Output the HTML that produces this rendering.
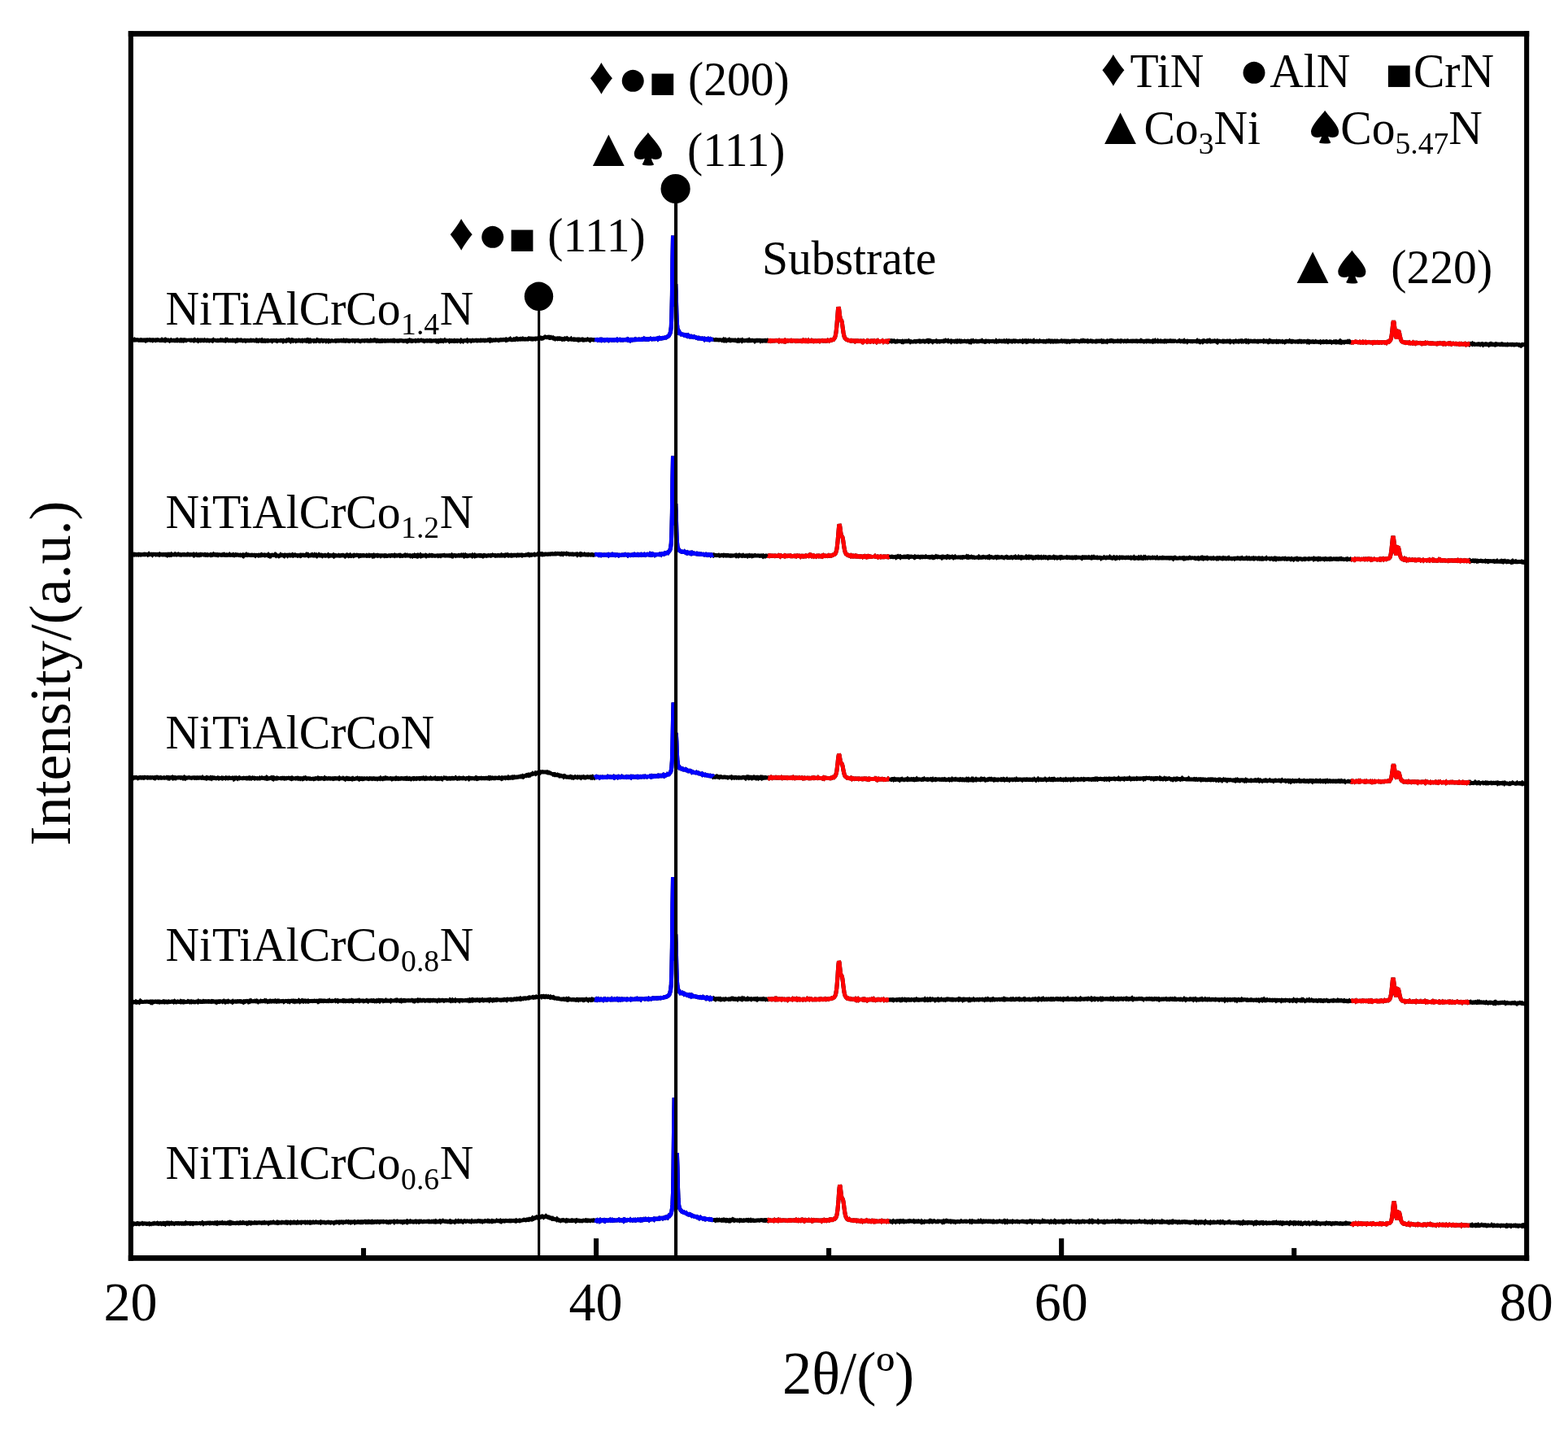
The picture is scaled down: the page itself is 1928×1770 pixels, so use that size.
<!DOCTYPE html>
<html lang="en">
<head>
<meta charset="utf-8">
<title>XRD patterns</title>
<style>
html,body{margin:0;padding:0;background:#fff;}
body{width:1928px;height:1770px;overflow:hidden;}
svg{display:block;}
.t{font-family:"Liberation Serif","DejaVu Serif",serif;fill:#000;}
.s{font-family:"Liberation Serif","DejaVu Sans",serif;fill:#000;}
.w{font-family:"WenQuanYi Zen Hei","Noto Sans CJK SC","DejaVu Sans",sans-serif;fill:#000;}
.c path{fill:none;stroke-width:5;stroke-linejoin:miter;stroke-miterlimit:1.6;stroke-linecap:butt;}
.d{fill:#000;}
</style>
</head>
<body>
<svg width="1928" height="1770" viewBox="0 0 1928 1770" role="img" aria-label="XRD patterns">
<rect width="1928" height="1770" fill="#fff"/>
<g class="c">
<path d="M160.8 417.9l.6 0l.6 .1l.5-.5l.6 .6l.5-.2l.6-.1l.5 .2l.6-.5l.5 .5l.6-.2l.5 .3l.6 0l.5-.3l.6 0l.5-.2l.6 .2l.5 .3l.6 .2l.5-.2l.6-.1l.5-.2l.6 .3l.5-.3l.6 .3l.5-.1l.6 .3l.5-.2l.6 .1l.5-.2l.6 .3l.5-.2l.6 .4l.5-.9l.6 .7l.5-.5l.6 0l.5 .3l.6-.4l.5 .1l.6 .2l.5 0l.6-.4l.5 .3l.6 .4l.5-.2l.6-.2l.5 .2l.6-.1l.5 .4l.6-.5l.5 .2l.6-.1l.5 1.3l.6-1.4l.5 .4l.6-.5l.5 0l.6 .2l.5 .1l.6-.4l.5 .3l.6 .1l.5 0l.6 .3l.5-.1l.6-.1l.5 .2l.6 0l.5-.5l.6 .8l.5-.6l.6-.1l.5 .3l.6-.3l.5 .3l.6-.5l.5 .6l.6-.6l.5 .5l.6-.2l.5-.1l.6 .2l.5-.2l.6 0l.5 .3l.6 .4l.5-.8l.6 .6l.5 0l.6-.6l.5 .3l.6 .1l.5-.7l.6 .9l.5-.1l.6 .2l.5-.3l.6 .2l.5 .2l.6-.4l.5-.2l.6-.3l.5 .5l.6-.4l.5 .6l.6-.2l.5 .1l.6-.1l.5 .3l.6-.5l.5 .2l.6 .3l.5-.7l.6 .3l.5 .3l.6-.5l.5 .1l.6-.2l.5 .7l.6-.4l.5 0l.6-.3l.5 .1l.6 .5l.5-.3l.6 0l.5 1.2l.6-1.8l.5 1.1l.6-.5l.5-.1l.6 .1l.5 .1l.6 .2l.5-.4l.6 0l.5 .2l.6 .1l.5 .1l.6-.3l.5 .4l.6-.6l.5 .7l.6-.7l.5 .3l.6 .1l.5 .2l.6 .1l.5-.4l.6 .5l.5-.7l.6 .3l.5-.1l.6 .2l.5-.4l.6 0l.5 .6l.6-.1l.5-.1l.6-.3l.5 .3l.6 0l.5 .2l.6-.3l.5-.5l.6 .4l.5 .1l.6 .2l.5-.3l.6-.2l.5 .6l.6-.2l.5-.4l.6 .1l.5 .4l.6-.6l.5 1.4l.6-1l.5-.1l.6 .3l.5-.3l.6 .1l.5 .4l.6-.6l.5 .7l.6-.9l.5 .2l.6 1l.5-1l.6 .1l.5 .3l.6 .1l.5-.2l.6-.2l.5 .3l.6-.1l.5 .2l.6-.2l.5-.3l.6 .2l.5-.4l.6 .6l.5 0l.6-.2l.5-.3l.6 .2l.5 .3l.6-.2l.5 .1l.6 .3l.5-.2l.6-.6l.5 .6l.6-.4l.5-.3l.6 .9l.5-.7l.6 .3l.5 .4l.6-.1l.5-.2l.6-.2l.5 .3l.6-.1l.5 .2l.6-.1l.5 .1l.6-.6l.5 .2l.6 .2l.5 .1l.6-.3l.5 0l.6 .2l.5 .8l.6-.3l.5-.6l.6 .3l.5-.6l.6 .4l.5-.1l.6-.2l.5 .1l.6 .1l.5-.1l.6-.3l.5 .5l.6 0l.5 0l.6 .3l.5-.3l.6 .1l.5-.1l.6 .1l.5-.3l.6 .2l.5 .5l.6-.4l.5-.1l.6-.1l.5 .3l.6-.1l.5 0l.6 .2l.5-.2l.6 0l.5-.2l.6-.2l.5 .5l.6 0l.5-.3l.6 0l.5-.1l.6 0l.5 .2l.6 .1l.5 .2l.6-.1l.5-.2l.6 .3l.5-.7l.6 .4l.5 .2l.6 .3l.5-.8l.6 .1l.5 .2l.6-.3l.5 .4l.6 .1l.5-.2l.6-.4l.5 1l.6-.1l.5-.3l.6 .3l.5-.6l.6-.1l.5 .4l.6 .4l.5-.5l.6 .2l.5 .2l.6-.4l.5 .2l.6-.3l.5 .5l.6-.3l.5-.1l.6-.1l.5-.6l.6 .8l.5-.1l.6 0l.5-.1l.6 .6l.5-.5l.6-1.4l.5 1.4l.6-.2l.5 .1l.6 .1l.5 .1l.6 .1l.5-.3l.6 .4l.5-.9l.6 1l.5-.2l.6 0l.5-.1l.6 .1l.5-.1l.6-.1l.5-.2l.6 .4l.5-.1l.6-.2l.5 .2l.6-.2l.5 .8l.6-.5l.5 0l.6 .1l.5-1.1l.6 .9l.5 .3l.6-.6l.5 .4l.6 0l.5-.4l.6 1.1l.5-.8l.6-.6l.5 .6l.6 .3l.5 .4l.6-.8l.5-.4l.6 .7l.5-.1l.6 .2l.5-.7l.6 .3l.5 .1l.6-.1l.5 0l.6 0l.5 .5l.6-.5l.5 .3l.6-.2l.5 .2l.6 .1l.5-.2l.6-.6l.5 .2l.6 .1l.5 .4l.6-.4l.5 0l.6 .6l.5 .2l.6-.9l.5 .2l.6 .1l.5-.3l.6 .2l.5-.3l.6 .5l.5-.2l.6-.2l.5-.3l.6 .9l.5-.3l.6-.6l.5 .6l.6 .6l.5-.6l.6 .3l.5-.6l.6 .6l.5-.6l.6 0l.5 .2l.6 .2l.5 .1l.6-.4l.5-.1l.6 .8l.5-.3l.6 0l.5-.1l.6 .5l.5-.3l.6-.8l.5 .5l.6 .1l.5-.7l.6 .3l.5 .6l.6-.4l.5 .5l.6-.5l.5-.2l.6 1.5l.5-1l.6-.2l.5 .4l.6-.4l.5-.2l.6 .5l.5-.2l.6-.2l.5 .2l.6-.2l.5 .7l.6-.4l.5-.2l.6-.1l.5-.1l.6 .7l.5-.5l.6 .4l.5-.1l.6 .3l.5-.5l.6-.1l.5-.1l.6 .2l.5 .2l.6 0l.5 0l.6-1.1l.5 .7l.6 0l.5 0l.6 .5l.5-.4l.6-.1l.5 .3l.6-.2l.5 .1l.6-.2l.5 0l.6 .4l.5-.2l.6-.2l.5 .2l.6 .1l.5-.4l.6 .4l.5 .1l.6-.3l.5 .2l.6-.6l.5 .4l.6 .3l.5-.3l.6 .4l.5-.2l.6 0l.5-.6l.6 .1l.5 .3l.6 .1l.5 .3l.6-.3l.5 .3l.6-.6l.5 .8l.6-.6l.5-.1l.6-.1l.5-.1l.6 .5l.5-.2l.6-.2l.5 .2l.6 0l.5 .5l.6-.5l.5 .2l.6-.2l.5-.1l.6 .1l.5 .1l.6-.3l.5 .4l.6 0l.5 .3l.6 0l.5 .3l.6-.5l.5 0l.6-.2l.5 .1l.6-.2l.5 .1l.6 .1l.5 .1l.6 .1l.5-.5l.6 0l.5 .2l.6 0l.5 0l.6-.3l.5 .4l.6-.2l.5 .2l.6-1.2l.5 .9l.6 .4l.5 0l.6-.5l.5 .5l.6-.2l.5 .1l.6-.3l.5 .1l.6-.3l.5 .5l.6-.1l.5 0l.6-.7l.5 .4l.6 .2l.5 .4l.6-.4l.5 .6l.6 0l.5-.9l.6 1.4l.5-1.1l.6 .1l.5 .7l.6 0l.5-.7l.6-.2l.5 .3l.6 .2l.5-.4l.6 .3l.5-.1l.6 0l.5 .2l.6-.6l.5 0l.6 .2l.5 .4l.6-.1l.5-.2l.6 .2l.5-.5l.6 .2l.5 .3l.6 .3l.5 .7l.6-1.1l.5-.3l.6 .1l.5 .2l.6 .1l.5-.4l.6 .2l.5 .2l.6 .2l.5-.7l.6 .3l.5 0l.6 0l.5 .1l.6-.1l.5 .1l.6 .3l.5 0l.6-.5l.5 .1l.6 .2l.5-.2l.6 .8l.5-1l.6 .1l.5-.1l.6 0l.5 .1l.6 .1l.5 .5l.6 0l.5-.4l.6 .1l.5 0l.6-.2l.5 0l.6 .4l.5-.7l.6 .7l.5-.6l.6-.2l.5 .6l.6-.4l.5-.4l.6 .8l.5 0l.6-.2l.5 .3l.6-.5l.5 .3l.6 .3l.5-.3l.6-.1l.5-.1l.6 .1l.5 .1l.6-.3l.5 .5l.6-.4l.5 .1l.6 .2l.5-.1l.6-.5l.5 .4l.6 .2l.5-.2l.6-.2l.5-.1l.6-.1l.5 .9l.6-.9l.5 .1l.6 0l.5 .4l.6 .2l.5-.2l.6 .4l.5-.4l.6 0l.5 0l.6-.2l.5 .1l.6 .2l.5-.4l.6 .2l.5 .1l.6 0l.5-.1l.6-.3l.5 .5l.6-.2l.5 .9l.6-1.3l.5 .8l.6-.1l.5 0l.6-.4l.5 0l.6 .1l.5-.1l.6 .1l.5-.2l.6 0l.5 .5l.6-.9l.5 .7l.6 0l.5 .5l.6-.8l.5 0l.6 .6l.5-.3l.6-.4l.5 .5l.6-.3l.5 .3l.6-.4l.5 .4l.6 .3l.5-.7l.6 .1l.5-.4l.6 1.1l.5-.6l.6 .2l.5-.5l.6 1.1l.5-1.2l.6-.9l.5 1.2l.6 1l.5-1.2l.6 .7l.5-.6l.6 .3l.5-.3l.6 0l.5 .5l.6-.2l.5 .3l.6 .1l.5-.4l.6-.3l.5 .4l.6-.5l.5 .3l.6 .5l.5-.1l.6-.5l.5-.2l.6 0l.5 .6l.6-.3l.5 .2l.6-.1l.5-.1l.6-.2l.5 .6l.6-.7l.5 .6l.6-.3l.5 .2l.6 .4l.5-1l.6 .5l.5-.2l.6-.1l.5 .1l.6 0l.5-.1l.6-.2l.5 .1l.6 .5l.5-.8l.6 .4l.5 .1l.6 0l.5-.2l.6-.2l.5 .2l.6 .1l.5-1.4l.6 1.6l.5-.3l.6-.3l.5 .1l.6 .3l.5 .2l.6-.2l.5-.2l.6 0l.5-.1l.6-.1l.5 .3l.6 .3l.5-.3l.6-.2l.5 0l.6 .3l.5-.1l.6 .3l.5 0l.6-.5l.5 .3l.6-.4l.5 .2l.6 0l.5-.1l.6-.1l.5 .3l.6 .2l.5-.3l.6 .2l.5-.4l.6 .2l.5 .1l.6 0l.5-.2l.6-.3l.5-.3l.6-.1l.5 .3l.6 .6l.5-.6l.6 .4l.5-.7l.6 .3l.5 .2l.6 .4l.5-.3l.6-.2l.5 .3l.6 0l.5-.2l.6 0l.5 .1l.6-.4l.5 .3l.6 0l.5 0l.6 .1l.5-.2l.6 .4l.5-.5l.6 0l.5 0l.6-.3l.5 .2l.6-.2l.5 .2l.6-.2l.5 0l.6 .2l.5-.1l.6-.4l.5 .1l.6-.1l.5 .4l.6-.4l.5 .6l.6-.6l.5 .3l.6 .3l.5-.4l.6-.2l.5-.2l.6 .1l.5-.1l.6-.5l.5 .7l.6 .2l.5 .1l.6-1l.5 .5l.6 .1l.5 .2l.6-.4l.5 .3l.6-.2l.5 .3l.6-.5l.5 .8l.6-.8l.5-.4l.6 .7l.5 .1l.6-.4l.5-.1l.6 1.1l.5-.5l.6-.2l.5-.5l.6-.3l.5 .3l.6 .1l.5 .3l.6 0l.5-.7l.6 .4l.5-.1l.6 .1l.5 .2l.6-.3l.5 .1l.6-.7l.5 1l.6 0l.5-.4l.6 .2l.5-.4l.6-.6l.5 .2l.6 0l.5 .5l.6 .2l.5-.3l.6 .3l.5-.5l.6 .2l.5 .3l.6-.5l.5 .1l.6-.1l.5 .3l.6 .2l.5-.8l.6 0l.5 0l.6 .2l.5-.2l.6 .4l.5-.2l.6-.2l.5 .1l.6 0l.5-.2l.6 .1l.5-.6l.6 .5l.5-.4l.6 .2l.5 .2l.6-.4l.5-.4l.6 0l.5-.4l.6-.5l.5 .4l.6 0l.5-.1l.6 .2l.5-.3l.6-.1l.5 0l.6-.1l.5 .8l.6 .4l.5 0l.6-.4l.5 .8l.6-.9l.5 .3l.6 0l.5 .8l.6-.6l.5 .5l.6-.3l.5 .2l.6 .5l.5-.7l.6 1.4l.5-1l.6 0l.5 .3l.6-.3l.5 .5l.6-.3l.5-.2l.6 .3l.5-.3l.6 .5l.5-.2l.6 0l.5 .4l.6 .4l.5-.4l.6-.3l.5 0l.6 .4l.5-.4l.6 .3l.5-.5l.6 .4l.5 0l.6-.3l.5 1.3l.6-1.3l.5 .3l.6 .6l.5-.3l.6-.8l.5 .8l.6-.1l.5 .1l.6-.5l.5 .7l.6-1l.5 1.1l.6 0l.5 0l.6-.3l.5 .4l.6-.4l.5 .1l.6 .3l.5 .1l.6 0l.5-.2l.6 .4l.5-.2l.6 .4l.5-.7l.6 0l.5 .2l.6 .4l.5-.3l.6-.1l.5 .1l.6 .1l.5 .2l.6-.7l.5 .1l.6 .5l.5 .4l.6-.1l.5-.9l.6 .6l.5-.2l.6-.1l.5 .3l.6-.3l.5 .8l.6-.6l.5-.1l.6 .1l.5 .3l.6 .4l.5-.8l.6-.1l.5 .3l.6-.3l.5 .1l.6 0l.5 .1l.6 .4l.5 .1l.6-.2l.5-.3l.6 0l.5 .2l.6-.1l.5 1.4l.6-1.2l.5-.7l.6 .9l.5-.3l.6 .2l.5 .1l.6-.4l.5 .4l.6-.4l.5 .4l.6-.4l.5 .7l.6-.3l.5-.5l.6 .2l.5 .3l.6 .2l.5-.9l.6 .7l.5-.4l.6 0l.5 0l.6-.1l.5 .4l.6-.1l.5-.1l.6 .5l.5-.6l.6 .1l.5 0l.6-.1l.5-.1l.6 0l.5 .5l.6-.1l.5 .2l.6-.2l.5-.2l.6 0l.5 .3l.6-.4l.5 .1l.6-.2l.5-.1l.6 .4l.5-.4l.6 .6l.5-.5l.6 .2l.5-.2l.6-.1l.5-.1l.6 .5l.5-.1l.6 .4l.5 0l.6-.3l.5 0l.6 .2l.5-.3l.6 .1l.5 0l.6 0l.5 0l.6-.2l.5-.3l.6-.1l.5 .4l.6 .3l.5 .2l.6-1l.5 .3l.6 .3l.5-.1l.6 .2l.5 .7l.6-.4l.5-.7l.6 .1l.5-.1l.6 .5l.5-.2l.6 0l.5-.3l.6 .1l.5 .1l.6-.6l.5 .4l.6-.1l.5 .2l.6-.2l.5 .1l.6 .1l.5-.2l.6-.3l.5 .3l.6-.1l.5 0l.6 .3l.5-.1l.6 0l.5-.4l.6 .2l.5-.4l.6 .1l.5-.5l.6 .6l.5 .1l.6-.4l.5 .3l.6 .1l.5-.2l.6 .2l.5-.3l.6 0l.5 .5l.6-.1l.5-.4l.6 0l.5 0l.6 .6l.5-.9l.6 .3l.5 .1l.6-.1l.5-.3l.6 0l.5-.1l.6 .4l.5 0l.6-.1l.5-.1l.6-.3l.5 0l.6 .1l.5-.3l.6 .6l.5-.6l.6 .4l.5 0l.6-.7l.5 .4l.6-.1l.5-.2l.6 .1l.5-.4l.6 0l.5-.2l.6 .2l.5-.1l.6-.3l.5 0l.6-.2l.5-.1l.6 .1l.5-.5l.6-.1l.5-.3l.6-.5l.5-.2l.6-.2l.5-.6l.6-1.1l.5-1.1l.6-1.4l.5-2.3l.6-5.2l.5-11.8l.6-26.9l.5-43.9l.6-29.4l.5 23.6l.6 41.2l.5 21.1l.6-.5l.5-15.1l.6-10.8l.5 14.6l.6 20.9l.5 12.9l.6 5.7l.5 2.7l.6 1.8l.5 1l.6-.3l.5 1.2l.6-.1l.5 .5l.6 .3l.5 .8l.6-.1l.5 .1l.6 .1l.5 .1l.6 .5l.5 .1l.6 .6l.5 0l.6-.4l.5 .3l.6-.2l.5 .7l.6-.1l.5 .4l.6-.6l.5 .6l.6 .2l.5 0l.6 .6l.5-.2l.6-.2l.5 .6l.6 0l.5-.3l.6 .1l.5 0l.6 .5l.5-.2l.6 1l.5-.6l.6-.1l.5 .2l.6 .6l.5 .1l.6-.1l.5 .3l.6-.3l.5-.1l.6 .7l.5 0l.6-.1l.5-1.4l.6 1.4l.5 .3l.6 .3l.5-.1l.6-.2l.5 .4l.6 0l.5 .1l.6 .6l.5-.6l.6 .6l.5 0l.6-.3l.5-.1l.6 .3l.5 .4l.6-.1l.5-.6l.6 .6l.5-.3l.6-.3l.5 .8l.6-.4l.5-.2l.6 .4l.5 .8l.6-.9l.5-.1l.6 .1l.5 .3l.6 .8l.5-1.4l.6 .8l.5 0l.6-.4l.5 .1l.6 .3l.5 0l.6 0l.5 0l.6 .2l.5 0l.6-.3l.5 0l.6 .8l.5-.6l.6 .1l.5 0l.6 .5l.5-.2l.6-.3l.5-.5l.6 .8l.5-.4l.6-.3l.5 .9l.6-.3l.5-.6l.6 .8l.5-.4l.6 0l.5 .1l.6 .1l.5-.4l.6 .8l.5-.7l.6 .5l.5-.4l.6 .1l.5 .2l.6-.3l.5 .2l.6 .1l.5-.1l.6 .2l.5-.2l.6 .1l.5-.2l.6 .4l.5-.2l.6 .2l.5 .3l.6-1.1l.5 .8l.6-.6l.5 .3l.6 .6l.5-.4l.6-.3l.5 .4l.6-.2l.5-.1l.6-.3l.5 .9l.6-.5l.5 .4l.6-.1l.5 0l.6 .2l.5-.4l.6 0l.5-.1l.6 .3l.5 0l.6-.3l.5 .5l.6 .1l.5-.3l.6 .1l.5-.7l.6 .5l.5 0l.6 .2l.5 0l.6-.3l.5-.2l.6 .3l.5-.1l.6 0l.5 .1l.6 .3l.5 .6l.6-.6l.5-.1l.6-.5l.5 0l.6 .4l.5-.3l.6 .2l.5 .1l.6-.4l.5 0l.6 .9l.5-1l.6 .9l.5-.4l.6 .2l.5 .2l.6-.6l.5 0l.6 .1l.5 .3l.6 .1l.5-.1l.6-.5l.5 0l.6 .2l.5 .6l.6-.1l.5-.1l.6-.6l.5 .3l.6 .4l.5-.2l.6-.1l.5 .3l.6-.3l.5 .4l.6-.4l.5-.2l.6 .1l.5 .4l.6-.1l.5-.1l.6 .2l.5 0l.6-.1l.5-.4l.6-.1l.5 .2l.6 .2l.5 0l.6-.1l.5 .1l.6-.2l.5 .6l.6-.7l.5 .3l.6 .3l.5-.3l.6 .2l.5 .3l.6-.7l.5-.1l.6 .3l.5-.1l.6 .6l.5-.6l.6-.4l.5 .6l.6-.6l.5 .9l.6-.5l.5 .3l.6-.1l.5-.3l.6 .4l.5-.2l.6-.1l.5 .1l.6 0l.5 .2l.6-.2l.5-.4l.6 .2l.5 .5l.6-.2l.5-.2l.6 .1l.5-.1l.6 .1l.5 .2l.6 .3l.5-.4l.6 .3l.5-.2l.6-.2l.5 .1l.6 .4l.5-.1l.6-.2l.5 0l.6 .1l.5 0l.6 .2l.5-.5l.6 0l.5 .3l.6-.5l.5 .9l.6-.1l.5 0l.6 .1l.5-.7l.6 .3l.5 .2l.6-.7l.5 .3l.6 .1l.5 .1l.6-.5l.5 .8l.6-.2l.5-.9l.6 .9l.5-.2l.6 .2l.5-.1l.6-.5l.5 .4l.6 .3l.5-.4l.6 .3l.5 .3l.6-.4l.5 0l.6 .2l.5-.4l.6 .2l.5 .3l.6-.2l.5-.2l.6 .2l.5-.2l.6-.3l.5 .1l.6 .5l.5-.5l.6-.1l.5-.5l.6 1.5l.5-.7l.6 0l.5-.5l.6 .1l.5 .4l.6-.2l.5-.1l.6 .1l.5 .3l.6-.4l.5 0l.6 .2l.5-.4l.6-.4l.5 .3l.6 .2l.5-.6l.6 .8l.5-.4l.6-.4l.5 .3l.6-.1l.5-.1l.6-.5l.5-.3l.6-.2l.5 .2l.6-.8l.5-.6l.6-1l.5-1.8l.6-2.5l.5-3.8l.6-5.2l.5-6.8l.6-7.4l.5-6.6l.6-3.3l.5 1.4l.6 4.4l.5 4.7l.6 3.3l.5 1.5l.6 .5l.5 .9l.6 2.6l.5 3.9l.6 4.2l.5 3.8l.6 2.9l.5 2.1l.6 1.3l.5 1.1l.6 .4l.5 .6l.6 .3l.5 .2l.6 .2l.5 .2l.6 .4l.5-.1l.6 .1l.5 .2l.6 .2l.5-.1l.6 .3l.5-.6l.6 .1l.5 .2l.6 0l.5 .3l.6 0l.5 .2l.6-.2l.5 .5l.6-.5l.5 .3l.6-.4l.5-.2l.6 0l.5 .1l.6 .6l.5-.1l.6 .1l.5-.2l.6-.1l.5 .2l.6 .2l.5-.3l.6 .3l.5 .5l.6-.7l.5-.2l.6 .8l.5-.5l.6-.1l.5 .2l.6 1l.5-1.1l.6 0l.5 .4l.6-.7l.5 .5l.6-.6l.5 .4l.6 .2l.5-.3l.6 .1l.5 .4l.6-.5l.5 .3l.6-.4l.5 .3l.6-.3l.5 .3l.6-.3l.5 .7l.6-.3l.5-.5l.6 .5l.5 0l.6 .1l.5 .5l.6-.8l.5 .2l.6-.6l.5 .6l.6 .1l.5-.3l.6 .2l.5 .2l.6-.2l.5-.2l.6 0l.5 0l.6-.4l.5 .8l.6-.7l.5 .9l.6-.5l.5 0l.6-.1l.5 .1l.6 .3l.5-.4l.6 .2l.5-.3l.6 .6l.5-.6l.6-.3l.5 .8l.6-.3l.5 0l.6-.4l.5 .3l.6 .2l.5-.9l.6 .1l.5 2.2l.6-1.3l.5-.5l.6-.2l.5 .6l.6 .2l.5-.6l.6 .8l.5-.2l.6-.4l.5 .3l.6-.4l.5 .4l.6-.1l.5-.1l.6-.1l.5 .1l.6 0l.5 0l.6 0l.5 .4l.6-.5l.5-.2l.6 .7l.5-.6l.6 .9l.5-.2l.6-.1l.5-.5l.6 .4l.5 0l.6-.3l.5-.3l.6 .1l.5 .5l.6 0l.5-.5l.6 .8l.5-1.6l.6 1l.5 .7l.6-.5l.5 .3l.6-.1l.5-.9l.6 .9l.5 0l.6 .1l.5-.2l.6-.4l.5 .1l.6 .3l.5-.3l.6 .3l.5-.3l.6-.2l.5 0l.6 .2l.5-.1l.6 .2l.5-.5l.6 .3l.5 .6l.6-.1l.5-.7l.6 .1l.5 .2l.6-.2l.5-.2l.6 .3l.5-.2l.6 .4l.5 .3l.6-.5l.5 .1l.6-.1l.5-.4l.6 .3l.5-.4l.6 .7l.5 .3l.6-.7l.5 .6l.6-.2l.5 0l.6 .7l.5-1.1l.6 .3l.5 .2l.6 .5l.5-.7l.6 0l.5 .1l.6-.2l.5 .1l.6 .1l.5 0l.6-.1l.5-.5l.6 .4l.5 .5l.6-.3l.5-.2l.6 .2l.5 .2l.6-.2l.5 .3l.6-.3l.5 0l.6-.2l.5 .1l.6 0l.5-.2l.6 .3l.5 .1l.6-.6l.5-.4l.6 .2l.5 .8l.6 .5l.5-1.5l.6 .3l.5 .9l.6-.6l.5-.4l.6 .8l.5-.1l.6-.3l.5 0l.6 0l.5-.2l.6 .8l.5-.5l.6 .2l.5-.3l.6 0l.5 .2l.6 .1l.5-.1l.6 .4l.5-.2l.6-.4l.5 .3l.6-.3l.5-.2l.6 .8l.5-.2l.6-.3l.5 .4l.6 0l.5-.5l.6 .6l.5 .1l.6-.6l.5-.3l.6 .3l.5 .3l.6 0l.5-.1l.6 0l.5 0l.6-.4l.5 .3l.6 .2l.5-.1l.6 0l.5 .2l.6-.1l.5-.6l.6 .1l.5 .2l.6 .6l.5-.5l.6 .1l.5 .5l.6-.6l.5 .5l.6-.8l.5 .3l.6-.2l.5-.4l.6 .6l.5 .3l.6-.3l.5 0l.6 0l.5-.3l.6 .5l.5 .1l.6-.3l.5 .3l.6-.2l.5-.2l.6 .3l.5-.2l.6-.2l.5-.2l.6 .1l.5 .2l.6 .1l.5-.6l.6 .6l.5-.1l.6 .3l.5 0l.6 .3l.5-.6l.6 0l.5-.2l.6 .8l.5-.2l.6-.3l.5-.2l.6 .1l.5-.2l.6 0l.5 .4l.6-.6l.5 1l.6-.5l.5 0l.6-.1l.5 0l.6 0l.5-.1l.6 0l.5 .1l.6 .1l.5 .4l.6-.3l.5-.2l.6 .3l.5-.8l.6 .5l.5 .4l.6-.2l.5 .1l.6-.5l.5-.2l.6 .4l.5-.1l.6 .2l.5 1l.6-1l.5 .2l.6-.5l.5 .1l.6 0l.5 .3l.6 .1l.5-.6l.6 .4l.5 0l.6 .3l.5-.1l.6-.7l.5 .4l.6 0l.5 .5l.6-.6l.5 .2l.6-.5l.5 .3l.6 .3l.5-.2l.6-.3l.5 .1l.6 .5l.5-.4l.6 0l.5-.3l.6 .4l.5 0l.6-.3l.5 .5l.6-.4l.5 0l.6-.1l.5 .1l.6 .1l.5 .2l.6 .3l.5-.1l.6-.4l.5-.2l.6 .2l.5-.1l.6 .2l.5 0l.6 .2l.5 .3l.6-.7l.5 .5l.6 .1l.5-.2l.6 0l.5-.6l.6 .3l.5-.3l.6 .8l.5-.5l.6 0l.5 .4l.6-.5l.5 .5l.6-.2l.5-.4l.6 0l.5-.1l.6 .5l.5 .1l.6-.2l.5 .2l.6-.2l.5-.2l.6-.4l.5 1l.6-.2l.5 .2l.6-.2l.5-.2l.6 0l.5-.2l.6 .4l.5-.2l.6 .1l.5 .2l.6-.9l.5 .8l.6-.6l.5 .4l.6 .1l.5 0l.6-.1l.5 0l.6 0l.5 .3l.6-.3l.5 .3l.6-.2l.5 .3l.6-.1l.5 .2l.6-.7l.5 .8l.6-.7l.5 .2l.6-.3l.5 .4l.6-.3l.5-.4l.6 .4l.5 .3l.6-.3l.5 .4l.6-.5l.5-.2l.6 0l.5 .2l.6 .6l.5-.3l.6-.2l.5-.2l.6 .5l.5-.2l.6 .3l.5-.4l.6-.2l.5 .5l.6 .2l.5-.3l.6 .2l.5 0l.6-.1l.5-.1l.6 0l.5-.2l.6 .1l.5 1.6l.6-1.6l.5 .3l.6-.2l.5-.4l.6 .1l.5-.1l.6 0l.5 .5l.6-.3l.5 .2l.6 .4l.5-.6l.6 .1l.5 .2l.6-.4l.5 .1l.6 .4l.5-.8l.6 .6l.5 .1l.6-.3l.5-.1l.6 .3l.5-.3l.6-.2l.5 .5l.6 0l.5 .1l.6-.5l.5 .3l.6-.1l.5-.1l.6-.1l.5 .1l.6 .1l.5-.1l.6 .1l.5 .3l.6-.1l.5 .3l.6-.4l.5-.2l.6-.3l.5 .6l.6 .1l.5-.4l.6 0l.5-.5l.6 .5l.5 .1l.6-.3l.5 .4l.6-.2l.5-.1l.6 1l.5-.6l.6 .1l.5 .2l.6-.7l.5 .3l.6 .2l.5-.1l.6-.8l.5 1.2l.6-.8l.5 .2l.6 .3l.5-.4l.6 .3l.5 .3l.6-.1l.5-.2l.6-.1l.5-1l.6 1l.5 .6l.6 0l.5-.9l.6 0l.5 .3l.6 .2l.5 0l.6 0l.5-.5l.6 .2l.5 .1l.6-.2l.5 .9l.6-.8l.5 .5l.6-.6l.5-.3l.6 0l.5 .9l.6-.3l.5-.7l.6 .8l.5-.2l.6-.8l.5 .9l.6-.3l.5 .6l.6-.6l.5 .1l.6 .1l.5-.3l.6 0l.5 .1l.6-.6l.5-.1l.6 .7l.5 .1l.6 0l.5-.4l.6 .3l.5 .4l.6-.4l.5 .2l.6 .2l.5-.2l.6 .7l.5-.7l.6 0l.5-.2l.6 .2l.5-.4l.6 .3l.5 .1l.6-.2l.5 .3l.6-.3l.5 .3l.6-.7l.5 .1l.6 .7l.5-.7l.6 .7l.5-.9l.6 .7l.5-.2l.6-.2l.5 .3l.6 .1l.5 .2l.6-.5l.5-.2l.6 .3l.5-.3l.6 .3l.5 .1l.6 .2l.5-.1l.6-.1l.5-.1l.6-.1l.5 .3l.6-.2l.5-.1l.6 .4l.5-.1l.6-.3l.5 .1l.6 .2l.5-.2l.6 .3l.5-.1l.6 .1l.5-.6l.6 .1l.5 .5l.6-.3l.5 0l.6 0l.5 .1l.6 .2l.5-.4l.6-.5l.5 .5l.6 .4l.5 0l.6-.4l.5 .1l.6 .6l.5 .2l.6-.4l.5-.2l.6-.3l.5-.1l.6 0l.5 .5l.6-.4l.5 .4l.6 .1l.5 0l.6-.4l.5 .4l.6-.1l.5 .1l.6-.3l.5 .1l.6 .3l.5-.3l.6-.3l.5 .5l.6-.6l.5 .4l.6 .4l.5-.2l.6-.7l.5 .6l.6-.2l.5 .1l.6-.1l.5 .6l.6-.8l.5 .5l.6-.3l.5 0l.6 .2l.5 .2l.6 0l.5-.6l.6 .3l.5-.1l.6 .4l.5-.1l.6-.2l.5 .2l.6-.4l.5-.2l.6 .7l.5-.2l.6-.2l.5 .3l.6-.6l.5 0l.6 .2l.5 .1l.6 .1l.5-.3l.6-.2l.5 .3l.6 .1l.5-.4l.6 .2l.5 .3l.6 .1l.5-.3l.6-.2l.5 .3l.6-.1l.5 .1l.6-.2l.5 .4l.6 .6l.5-1l.6 .5l.5-1l.6 .9l.5-.1l.6-.1l.5 0l.6-.5l.5 .4l.6 .2l.5 .3l.6-.2l.5-.3l.6 .1l.5 .2l.6-.3l.5 .2l.6-.4l.5 1.1l.6 0l.5-.6l.6-.1l.5-.1l.6-.1l.5 0l.6 .8l.5-.5l.6 .4l.5-1.8l.6 1.7l.5-.4l.6 .1l.5 .1l.6-.2l.5 .2l.6-.2l.5 0l.6 .3l.5-.3l.6 .2l.5 0l.6 0l.5-.1l.6 0l.5 .1l.6-.3l.5 .3l.6-.7l.5 .6l.6-.3l.5 .2l.6 .4l.5-.6l.6 .2l.5-.6l.6 1.1l.5-.4l.6-.1l.5 .2l.6-.3l.5 .7l.6-.5l.5 .7l.6-.9l.5-.2l.6 .3l.5 0l.6 .2l.5 .2l.6-.6l.5 .3l.6-.5l.5 .6l.6-.2l.5 .1l.6 .2l.5-.9l.6 .5l.5 .5l.6-.1l.5-.1l.6-.3l.5 .2l.6-.2l.5 .1l.6-.3l.5-.2l.6 .5l.5 .2l.6-.2l.5-.1l.6 .7l.5-.6l.6 .7l.5-.6l.6-.2l.5-.2l.6 .2l.5 .1l.6 1.3l.5-1.6l.6 .6l.5 0l.6-.1l.5-.3l.6 .5l.5-.4l.6 .3l.5-.3l.6 .3l.5-.2l.6 .3l.5-.2l.6-.3l.5 .3l.6-.3l.5 .3l.6-.2l.5 .4l.6-.2l.5-.3l.6 .7l.5-.5l.6 .3l.5-.1l.6 0l.5-.1l.6-.1l.5 .4l.6-1.1l.5 .7l.6-.3l.5 0l.6 .4l.5-.5l.6 .4l.5 .2l.6 .1l.5-.2l.6 .3l.5-.5l.6 .4l.5-.2l.6-.1l.5-.5l.6 .3l.5 .4l.6-.6l.5 .4l.6-.2l.5 .4l.6-.3l.5 .1l.6 0l.5-.4l.6 .5l.5 .3l.6-.8l.5 .4l.6-.3l.5 .3l.6-.3l.5 .8l.6-.5l.5 .4l.6-.3l.5-.1l.6-.4l.5 .3l.6 0l.5 .2l.6-.1l.5-.2l.6 .4l.5 0l.6-.2l.5-.3l.6 .3l.5 .1l.6-.2l.5 .1l.6 .3l.5-.3l.6 .4l.5-.5l.6-.1l.5 0l.6 .2l.5-.2l.6 0l.5 .2l.6-.1l.5 .8l.6-.7l.5-.2l.6 .4l.5-.6l.6 .6l.5 0l.6 0l.5-.5l.6-.1l.5 .6l.6-.2l.5-.1l.6 .6l.5-.7l.6 0l.5 .4l.6-.8l.5 .4l.6-.2l.5 .5l.6 .3l.5-.3l.6 0l.5 .4l.6-.6l.5 0l.6 .4l.5-.2l.6 .3l.5 .1l.6-.3l.5-.3l.6 .7l.5-.3l.6 0l.5 .3l.6-.7l.5 .1l.6-.1l.5 .2l.6 .3l.5-.2l.6 0l.5 0l.6 .3l.5-.4l.6 .4l.5 .2l.6 0l.5-.9l.6 .8l.5-.5l.6-.2l.5 .6l.6-.2l.5-.4l.6 0l.5 .3l.6 .1l.5 .1l.6-.2l.5-.6l.6 .5l.5 0l.6 .4l.5-.3l.6 .3l.5-.6l.6 .2l.5-.1l.6 .2l.5 0l.6 .1l.5 .2l.6-.2l.5 .1l.6-.1l.5 .1l.6 .1l.5-.3l.6 .5l.5-.1l.6-.4l.5-.4l.6 .3l.5 .3l.6 .2l.5-.6l.6 .2l.5 .2l.6 0l.5 0l.6-.3l.5 .3l.6-.3l.5 .2l.6 .1l.5 .1l.6-.3l.5-.1l.6-.2l.5 1l.6-.3l.5-.5l.6 0l.5 .8l.6-.5l.5 .3l.6 0l.5 .1l.6 0l.5-.6l.6-.1l.5 .4l.6 .3l.5-.2l.6 .2l.5-.2l.6 0l.5-.4l.6 .4l.5-.1l.6 .1l.5 .1l.6-.1l.5 .2l.6-.7l.5 .8l.6 0l.5-.4l.6 .6l.5-.5l.6 .2l.5 .1l.6 .1l.5-.4l.6 .3l.5-.4l.6 .3l.5 .1l.6-.4l.5-.1l.6 .3l.5-.3l.6 .5l.5-.3l.6 .3l.5 0l.6-.8l.5 .6l.6-.3l.5 .4l.6-.2l.5 0l.6 .5l.5-.8l.6 .6l.5 .1l.6-.2l.5 .2l.6 .1l.5-.7l.6 .2l.5-.2l.6 .5l.5-.6l.6 .3l.5 .5l.6 .1l.5-.3l.6 .4l.5 .1l.6-.6l.5-.6l.6 .7l.5-.6l.6 .7l.5 .4l.6-.6l.5 .2l.6-.1l.5 .2l.6 .3l.5-.5l.6 .2l.5-.1l.6-.5l.5 0l.6 .1l.5 .3l.6-.4l.5 1l.6-.6l.5 .2l.6 .1l.5-.7l.6 .6l.5 .1l.6 .1l.5 .2l.6-.2l.5-.3l.6 .3l.5 .1l.6-.5l.5 1l.6-.9l.5 0l.6-.5l.5 .3l.6 0l.5 .6l.6-1.4l.5 .9l.6 .4l.5-.1l.6-.2l.5-.2l.6 .6l.5 .1l.6-.4l.5 0l.6 0l.5 .2l.6 .2l.5-.8l.6 .2l.5 .3l.6-.2l.5 .3l.6 .2l.5-.4l.6 .5l.5-.3l.6-.4l.5 0l.6 .2l.5-.1l.6 .4l.5-1.5l.6 1.4l.5 0l.6 .2l.5 0l.6 .1l.5 0l.6-.3l.5 .6l.6-.4l.5 .2l.6-.4l.5-.2l.6 .4l.5 .2l.6-.1l.5-.1l.6-.1l.5-.4l.6 .2l.5 .4l.6-.1l.5-.2l.6 .2l.5-.4l.6-.1l.5 .1l.6 .1l.5 .4l.6-.2l.5-.1l.6-.1l.5 .1l.6-.1l.5 .3l.6-.6l.5 .8l.6 .3l.5-1l.6 0l.5-.3l.6 .2l.5-.3l.6-.4l.5 .4l.6-.5l.5-.8l.6-.6l.5-1.4l.6-2.3l.5-3.5l.6-4.6l.5-5.3l.6-4.7l.5-2l.6 1.9l.5 4.5l.6 5.1l.5 4.2l.6 2.9l.5 1.4l.6 0l.5-1.3l.6-2l.5-2.2l.6-1.5l.5 .2l.6 2l.5 2.7l.6 2.6l.5 2.1l.6 1.4l.5 1l.6 .3l.5-.4l.6 1.3l.5 .1l.6 .1l.5 .1l.6-.2l.5 .3l.6 .4l.5-.2l.6 .1l.5-.2l.6 0l.5 .4l.6 .1l.5-.1l.6-.4l.5 .6l.6-.2l.5 .3l.6-.3l.5 0l.6 .1l.5 .3l.6-.6l.5 .7l.6 0l.5-.4l.6 .3l.5-.6l.6 0l.5 .7l.6-.4l.5-.2l.6 .4l.5 0l.6-.8l.5 1.5l.6-.8l.5-.1l.6 .8l.5-.6l.6 .2l.5-.2l.6 .5l.5-.5l.6 0l.5-.1l.6 .4l.5-.2l.6-.1l.5 .3l.6 .1l.5-.8l.6 .4l.5-.1l.6 0l.5 .8l.6-.9l.5 .2l.6 .2l.5 0l.6 .3l.5 0l.6-.6l.5 .1l.6 .5l.5-.2l.6-.3l.5 .1l.6 .3l.5 0l.6 .1l.5 .1l.6-.2l.5 0l.6 .4l.5-.1l.6-.3l.5 .5l.6-.1l.5-.5l.6 0l.5-.1l.6-.2l.5 .4l.6 .8l.5-1l.6 .3l.5 .2l.6 .2l.5-.4l.6 .5l.5 .1l.6-.2l.5-.7l.6 .3l.5 0l.6 .5l.5-.2l.6-.1l.5-.1l.6-.1l.5-.2l.6-.2l.5 .8l.6 0l.5 0l.6-.5l.5 .6l.6 .3l.5-.6l.6-.1l.5 1.3l.6-.7l.5-.5l.6-.2l.5 .2l.6 .2l.5-.1l.6 .2l.5-.4l.6 .2l.5 .2l.6-.3l.5 .1l.6 .3l.5 .2l.6-.4l.5 .4l.6-.4l.5 .2l.6-.4l.5 .4l.6 .1l.5-1.2l.6 .8l.5 .1l.6 .4l.5-.1l.6-.1l.5-.4l.6 .5l.5 .5l.6-.5l.5 .2l.6-.1l.5 0l.6 .1l.5-.4l.6 .5l.5-.7l.6-.1l.5 .5l.6-.2l.5-.1l.6 .1l.5-.4l.6 .8l.5-.3l.6-.1l.5-.1l.6 .2l.5 .5l.6-.2l.5 0l.6-.1l.5-.1l.6 .3l.5-.1l.6-.3l.5 .4l.6-.2l.5 .2l.6 .3l.5-.6l.6 .1l.5 .1l.6-.3l.5-.3l.6 .4l.5 .6l.6-.7l.5 0l.6 .6l.5-.1l.6 .1l.5 0l.6-.8l.5 .1l.6 .4l.5 .3l.6-.3l.5 0l.6 .7l.5-.5l.6 .1l.5-.8l.6-.2l.5 .6l.6 .3l.5 0l.6 .1l.5-.4l.6 .3l.5-.2l.6 0l.5 .4l.6-.4l.5 .4l.6-.6l.5 .3l.6 .2l.5-.4l.6 .2l.5 .2l.6 .6l.5-.9l.6 .1l.5 .3l.6-.4l.5 .1l.6 .1l.5-.4l.6 .6l.5-.1l.6-.2l.5 .3l.6 .1l.5 0l.6-.3l.5 .1l.6 .3l.5-.2l.6-.2l.5 .3l.6-.4l.5 .3l.6 0l.5 .1l.6-.1l.5 0l.6-.2l.5 .1l.6 .3l.5-.2l.6-.3l.5 0l.6 .4l.5-.1l.6 0l.5 .3l.6-.2l.5-.1l.6 .1l.5-.2l.6 .8l.5-.6l.6-.2l.5 .2l.6 0l.5-.1l.6 .6l.5-.1l.6 .4l.5-.5l.6-.1l.5 .7l.6-.5l.5-.6l.6 .3l.5-.2l.6 0l.5-.2l.6 .1l.5 .2l.6 0l.5 .2l.6 0" stroke="#000"/>
<path d="M731.2 417.5l0 0l.6 0l.5 .2l.6-.1l.5 1.4l.6-1.2l.5-.7l.6 .9l.5-.3l.6 .2l.5 .1l.6-.4l.5 .4l.6-.4l.5 .4l.6-.4l.5 .7l.6-.3l.5-.5l.6 .2l.5 .3l.6 .2l.5-.9l.6 .7l.5-.4l.6 0l.5 0l.6-.1l.5 .4l.6-.1l.5-.1l.6 .5l.5-.6l.6 .1l.5 0l.6-.1l.5-.1l.6 0l.5 .5l.6-.1l.5 .2l.6-.2l.5-.2l.6 0l.5 .3l.6-.4l.5 .1l.6-.2l.5-.1l.6 .4l.5-.4l.6 .6l.5-.5l.6 .2l.5-.2l.6-.1l.5-.1l.6 .5l.5-.1l.6 .4l.5 0l.6-.3l.5 0l.6 .2l.5-.3l.6 .1l.5 0l.6 0l.5 0l.6-.2l.5-.3l.6-.1l.5 .4l.6 .3l.5 .2l.6-1l.5 .3l.6 .3l.5-.1l.6 .2l.5 .7l.6-.4l.5-.7l.6 .1l.5-.1l.6 .5l.5-.2l.6 0l.5-.3l.6 .1l.5 .1l.6-.6l.5 .4l.6-.1l.5 .2l.6-.2l.5 .1l.6 .1l.5-.2l.6-.3l.5 .3l.6-.1l.5 0l.6 .3l.5-.1l.6 0l.5-.4l.6 .2l.5-.4l.6 .1l.5-.5l.6 .6l.5 .1l.6-.4l.5 .3l.6 .1l.5-.2l.6 .2l.5-.3l.6 0l.5 .5l.6-.1l.5-.4l.6 0l.5 0l.6 .6l.5-.9l.6 .3l.5 .1l.6-.1l.5-.3l.6 0l.5-.1l.6 .4l.5 0l.6-.1l.5-.1l.6-.3l.5 0l.6 .1l.5-.3l.6 .6l.5-.6l.6 .4l.5 0l.6-.7l.5 .4l.6-.1l.5-.2l.6 .1l.5-.4l.6 0l.5-.2l.6 .2l.5-.1l.6-.3l.5 0l.6-.2l.5-.1l.6 .1l.5-.5l.6-.1l.5-.3l.6-.5l.5-.2l.6-.2l.5-.6l.6-1.1l.5-1.1l.6-1.4l.5-2.3l.6-5.2l.5-11.8l.6-26.9l.5-43.9l.6-29.4l.5 23.6l.6 41.2l.5 21.1l.6-.5l.5-15.1l.6-10.8l.5 14.6l.6 20.9l.5 12.9l.6 5.7l.5 2.7l.6 1.8l.5 1l.6-.3l.5 1.2l.6-.1l.5 .5l.6 .3l.5 .8l.6-.1l.5 .1l.6 .1l.5 .1l.6 .5l.5 .1l.6 .6l.5 0l.6-.4l.5 .3l.6-.2l.5 .7l.6-.1l.5 .4l.6-.6l.5 .6l.6 .2l.5 0l.6 .6l.5-.2l.6-.2l.5 .6l.6 0l.5-.3l.6 .1l.5 0l.6 .5l.5-.2l.6 1l.5-.6l.6-.1l.5 .2l.6 .6l.5 .1l.6-.1l.5 .3l.6-.3l.5-.1l.6 .7l.5 0l.6-.1l.5-1.4l.6 1.4l.5 .3l.6 .3l.5-.1l.6-.2l.5 .4l.6 0l.5 .1l.6 .6l.5-.6l.6 .6l.5 0l.6-.3l.5-.1l.6 .3l.5 .4l.6-.1l.5-.6l.6 .6l.5-.3l.6-.3l.5 .8l.6-.4l.5-.2l.6 .4l.5 .8l.6-.9l.5-.1l.5 0" stroke="#0000ff"/>
<path d="M944.5 418.6l.1 0l.6 .4l.5-.2l.6-.1l.5 .3l.6-.3l.5 .4l.6-.4l.5-.2l.6 .1l.5 .4l.6-.1l.5-.1l.6 .2l.5 0l.6-.1l.5-.4l.6-.1l.5 .2l.6 .2l.5 0l.6-.1l.5 .1l.6-.2l.5 .6l.6-.7l.5 .3l.6 .3l.5-.3l.6 .2l.5 .3l.6-.7l.5-.1l.6 .3l.5-.1l.6 .6l.5-.6l.6-.4l.5 .6l.6-.6l.5 .9l.6-.5l.5 .3l.6-.1l.5-.3l.6 .4l.5-.2l.6-.1l.5 .1l.6 0l.5 .2l.6-.2l.5-.4l.6 .2l.5 .5l.6-.2l.5-.2l.6 .1l.5-.1l.6 .1l.5 .2l.6 .3l.5-.4l.6 .3l.5-.2l.6-.2l.5 .1l.6 .4l.5-.1l.6-.2l.5 0l.6 .1l.5 0l.6 .2l.5-.5l.6 0l.5 .3l.6-.5l.5 .9l.6-.1l.5 0l.6 .1l.5-.7l.6 .3l.5 .2l.6-.7l.5 .3l.6 .1l.5 .1l.6-.5l.5 .8l.6-.2l.5-.9l.6 .9l.5-.2l.6 .2l.5-.1l.6-.5l.5 .4l.6 .3l.5-.4l.6 .3l.5 .3l.6-.4l.5 0l.6 .2l.5-.4l.6 .2l.5 .3l.6-.2l.5-.2l.6 .2l.5-.2l.6-.3l.5 .1l.6 .5l.5-.5l.6-.1l.5-.5l.6 1.5l.5-.7l.6 0l.5-.5l.6 .1l.5 .4l.6-.2l.5-.1l.6 .1l.5 .3l.6-.4l.5 0l.6 .2l.5-.4l.6-.4l.5 .3l.6 .2l.5-.6l.6 .8l.5-.4l.6-.4l.5 .3l.6-.1l.5-.1l.6-.5l.5-.3l.6-.2l.5 .2l.6-.8l.5-.6l.6-1l.5-1.8l.6-2.5l.5-3.8l.6-5.2l.5-6.8l.6-7.4l.5-6.6l.6-3.3l.5 1.4l.6 4.4l.5 4.7l.6 3.3l.5 1.5l.6 .5l.5 .9l.6 2.6l.5 3.9l.6 4.2l.5 3.8l.6 2.9l.5 2.1l.6 1.3l.5 1.1l.6 .4l.5 .6l.6 .3l.5 .2l.6 .2l.5 .2l.6 .4l.5-.1l.6 .1l.5 .2l.6 .2l.5-.1l.6 .3l.5-.6l.6 .1l.5 .2l.6 0l.5 .3l.6 0l.5 .2l.6-.2l.5 .5l.6-.5l.5 .3l.6-.4l.5-.2l.6 0l.5 .1l.6 .6l.5-.1l.6 .1l.5-.2l.6-.1l.5 .2l.6 .2l.5-.3l.6 .3l.5 .5l.6-.7l.5-.2l.6 .8l.5-.5l.6-.1l.5 .2l.6 1l.5-1.1l.6 0l.5 .4l.6-.7l.5 .5l.6-.6l.5 .4l.6 .2l.5-.3l.6 .1l.5 .4l.6-.5l.5 .3l.6-.4l.5 .3l.6-.3l.5 .3l.6-.3l.5 .7l.6-.3l.5-.5l.6 .5l.5 0l.6 .1l.5 .5l.6-.8l.5 .2l.6-.6l.5 .6l.6 .1l.5-.3l.6 .2l.5 .2l.6-.2l.5-.2l.6 0l.5 0l.6-.4l.5 .8l.6-.7l.5 .9l.6-.5l.5 0l.6-.1l.5 .1l.6 .3l.5-.4l.6 .2l.5-.3l.6 .6l.5-.6l.6-.3l.3 .5" stroke="#ff0000"/>
<path d="M1661.4 420.8l.4 .2l.6-.2l.5-.3l.6 .3l.5 .1l.6-.5l.5 1l.6-.9l.5 0l.6-.5l.5 .3l.6 0l.5 .6l.6-1.4l.5 .9l.6 .4l.5-.1l.6-.2l.5-.2l.6 .6l.5 .1l.6-.4l.5 0l.6 0l.5 .2l.6 .2l.5-.8l.6 .2l.5 .3l.6-.2l.5 .3l.6 .2l.5-.4l.6 .5l.5-.3l.6-.4l.5 0l.6 .2l.5-.1l.6 .4l.5-1.5l.6 1.4l.5 0l.6 .2l.5 0l.6 .1l.5 0l.6-.3l.5 .6l.6-.4l.5 .2l.6-.4l.5-.2l.6 .4l.5 .2l.6-.1l.5-.1l.6-.1l.5-.4l.6 .2l.5 .4l.6-.1l.5-.2l.6 .2l.5-.4l.6-.1l.5 .1l.6 .1l.5 .4l.6-.2l.5-.1l.6-.1l.5 .1l.6-.1l.5 .3l.6-.6l.5 .8l.6 .3l.5-1l.6 0l.5-.3l.6 .2l.5-.3l.6-.4l.5 .4l.6-.5l.5-.8l.6-.6l.5-1.4l.6-2.3l.5-3.5l.6-4.6l.5-5.3l.6-4.7l.5-2l.6 1.9l.5 4.5l.6 5.1l.5 4.2l.6 2.9l.5 1.4l.6 0l.5-1.3l.6-2l.5-2.2l.6-1.5l.5 .2l.6 2l.5 2.7l.6 2.6l.5 2.1l.6 1.4l.5 1l.6 .3l.5-.4l.6 1.3l.5 .1l.6 .1l.5 .1l.6-.2l.5 .3l.6 .4l.5-.2l.6 .1l.5-.2l.6 0l.5 .4l.6 .1l.5-.1l.6-.4l.5 .6l.6-.2l.5 .3l.6-.3l.5 0l.6 .1l.5 .3l.6-.6l.5 .7l.6 0l.5-.4l.6 .3l.5-.6l.6 0l.5 .7l.6-.4l.5-.2l.6 .4l.5 0l.6-.8l.5 1.5l.6-.8l.5-.1l.6 .8l.5-.6l.6 .2l.5-.2l.6 .5l.5-.5l.6 0l.5-.1l.6 .4l.5-.2l.6-.1l.5 .3l.6 .1l.5-.8l.6 .4l.5-.1l.6 0l.5 .8l.6-.9l.5 .2l.6 .2l.5 0l.6 .3l.5 0l.6-.6l.5 .1l.6 .5l.5-.2l.6-.3l.5 .1l.6 .3l.5 0l.6 .1l.5 .1l.6-.2l.5 0l.6 .4l.5-.1l.6-.3l.5 .5l.6-.1l.5-.5l.6 0l.5-.1l.6-.2l.5 .4l.6 .8l.5-1l.6 .3l.5 .2l.6 .2l.5-.4l.6 .5l.5 .1l.6-.2l.5-.7l.6 .3l.5 0l.6 .5l.5-.2l.6-.1l.5-.1l.6-.1l.5-.2l.6-.2l.5 .8l.6 0l.5 0l.6-.5l.5 .6l.6 .3l.5-.6l.6-.1l.5 1.3l.6-.7l.5-.5l.6-.2l.5 .2l.6 .2l.5-.1l.6 .2l.5-.4l.6 .2l.5 .2l.6-.3l.5 .1l.6 .3l.5 .2l.6-.4l.5 .4l.6-.4l.5 .2l.6-.4l.5 .4l.6 .1l.5-1.2l.6 .8l.5 .1l.6 .4l.5-.1l.6-.1l.5-.4l.6 .5l.5 .5l.6-.5l.5 .2l.6-.1l.5 0l.6 .1l.5-.4l.6 .5l.1-.2" stroke="#ff0000"/>
<path d="M160.8 681.2l.6 0l.6 .1l.5-.2l.6 .4l.5-.3l.6 .1l.5-.1l.6 .6l.5-.3l.6-.2l.5 .2l.6 .4l.5 0l.6-.5l.5 0l.6 .2l.5 .3l.6-.6l.5 .1l.6-.1l.5 .3l.6-1.1l.5 1l.6 0l.5 .2l.6-.2l.5 .1l.6 .1l.5-.1l.6-.5l.5 .1l.6 .4l.5-.2l.6-.1l.5 .2l.6-.1l.5 0l.6 .6l.5-.4l.6-.6l.5 .7l.6-.1l.5-.3l.6 .1l.5-.1l.6 0l.5 .1l.6 .6l.5-.7l.6-.1l.5 0l.6 1.2l.5-.8l.6-.1l.5-.1l.6 .5l.5-.2l.6-.1l.5-.2l.6 .1l.5 .3l.6-.2l.5-.3l.6 .5l.5-.5l.6 .4l.5-.2l.6 0l.5 0l.6 .4l.5-.3l.6 0l.5-.1l.6 .4l.5-.3l.6 0l.5-.1l.6-.1l.5 .6l.6-.1l.5-.6l.6 .9l.5-.5l.6 .5l.5 .1l.6-.6l.5 .5l.6-.3l.5-.1l.6-.5l.5 .6l.6-.4l.5 .3l.6-.1l.5 0l.6 0l.5 .2l.6-.2l.5-.5l.6 .5l.5 .1l.6-.2l.5 .4l.6-.2l.5-.3l.6 1l.5-.8l.6 .1l.5-.2l.6 .3l.5-.2l.6 .1l.5 .3l.6-.3l.5 0l.6-.3l.5 0l.6 .5l.5 0l.6-.4l.5 .2l.6 .1l.5 0l.6-.1l.5-.1l.6-.3l.5 .5l.6-.2l.5-.3l.6 .3l.5 .3l.6-.2l.5-.1l.6 .2l.5-.1l.6 0l.5-.1l.6-.2l.5 .1l.6 .6l.5-.6l.6 .6l.5-.5l.6 .1l.5-.1l.6-.3l.5 .8l.6 .2l.5-.4l.6 0l.5 .3l.6-.4l.5 .4l.6-.5l.5 .1l.6 .2l.5-.6l.6 .3l.5-.1l.6 .9l.5-.8l.6 0l.5 .2l.6 .1l.5-.1l.6-.5l.5 .3l.6 .6l.5-.1l.6-.2l.5-.3l.6 .4l.5-.3l.6 0l.5 0l.6 0l.5 .2l.6 .3l.5-.5l.6 .5l.5 0l.6-.6l.5-.1l.6-.4l.5 .8l.6 0l.5-.1l.6 .1l.5-.4l.6 .3l.5-.2l.6-.2l.5 .7l.6 .2l.5-.6l.6 0l.5-.2l.6 .4l.5 0l.6 0l.5 .1l.6 .1l.5-.6l.6-.1l.5-.1l.6 .6l.5 .1l.6-.1l.5-.5l.6 .5l.5 .3l.6-.1l.5 .2l.6-.1l.5-.4l.6 .3l.5-.1l.6-.1l.5 0l.6-.5l.5 .7l.6 .1l.5-.3l.6-.1l.5 .1l.6 .1l.5-.2l.6-.3l.5 .9l.6 .1l.5-.8l.6 .9l.5-.7l.6 .1l.5-.6l.6 .2l.5 .1l.6 .2l.5-.2l.6 .3l.5 .2l.6-.1l.5-.1l.6-.1l.5 .4l.6-.3l.5 .1l.6 0l.5 .3l.6 .5l.5-.6l.6 .6l.5-.7l.6-.1l.5-.2l.6-.2l.5 .6l.6 0l.5-.8l.6 .5l.5 .3l.6-.2l.5-.3l.6 .2l.5 0l.6 .2l.5 0l.6-.1l.5 .2l.6-.3l.5 .2l.6-.2l.5 .1l.6 .2l.5 0l.6-.3l.5 .2l.6 .5l.5-.6l.6-.1l.5 .1l.6 .1l.5 0l.6 .1l.5 .3l.6-.6l.5 .1l.6 .3l.5-.4l.6-.2l.5 .7l.6-.1l.5-.7l.6 .4l.5 .1l.6 0l.5-.2l.6 .4l.5 .2l.6-.7l.5 .1l.6 .1l.5 .1l.6-.1l.5 0l.6 .1l.5-.5l.6 .9l.5-.3l.6 .6l.5-.7l.6 .1l.5 .6l.6-.7l.5-.2l.6-.1l.5 .4l.6 .1l.5 0l.6-.1l.5-.1l.6-.6l.5 .6l.6 .5l.5-.7l.6 .5l.5 .1l.6-.3l.5-.8l.6 .9l.5-.5l.6 1l.5-.4l.6-.2l.5-.6l.6 .6l.5-.2l.6 .2l.5-.2l.6 .3l.5 .3l.6-.5l.5-.2l.6 .9l.5-.5l.6-.2l.5 .1l.6-.2l.5 0l.6 .6l.5-.7l.6-.1l.5 .4l.6 0l.5-.2l.6 .6l.5 0l.6-.4l.5 .2l.6 .1l.5-.6l.6 .6l.5-.5l.6 .4l.5-.4l.6 0l.5-.3l.6 .4l.5 .3l.6-.2l.5 .2l.6-.1l.5 .4l.6-.5l.5 .2l.6 0l.5 .2l.6-.4l.5 .5l.6-.5l.5 .3l.6-.6l.5 .1l.6 0l.5-.2l.6 .1l.5 .1l.6 .5l.5-.1l.6-.3l.5 .3l.6-.2l.5-.7l.6 .6l.5 .1l.6 .4l.5-.8l.6 .5l.5 .4l.6-.1l.5 0l.6-.2l.5-.4l.6 .5l.5 0l.6-.7l.5 .5l.6 .4l.5-.2l.6 0l.5-.6l.6 .7l.5 0l.6 .1l.5-.5l.6 .7l.5-.6l.6 .2l.5-.2l.6 .1l.5-.7l.6 .5l.5 .3l.6 .1l.5 0l.6-.6l.5 .3l.6 .6l.5-.5l.6 .2l.5-.2l.6 .3l.5-.1l.6 .2l.5-.6l.6 .2l.5 .2l.6-.1l.5 .2l.6 0l.5-.6l.6 .7l.5-.5l.6 .5l.5-.3l.6-.1l.5 .3l.6-.3l.5 0l.6 .2l.5-.2l.6 .3l.5 .4l.6-1.1l.5 .3l.6 .5l.5-.4l.6-.2l.5 .1l.6 .3l.5 0l.6 .1l.5-.1l.6 .1l.5-.5l.6 .3l.5 .3l.6 .1l.5-.2l.6-.5l.5-.1l.6 .4l.5-.2l.6 .2l.5-.4l.6 .3l.5 .1l.6 .5l.5-.9l.6 .9l.5-.4l.6-.5l.5 .5l.6 0l.5-.5l.6 .4l.5 .5l.6-.4l.5 .2l.6-.6l.5 .7l.6-.1l.5 .3l.6-.3l.5-.2l.6-.2l.5 0l.6-.3l.5 .8l.6-.3l.5-.3l.6 0l.5 .2l.6 0l.5 .1l.6 .6l.5-1.1l.6 .1l.5 0l.6 .8l.5-.5l.6-.1l.5 .4l.6-.3l.5 .4l.6-2.3l.5 1.9l.6-.2l.5 .4l.6-.1l.5 .2l.6-.3l.5 .2l.6-.1l.5 0l.6 .2l.5-.4l.6 .4l.5-.2l.6 .2l.5-.1l.6 .2l.5-.6l.6 .4l.5-.3l.6 .3l.5-.1l.6 .1l.5-.4l.6 0l.5 .8l.6-.5l.5-.4l.6 .7l.5-.5l.6 .1l.5 .2l.6-.4l.5 .2l.6 .2l.5-.3l.6 .4l.5-.5l.6 .3l.5 .1l.6-.2l.5 0l.6 .1l.5 .6l.6-.4l.5-.4l.6 0l.5 .2l.6 .1l.5-.2l.6-.1l.5 .5l.6-.4l.5 .2l.6 .3l.5-.5l.6 .2l.5 .3l.6 .1l.5-.2l.6 .8l.5-1.1l.6-.2l.5 .3l.6 .4l.5-.3l.6 0l.5-.5l.6 .2l.5-.1l.6 .3l.5-.2l.6-.3l.5-.2l.6 .7l.5-.4l.6 .4l.5-.2l.6 .3l.5 .1l.6-.4l.5 0l.6-.2l.5 .8l.6-.6l.5 .3l.6-.5l.5 .5l.6-.3l.5 .2l.6 .1l.5 .2l.6-.1l.5-.1l.6-.2l.5 .1l.6-.3l.5-.4l.6 .6l.5-.3l.6 .3l.5-.3l.6 .9l.5-.6l.6 1.8l.5-1.8l.6-.2l.5 .2l.6 .1l.5 .4l.6-.5l.5 .2l.6 .1l.5-.8l.6 .9l.5-.5l.6 .3l.5 .2l.6 .1l.5-.7l.6 .5l.5-.5l.6-.1l.5 .1l.6 .7l.5-.6l.6 .5l.5-.6l.6 .5l.5-.2l.6-.1l.5 .4l.6-1l.5 .4l.6 .1l.5 .4l.6-.3l.5 .2l.6-.3l.5 .1l.6-.1l.5 .2l.6 .1l.5-.4l.6 .6l.5-.6l.6 .2l.5-.7l.6 .9l.5 .1l.6-.2l.5 .1l.6-.7l.5 .2l.6 .3l.5 0l.6-.3l.5 .5l.6-.1l.5-.2l.6 .4l.5-.1l.6 0l.5-.1l.6 .3l.5-.2l.6-.1l.5-.1l.6 0l.5-.1l.6 .1l.5 .4l.6-.4l.5 .1l.6 .2l.5-.2l.6 .3l.5-.6l.6 0l.5 0l.6 .2l.5-.2l.6 .1l.5 0l.6-.3l.5 .5l.6 .1l.5-.3l.6 0l.5 .1l.6-.1l.5 .2l.6 0l.5-.3l.6 0l.5 .2l.6-.3l.5 .1l.6 .5l.5 0l.6-.4l.5 .4l.6-.8l.5 .4l.6 .6l.5-.5l.6-.2l.5-.1l.6 0l.5 .3l.6 .3l.5-.4l.6-.1l.5 .1l.6 .3l.5-.2l.6 0l.5-.4l.6 .1l.5 .5l.6-.1l.5-.3l.6 .2l.5-.5l.6 .5l.5 0l.6 0l.5-.5l.6 .5l.5 .6l.6-.7l.5 .3l.6-.7l.5 .5l.6 .2l.5 .3l.6-.6l.5 .1l.6 .4l.5-.3l.6 0l.5 .6l.6-.9l.5 .1l.6-.2l.5 .1l.6 .3l.5 .4l.6-.8l.5 .5l.6-.2l.5 .2l.6-.5l.5 .6l.6-.7l.5 .3l.6 .2l.5 .3l.6-.1l.5-.4l.6 0l.5 .1l.6 0l.5-.3l.6 0l.5 .5l.6-.2l.5 .2l.6-.4l.5 .1l.6 .4l.5 .4l.6-.7l.5-.3l.6 .6l.5-.1l.6-.5l.5 .1l.6 .6l.5-.8l.6 .7l.5-.2l.6-.1l.5-.2l.6 .2l.5-.1l.6 0l.5 0l.6 .3l.5-.4l.6 .3l.5-.2l.6-.4l.5 .7l.6-.7l.5 .2l.6 0l.5 .1l.6-.1l.5 .5l.6-.2l.5 .2l.6-.3l.5-.1l.6 .3l.5-.2l.6 .1l.5-.3l.6 .1l.5 .3l.6-.3l.5-.1l.6-.4l.5 .6l.6-.2l.5-.1l.6 .4l.5 0l.6-.3l.5-.2l.6 .5l.5-.5l.6-.3l.5 .5l.6-.2l.5-.1l.6 .7l.5-.7l.6 .6l.5-.3l.6 .2l.5-.2l.6-.2l.5-.1l.6 .6l.5-.3l.6 .3l.5-.5l.6 .2l.5-.1l.6-.2l.5 .3l.6-.4l.5 0l.6 0l.5 0l.6 .5l.5-.4l.6-.2l.5 .5l.6-.1l.5-.2l.6 .4l.5-.2l.6-.3l.5-.1l.6 .1l.5 .3l.6 .3l.5-.6l.6 .2l.5-.1l.6 .1l.5 0l.6 .1l.5-.2l.6-.2l.5 .2l.6-.4l.5-.1l.6 .2l.5-.4l.6 .3l.5-.4l.6 .6l.5 .4l.6-.6l.5 .2l.6-.1l.5-.2l.6 .5l.5-.1l.6-.3l.5-.1l.6 0l.5-.2l.6 .3l.5-.5l.6 .4l.5 .1l.6-.5l.5 1l.6-.6l.5-.3l.6-.6l.5 .3l.6-.2l.5 .1l.6 .6l.5-.4l.6-.4l.5 .5l.6-.1l.5 .3l.6-.7l.5 .3l.6 0l.5 .4l.6 .1l.5-.3l.6-.2l.5-.3l.6 0l.5 .2l.6 .1l.5 0l.6 .2l.5-.1l.6-.3l.5 0l.6 0l.5 .2l.6-.4l.5 .1l.6 0l.5-.2l.6-.1l.5 .5l.6 0l.5-.2l.6 0l.5 0l.6-.3l.5-.2l.6 .5l.5 .1l.6-.1l.5-.2l.6-.3l.5 .1l.6 .2l.5 .1l.6-.3l.5 .3l.6 .3l.5 .2l.6-.7l.5-.3l.6 .3l.5-.1l.6 .6l.5-.6l.6 0l.5 .9l.6-.8l.5 .1l.6 .1l.5 .2l.6-.5l.5 .4l.6-.3l.5 .2l.6 0l.5 .3l.6 .3l.5-.3l.6-.1l.5 .2l.6-.1l.5 .2l.6 .1l.5-.1l.6-.3l.5 .3l.6-.8l.5 .8l.6-.1l.5 .1l.6 0l.5-.2l.6 0l.5 0l.6 .7l.5-.6l.6 .3l.5 .1l.6-.1l.5 .1l.6-.5l.5 .6l.6-.5l.5-.2l.6 .7l.5-.3l.6 .3l.5 0l.6-.2l.5 .1l.6-.4l.5 .4l.6 .2l.5-.1l.6 .2l.5 0l.6-.3l.5-.1l.6 .4l.5-.4l.6 .3l.5 0l.6 0l.5 .2l.6-.2l.5 .2l.6-.4l.5-.2l.6 .2l.5 .5l.6 .2l.5-.1l.6-.3l.5 0l.6-.1l.5-.2l.6 .4l.5 .5l.6-1l.5 .1l.6 .2l.5 .1l.6 .4l.5-.5l.6 .3l.5-.4l.6 .3l.5 .4l.6-.6l.5 .2l.6 0l.5 0l.6 .2l.5 0l.6-.3l.5 .2l.6-.1l.5 0l.6 0l.5 .2l.6-.3l.5-.1l.6 .2l.5-.3l.6 .7l.5-.6l.6 0l.5 .4l.6-.1l.5 .1l.6 .1l.5-.4l.6-.5l.5 .4l.6 .3l.5-.4l.6 .3l.5 .3l.6 .2l.5-.6l.6 .2l.5 .1l.6-.3l.5-.1l.6 .3l.5 .1l.6 0l.5 .5l.6-.4l.5 .2l.6-.1l.5-.1l.6-.1l.5 0l.6-.1l.5 0l.6 .7l.5-.8l.6 0l.5 .1l.6-.3l.5 .8l.6-.6l.5-.1l.6 .2l.5-.7l.6 .7l.5 .5l.6-.7l.5 .2l.6-.1l.5 .3l.6 .1l.5-.8l.6 1.1l.5-.7l.6-.1l.5 0l.6 .3l.5-.5l.6 .3l.5 .1l.6-.6l.5 .4l.6-.1l.5 .3l.6-.1l.5 .2l.6-.4l.5-.3l.6 .5l.5 .3l.6-.5l.5 .2l.6-.1l.5-.1l.6-.3l.5 .5l.6-.4l.5 .2l.6 .1l.5 .2l.6-.1l.5 0l.6-.5l.5 .4l.6-.2l.5 .4l.6-.4l.5-.2l.6-.2l.5 .4l.6 .1l.5-.1l.6 .2l.5-.4l.6 .2l.5-.7l.6 .5l.5 .4l.6-.5l.5 .3l.6-.5l.5 .6l.6-.3l.5-.1l.6 .2l.5-.5l.6 1l.5-.4l.6-.1l.5 .1l.6 0l.5-.2l.6-.3l.5-1.2l.6 1.2l.5 .3l.6-.4l.5 0l.6 .4l.5 .3l.6-.9l.5 0l.6-.3l.5 0l.6 .3l.5 0l.6 .3l.5-.2l.6-.9l.5 .3l.6-.3l.5 0l.6-.6l.5 0l.6-.5l.5 .3l.6-.9l.5-.6l.6-.7l.5-.6l.6-1.6l.5-2.5l.6-4.6l.5-11.6l.6-25.6l.5-41.9l.6-28.1l.5 24.4l.6 39.3l.5 20.2l.6-.5l.5-14.4l.6-10.4l.5 14l.6 20l.5 12.1l.6 5.9l.5 2.4l.6 1.2l.5 .9l.6 .9l.5 .3l.6 .2l.5 .7l.6 .1l.5 .3l.6 0l.5-.1l.6 .3l.5 0l.6 0l.5 .7l.6-.8l.5 .5l.6 .1l.5 .5l.6-.4l.5-.1l.6 .7l.5-.5l.6 .5l.5 .2l.6 0l.5 .2l.6-.5l.5 .3l.6 .5l.5-.5l.6 .4l.5-.6l.6 .6l.5 .1l.6-.1l.5 .2l.6 .7l.5-.8l.6 .1l.5 .3l.6 0l.5 .2l.6-.6l.5 .1l.6 .5l.5 0l.6-.1l.5 .5l.6-.1l.5-.3l.6 0l.5 .5l.6-.1l.5 .2l.6 0l.5-.2l.6 0l.5 .2l.6 .5l.5 0l.6-.3l.5 1.3l.6-1.1l.5-.8l.6 .8l.5-.2l.6 .5l.5-.3l.6-.2l.5 .1l.6-.2l.5 .2l.6 .6l.5-.6l.6 0l.5 .3l.6 .2l.5 .1l.6-.3l.5 .7l.6-.4l.5-.2l.6 .2l.5 .2l.6 0l.5 .1l.6-.1l.5-.1l.6 .1l.5 .1l.6-.3l.5 .5l.6 .2l.5-.4l.6 .1l.5-.1l.6 0l.5-.3l.6 .1l.5 .1l.6-.2l.5 .4l.6-.4l.5 .3l.6-.2l.5 .2l.6-.2l.5 .5l.6-.2l.5-.2l.6 .5l.5 0l.6-.5l.5 .2l.6-.7l.5 1l.6 .2l.5-.4l.6 .2l.5-.2l.6 .2l.5-.3l.6 .1l.5 .1l.6-.1l.5-.1l.6 0l.5 .8l.6-.7l.5 .4l.6-.6l.5 .4l.6 .1l.5-.2l.6-.3l.5 .7l.6-.4l.5-.5l.6 .4l.5-.1l.6 0l.5 .2l.6 .3l.5-.4l.6 .1l.5-.4l.6 .5l.5 .1l.6 .1l.5-.8l.6 1l.5-.6l.6-.1l.5 .3l.6 .4l.5-.7l.6-.1l.5 .6l.6 0l.5-.5l.6 .5l.5-.1l.6 1.4l.5-1.9l.6 0l.5 .6l.6-.4l.5 0l.6 .4l.5-.1l.6-.3l.5 .6l.6-.8l.5 .2l.6 .1l.5 .8l.6-.7l.5-.1l.6-.1l.5 .1l.6 0l.5 0l.6 .4l.5-.1l.6-.3l.5 .1l.6-.2l.5 .3l.6 .1l.5 .5l.6-.7l.5 .4l.6 .3l.5-.4l.6-.2l.5 .4l.6-.5l.5 0l.6 .2l.5 0l.6-.1l.5 .2l.6 .1l.5-.5l.6 .3l.5-.4l.6 .2l.5 .2l.6-.3l.5 0l.6 .1l.5-.1l.6 .3l.5 .1l.6 .1l.5 .1l.6-.6l.5 0l.6 .1l.5 .1l.6 .1l.5 0l.6-.1l.5 .1l.6-.5l.5 .5l.6 0l.5-.2l.6 .7l.5-.5l.6-.2l.5 .3l.6-.1l.5-.9l.6 .8l.5 .3l.6 .2l.5-.5l.6 .4l.5-.8l.6 .2l.5 .3l.6 .2l.5 .1l.6-.3l.5 .2l.6-.1l.5-.3l.6 .1l.5 .1l.6-.3l.5 .4l.6-.2l.5 .4l.6-.1l.5 0l.6 .1l.5-.2l.6 0l.5-.2l.6 .4l.5-.1l.6-.3l.5-.1l.6 .6l.5-.4l.6-.3l.5 .3l.6-.2l.5 .1l.6 0l.5-.1l.6 .5l.5 .5l.6-.6l.5-.1l.6 .2l.5-.4l.6 0l.5 .7l.6 .1l.5-.5l.6 .1l.5-.3l.6 0l.5 .3l.6-.6l.5 .2l.6 .2l.5 .2l.6 0l.5-.4l.6-.5l.5 .8l.6-.2l.5-.7l.6 .6l.5 .3l.6-.8l.5 .4l.6 .5l.5 .1l.6-.5l.5 .6l.6-.5l.5 .3l.6-.1l.5-.1l.6-.1l.5 .7l.6-.3l.5-.4l.6 0l.5-.3l.6 0l.5 .7l.6-.2l.5 .2l.6-.3l.5-.1l.6 .4l.5-.5l.6-.3l.5 .6l.6-.6l.5 .5l.6-.1l.5-.1l.6 .2l.5-.3l.6 .1l.5 0l.6 .2l.5-.6l.6 1.2l.5-.9l.6-.4l.5 .4l.6-.2l.5 .1l.6 .1l.5-.1l.6-.4l.5 .3l.6-.4l.5 0l.6-.3l.5-.5l.6-.2l.5 0l.6-.4l.5-.6l.6-1.1l.5-1.5l.6-2.3l.5-3.6l.6-4.9l.5-6.3l.6-7l.5-6.2l.6-3.1l.5 1.3l.6 4.1l.5 4.4l.6 3.2l.5 1.4l.6 .5l.5 .8l.6 2.5l.5 3.6l.6 4l.5 3.5l.6 2.8l.5 2l.6 1.2l.5 1.2l.6 .2l.5 .4l.6 .6l.5 .3l.6-.1l.5 .5l.6 .1l.5 .1l.6-.1l.5-.3l.6 .8l.5-.4l.6 .5l.5-.2l.6-.2l.5 .6l.6-.2l.5 .2l.6-.3l.5-.3l.6 .5l.5-.3l.6 .5l.5 .2l.6-.5l.5 .3l.6 0l.5 .2l.6-.3l.5 .1l.6 .4l.5-.3l.6-.3l.5 .1l.6 .4l.5-.2l.6-.6l.5 .9l.6-.4l.5 .3l.6 .1l.5-.5l.6 .5l.5-.2l.6-.2l.5 .6l.6-.5l.5 .3l.6-.5l.5 .4l.6-.3l.5-.2l.6 .2l.5 .3l.6 0l.5 .1l.6 .1l.5-.2l.6-.2l.5-.6l.6 1.5l.5-.6l.6-.1l.5-.4l.6 1l.5-.7l.6 .2l.5-.2l.6-.1l.5 .3l.6 .5l.5-.6l.6 .2l.5-.2l.6 0l.5 .3l.6-.4l.5 .6l.6-.3l.5 .2l.6-.1l.5-.3l.6 .2l.5-.3l.6 .4l.5-.3l.6 .2l.5-.3l.6 .2l.5 0l.6-.2l.5 .5l.6-.1l.5 .2l.6-.7l.5 .1l.6 .3l.5 .1l.6 .1l.5-.3l.6-.1l.5 .2l.6-.2l.5 .2l.6 .3l.5-.3l.6 0l.5 .1l.6 .1l.5-.2l.6-.1l.5 .7l.6-.5l.5 .2l.6-.4l.5-.4l.6 .6l.5 .1l.6 .1l.5-.4l.6 .6l.5-.7l.6 .4l.5 0l.6-1.4l.5 1.5l.6 0l.5-.3l.6 .2l.5-.3l.6 .5l.5 0l.6 0l.5-.5l.6 .2l.5-.3l.6 .8l.5-.6l.6 .4l.5-.5l.6 .5l.5-.5l.6-.1l.5 .2l.6 .1l.5 0l.6 1.1l.5-1.4l.6 .1l.5 .2l.6 .1l.5 .4l.6-.5l.5 .7l.6-.4l.5-.3l.6 .5l.5 1l.6-1.3l.5-.3l.6-.2l.5 .2l.6 .2l.5 .2l.6-.2l.5 .3l.6-.5l.5 .1l.6-.2l.5 .3l.6 .2l.5-.4l.6 .1l.5-.1l.6 .1l.5 .2l.6 0l.5-.4l.6 .8l.5-.6l.6 .2l.5 .1l.6-.1l.5-.1l.6 .3l.5-.3l.6 0l.5 .4l.6-.3l.5-.3l.6-.1l.5 .5l.6-.3l.5 .5l.6-.8l.5 .8l.6-.3l.5 .4l.6-.4l.5-.4l.6 1l.5-.6l.6-.4l.5 .4l.6-.4l.5-.1l.6 .3l.5 .2l.6 0l.5 0l.6 .1l.5-.2l.6 .4l.5 .5l.6-.7l.5 .4l.6-.3l.5-.5l.6 .4l.5-.1l.6 .1l.5-.3l.6 0l.5-.2l.6 .7l.5-.4l.6 .1l.5-.6l.6 .4l.5 .2l.6 .4l.5-.5l.6 .3l.5 .1l.6-.3l.5 .1l.6 0l.5-.5l.6 .3l.5 .6l.6-.6l.5 .1l.6 .3l.5-.6l.6 .6l.5-.8l.6 .7l.5 0l.6 0l.5 0l.6-.1l.5 .1l.6 0l.5-.1l.6 .3l.5-.8l.6 .7l.5-.2l.6 0l.5 .4l.6-.5l.5 .1l.6-.1l.5 .2l.6 0l.5 1.2l.6-1.1l.5-.3l.6-.5l.5 .7l.6 .4l.5-.1l.6-.7l.5 .5l.6-.4l.5 .3l.6-.2l.5 .1l.6-.5l.5 1.3l.6-.9l.5 .3l.6-.2l.5 .3l.6-.1l.5-.2l.6 .2l.5 .4l.6-.3l.5-.8l.6 .8l.5 .1l.6-.2l.5 0l.6 0l.5 .3l.6-.8l.5 .5l.6 .2l.5-.1l.6 .2l.5-.2l.6-.2l.5 .2l.6-.5l.5-.1l.6 .4l.5-.3l.6 .2l.5 0l.6 .1l.5 .3l.6-.2l.5-.3l.6 0l.5 .3l.6-.4l.5 .5l.6-.4l.5-.4l.6 .7l.5-.5l.6 0l.5 0l.6 .6l.5 0l.6 0l.5 0l.6 .2l.5-.9l.6 .7l.5-.1l.6-.2l.5 .1l.6-.4l.5 .2l.6 .7l.5-.3l.6-.4l.5 .4l.6 .2l.5 0l.6-.4l.5 .1l.6-.3l.5-.9l.6 1l.5-.1l.6 .2l.5 .3l.6 .1l.5 .2l.6-1.3l.5 .4l.6 .5l.5 0l.6-.3l.5 .2l.6 .2l.5-.7l.6 .2l.5 1l.6-1.4l.5 1.2l.6-.1l.5 .1l.6-.5l.5-.1l.6 .2l.5-.3l.6 .3l.5-.7l.6 1l.5-.3l.6-.3l.5-.2l.6 .2l.5 .3l.6-.7l.5 .4l.6 .6l.5 0l.6-.2l.5-.1l.6 .2l.5-.7l.6 .5l.5-.2l.6 0l.5-.1l.6 .7l.5-.5l.6 .4l.5-.6l.6 0l.5 .1l.6 .1l.5 .4l.6-.2l.5-.2l.6 .3l.5 .2l.6-.9l.5 .5l.6-.3l.5 .6l.6-.2l.5-.5l.6 .6l.5-.4l.6 .9l.5-1l.6 .2l.5-.3l.6 .6l.5 0l.6 .4l.5-.9l.6 .1l.5 0l.6 0l.5 .5l.6-.4l.5 .6l.6-.2l.5-.5l.6 .4l.5 0l.6 .2l.5-.8l.6 .4l.5 .2l.6-.5l.5 .1l.6 .2l.5-.3l.6 .7l.5-.3l.6 .1l.5-.8l.6 .6l.5-.4l.6 .4l.5-.1l.6-.2l.5 .5l.6-.4l.5 .2l.6 .3l.5-1.5l.6 1.2l.5-.3l.6-.1l.5 .6l.6-.5l.5 0l.6 .3l.5 .4l.6-.1l.5 .1l.6-.2l.5 .1l.6-.6l.5-.3l.6 .6l.5 .4l.6-.7l.5 .1l.6-.1l.5 .1l.6 .3l.5 .5l.6-.4l.5 .2l.6-.4l.5 0l.6 .1l.5-.3l.6 .6l.5-.6l.6 .1l.5-.3l.6 .4l.5 .5l.6-.1l.5-.3l.6 0l.5 0l.6 .1l.5-.1l.6-.1l.5 .1l.6 .2l.5-.5l.6 .4l.5-.3l.6 .2l.5 .1l.6-.3l.5 .3l.6-.2l.5 .2l.6-.1l.5 .4l.6-.1l.5-.3l.6 .4l.5-.5l.6 .1l.5-.2l.6-.1l.5 .7l.6 .2l.5-.2l.6-.5l.5 .3l.6-.2l.5 .1l.6-.1l.5-.1l.6 .2l.5 0l.6 .5l.5-1.1l.6 .7l.5-.1l.6-.2l.5 .8l.6-.5l.5-.4l.6 .3l.5-.1l.6-.2l.5 .6l.6-.1l.5-.3l.6-.2l.5-.1l.6 .5l.5 0l.6 .1l.5-.1l.6-.5l.5 .3l.6 .3l.5 .2l.6-.4l.5 .1l.6-.4l.5 .7l.6-.3l.5 .1l.6-.3l.5-.5l.6 .6l.5-.2l.6 .1l.5 .3l.6-.3l.5 .1l.6-.2l.5 .5l.6-.2l.5 .3l.6-.2l.5 0l.6-.2l.5 .3l.6 0l.5 .6l.6-.6l.5 .1l.6-.7l.5 .7l.6 0l.5-.1l.6-.6l.5 .3l.6 .2l.5-.1l.6 .4l.5-.3l.6-.3l.5 .4l.6 0l.5-.1l.6 0l.5-.3l.6-.5l.5 .7l.6 .3l.5 .1l.6-.3l.5 .4l.6 .2l.5-.6l.6-.1l.5 .1l.6-.6l.5 .3l.6 .2l.5 .6l.6-.6l.5-.2l.6 .6l.5-.5l.6 .4l.5-.1l.6-.1l.5 .2l.6-.4l.5 .6l.6-.3l.5-.8l.6 .9l.5-.6l.6 0l.5 .5l.6-.2l.5-.2l.6 .2l.5 0l.6-.1l.5 .4l.6 0l.5-.3l.6 .1l.5-.3l.6 .2l.5 .1l.6-.3l.5 .5l.6 .1l.5-.1l.6-.1l.5-.3l.6 .5l.5-.5l.6-.1l.5 0l.6 .5l.5-.2l.6 .4l.5-.7l.6 .6l.5-.2l.6 .5l.5-.2l.6-.4l.5 0l.6 .3l.5-1.5l.6 1l.5-.3l.6 .8l.5 .3l.6-.3l.5-.3l.6 .3l.5-.7l.6 .5l.5 .3l.6 .3l.5-.7l.6-.4l.5 .8l.6-.2l.5 .1l.6-.6l.5 .6l.6-.3l.5 0l.6 .4l.5-.5l.6 0l.5-.2l.6 .4l.5-.1l.6-.1l.5 .1l.6 .4l.5-.3l.6 0l.5 0l.6-.3l.5 .5l.6-.1l.5-.1l.6 0l.5-.3l.6 .3l.5 .4l.6-.1l.5-.1l.6-.5l.5 .6l.6 .1l.5-.9l.6 .8l.5 .1l.6 0l.5-.4l.6 .1l.5 0l.6 .2l.5-.3l.6-.2l.5 .4l.6 .3l.5 0l.6-.6l.5 .1l.6 .2l.5 .2l.6-.1l.5-.2l.6 .2l.5-.2l.6-.1l.5 .4l.6 .1l.5-.2l.6 .2l.5-.4l.6 .1l.5-.1l.6 .2l.5-.1l.6 0l.5 .4l.6 .5l.5-.8l.6 .6l.5-.8l.6 .2l.5-.5l.6 .4l.5 .1l.6 .3l.5 0l.6 .1l.5 0l.6-.2l.5-.1l.6-.1l.5-.2l.6 .3l.5-.1l.6-.9l.5 .7l.6 0l.5 .2l.6-.1l.5 .5l.6-.4l.5 .6l.6-.5l.5 0l.6 .5l.5-.3l.6-.3l.5 .2l.6-.1l.5 .3l.6 0l.5-.5l.6-.3l.5 1l.6-.9l.5 .3l.6 0l.5 .1l.6-.2l.5 .2l.6 .6l.5-2.2l.6 1.3l.5 .4l.6 .2l.5-.4l.6 .2l.5 .4l.6-.4l.5-.2l.6 0l.5 .4l.6-.4l.5 .4l.6-.9l.5 .9l.6-.4l.5-.1l.6 .3l.5-.5l.6 .4l.5-.5l.6 .6l.5 .4l.6-.7l.5 .3l.6 .4l.5-.1l.6-.6l.5 .2l.6 .2l.5 0l.6 .3l.5-.8l.6 .4l.5-.2l.6 0l.5 .3l.6-.1l.5-.1l.6 1.4l.5-1.4l.6 .5l.5-.2l.6-.2l.5 .1l.6-.3l.5 .5l.6-.3l.5 .1l.6 .1l.5 0l.6 .1l.5 .3l.6-.5l.5 .4l.6-.4l.5 .3l.6-.7l.5-.1l.6 1.1l.5-.7l.6 .1l.5 .1l.6 .3l.5-.4l.6 .3l.5 .2l.6-.6l.5 .5l.6-.1l.5-.4l.6 .2l.5-.3l.6 .2l.5 .4l.6-.4l.5 .1l.6-.2l.5 .1l.6-.4l.5 .8l.6-.2l.5 .1l.6 0l.5-.1l.6 0l.5 .5l.6 .1l.5-.3l.6-.2l.5-.2l.6 .1l.5-.6l.6 .8l.5-.4l.6 .1l.5 .2l.6-.1l.5-.2l.6 .1l.5-.4l.6 .1l.5 .1l.6 .4l.5-.2l.6-.2l.5 .5l.6-.3l.5 .1l.6-.5l.5 .6l.6 .1l.5-.2l.6 0l.5 .3l.6 0l.5-.4l.6-1.6l.5 1.6l.6-.4l.5 .6l.6-.1l.5 .3l.6-.5l.5-.1l.6 .9l.5-.7l.6 .4l.5-.3l.6 0l.5 .2l.6-.5l.5 .1l.6 .4l.5 .2l.6-.7l.5 .4l.6 .3l.5-.3l.6-.4l.5 0l.6 .1l.5 .2l.6 .1l.5 .3l.6-.4l.5 .2l.6 .2l.5-.7l.6 .3l.5-.1l.6 .5l.5-.2l.6 .4l.5-.3l.6-.6l.5 .3l.6 .6l.5-.2l.6 0l.5-.3l.6-.2l.5 .3l.6 .2l.5-.6l.6 .7l.5-1l.6 1.3l.5-.5l.6-.1l.5-.2l.6 .3l.5 .3l.6-.4l.5 0l.6-.3l.5 .3l.6 .3l.5-.3l.6-.1l.5 .7l.6-.3l.5-.5l.6 .5l.5-.3l.6 .6l.5-.6l.6 .4l.5-.1l.6-.4l.5 0l.6 .5l.5-.3l.6-.2l.5 .2l.6 .4l.5-.1l.6 .1l.5 0l.6-.5l.5 .2l.6 0l.5-.4l.6 .1l.5 .4l.6-.4l.5 .6l.6-1l.5 1l.6 .1l.5-.5l.6 0l.5 .3l.6 0l.5-.4l.6 .1l.5 .2l.6 .2l.5 .4l.6-.6l.5-.3l.6 .5l.5 .1l.6 .3l.5-.9l.6 .8l.5-.5l.6-.1l.5 .2l.6-.1l.5-.3l.6 .3l.5 .4l.6-.7l.5 .3l.6 .5l.5-.4l.6-.1l.5-.1l.6 0l.5 .1l.6 .2l.5 .2l.6-1.3l.5 .6l.6 .3l.5 .4l.6-.2l.5-.3l.6 .1l.5 .4l.6-.5l.5 .1l.6 .2l.5 0l.6 0l.5-.2l.6-.1l.5 .3l.6-.5l.5 .2l.6 .1l.5 .1l.6-.1l.5-.1l.6-.1l.5 .1l.6 0l.5 .2l.6-.4l.5 .8l.6-.4l.5 .2l.6-.2l.5 .1l.6-.3l.5 .2l.6-.1l.5 .4l.6-.5l.5 .6l.6-.4l.5 .5l.6-.2l.5-.5l.6 .5l.5-.3l.6 .1l.5 1l.6-1.1l.5 .1l.6-.2l.5 .2l.6-.1l.5 .5l.6-.4l.5-.5l.6 .2l.5 .3l.6 .3l.5-.3l.6 .2l.5-.2l.6-.2l.5 .2l.6 .4l.5-.4l.6-.6l.5 .1l.6 .6l.5-.2l.6 .3l.5-.1l.6-.8l.5 1l.6-.5l.5 .2l.6 .1l.5 0l.6-.3l.5 .4l.6 .2l.5 0l.6-.5l.5 .1l.6 .3l.5-.4l.6 .1l.5 .6l.6-.8l.5 .2l.6-.4l.5 .4l.6 .2l.5 0l.6-.1l.5 .2l.6 .2l.5-.2l.6-1.6l.5 1.2l.6 0l.5 .2l.6-.3l.5-.1l.6 .9l.5-.2l.6 .6l.5-1.3l.6 .6l.5 .2l.6 0l.5-.5l.6 .4l.5 .3l.6-.3l.5 .2l.6-.2l.5 0l.6-.1l.5 .5l.6-.6l.5 .5l.6-.6l.5 .2l.6 .9l.5-.7l.6 0l.5-.5l.6 .1l.5 .1l.6-.1l.5 .3l.6 .1l.5-.9l.6 .8l.5-.2l.6 0l.5 .1l.6 .1l.5 0l.6-.4l.5 .2l.6 .3l.5-.3l.6-.2l.5 .5l.6-.1l.5 0l.6-.3l.5 .4l.6-.3l.5-.3l.6 .9l.5-.7l.6 .2l.5-.1l.6 .6l.5-.4l.6 .4l.5-.5l.6 .2l.5-.2l.6 .2l.5-.1l.6-.4l.5 .3l.6 0l.5 .2l.6 0l.5 .1l.6 .2l.5-.3l.6 .1l.5-.1l.6 0l.5-.3l.6 .5l.5-.4l.6 .4l.5-.6l.6 .3l.5 0l.6-.4l.5 .3l.6 .4l.5-.7l.6 .5l.5-.1l.6-.3l.5-.3l.6-.1l.5 .5l.6-.4l.5-.2l.6 0l.5 0l.6-.2l.5-.3l.6-.7l.5-.6l.6-1.8l.5-2.4l.6-3.7l.5-4.9l.6-5.7l.5-5l.6-2.2l.5 2l.6 4.8l.5 5.5l.6 4.5l.5 3.1l.6 1.4l.5 0l.6-1.3l.5-2.1l.6-2.5l.5-1.6l.6 .3l.5 2.1l.6 2.9l.5 2.8l.6 2.2l.5 1.6l.6 .8l.5 .9l.6 .2l.5 .6l.6-.1l.5 .4l.6-.3l.5-.5l.6 .8l.5 .6l.6-.1l.5-.5l.6 .7l.5-.6l.6 .4l.5 .1l.6 .3l.5-.3l.6-.5l.5 .5l.6 .1l.5-.2l.6 0l.5-.1l.6 .8l.5-.6l.6-.3l.5 .4l.6 .1l.5-.1l.6 .2l.5-.4l.6 .4l.5-.1l.6-.2l.5 .4l.6-.2l.5 0l.6-.4l.5 .3l.6 0l.5-.2l.6 .8l.5-.8l.6 .6l.5-.3l.6-.1l.5-.1l.6 .2l.5-.2l.6 .7l.5-.4l.6 0l.5-.1l.6 0l.5 0l.6 .2l.5 .3l.6-.3l.5 0l.6-.3l.5 .1l.6 .1l.5 .3l.6-.9l.5 .3l.6 .4l.5-.1l.6-.2l.5 .7l.6-.7l.5 .6l.6-.3l.5-.4l.6 .5l.5-.3l.6 .2l.5 .3l.6 0l.5 .2l.6-.3l.5-.1l.6 .2l.5-.2l.6-.7l.5 .6l.6-.1l.5 .7l.6-.8l.5 .5l.6-.1l.5-.4l.6 0l.5 .5l.6-.2l.5-.2l.6 .1l.5 .3l.6 0l.5 .2l.6-.3l.5 0l.6-.7l.5 .7l.6 0l.5 .4l.6-.5l.5 0l.6 .3l.5 .1l.6-.3l.5 0l.6-.2l.5 .3l.6 .1l.5-.2l.6 .2l.5-.1l.6 .2l.5-.2l.6-.2l.5 .3l.6-.1l.5-.1l.6-.2l.5 .5l.6-.1l.5-.4l.6 .6l.5-.2l.6 .3l.5-.2l.6-.3l.5 .5l.6-.5l.5 .3l.6-.1l.5 .2l.6-.2l.5-.1l.6 .4l.5-.5l.6 .4l.5-.1l.6 .2l.5-.4l.6 .4l.5 .2l.6-.4l.5 .2l.6 .1l.5-.3l.6 .4l.5-.6l.6 .7l.5-.5l.6 .4l.5-.3l.6 .1l.5 .2l.6 0l.5-.5l.6 .3l.5 .2l.6-.4l.5 .3l.6-.3l.5 .3l.6 .1l.5 .4l.6-.6l.5 .3l.6 .2l.5-.4l.6 .1l.5 0l.6-.1l.5 1.5l.6-1.1l.5-.5l.6 .2l.5 0l.6 .3l.5-.1l.6-.1l.5 0l.6-.1l.5 .2l.6-.4l.5 .5l.6-.4l.5 0l.6 .4l.5-.3l.6 0l.5 .6l.6-.4l.5 .1l.6-.2l.5-.1l.6 .2l.5 0l.6 0l.5-.1l.6 .1l.5 .1l.6-.2l.5-.2l.6 .5l.5 .4l.6-.3l.5-.1l.6 .1l.5-.2l.6-.4l.5 .7l.6 0l.5-.1l.6 .1l.5-.1l.6-.2l.5 .3l.6-.3l.5 .2l.6 .2l.5-.7l.6 .4l.5-.2l.6 .6l.5-.5l.6 .4l.5 0l.6-.6l.5 .5l.6 0l.5-.2l.6-.1l.5 .8l.6-.1l.5-.1l.6-.5l.5 .3l.6 0l.5 .3l.6 0l.5-.9l.6 .9l.5-.5l.6-.4l.5 .9l.6-.4l.5 .7l.6-.2l.5-.2l.6-.2l.5 .1l.6-.4l.5 .6l.6-.1l.5 0l.6 .1l.5-.2l.6 .3l.5-.1l.6-.1l.5-.2l.6 .2l.5 .1l.6 .1l.5 .1l.6-.7l.5 .1l.6 .7l.5-.2l.6 .4l.5-.5l.6 .1l.5-.5l.6 0l.5 .2l.6 .2" stroke="#000"/>
<path d="M731.2 681.9l0 0l.6-.1l.5-.2l.6 .4l.5 .5l.6-1l.5 .1l.6 .2l.5 .1l.6 .4l.5-.5l.6 .3l.5-.4l.6 .3l.5 .4l.6-.6l.5 .2l.6 0l.5 0l.6 .2l.5 0l.6-.3l.5 .2l.6-.1l.5 0l.6 0l.5 .2l.6-.3l.5-.1l.6 .2l.5-.3l.6 .7l.5-.6l.6 0l.5 .4l.6-.1l.5 .1l.6 .1l.5-.4l.6-.5l.5 .4l.6 .3l.5-.4l.6 .3l.5 .3l.6 .2l.5-.6l.6 .2l.5 .1l.6-.3l.5-.1l.6 .3l.5 .1l.6 0l.5 .5l.6-.4l.5 .2l.6-.1l.5-.1l.6-.1l.5 0l.6-.1l.5 0l.6 .7l.5-.8l.6 0l.5 .1l.6-.3l.5 .8l.6-.6l.5-.1l.6 .2l.5-.7l.6 .7l.5 .5l.6-.7l.5 .2l.6-.1l.5 .3l.6 .1l.5-.8l.6 1.1l.5-.7l.6-.1l.5 0l.6 .3l.5-.5l.6 .3l.5 .1l.6-.6l.5 .4l.6-.1l.5 .3l.6-.1l.5 .2l.6-.4l.5-.3l.6 .5l.5 .3l.6-.5l.5 .2l.6-.1l.5-.1l.6-.3l.5 .5l.6-.4l.5 .2l.6 .1l.5 .2l.6-.1l.5 0l.6-.5l.5 .4l.6-.2l.5 .4l.6-.4l.5-.2l.6-.2l.5 .4l.6 .1l.5-.1l.6 .2l.5-.4l.6 .2l.5-.7l.6 .5l.5 .4l.6-.5l.5 .3l.6-.5l.5 .6l.6-.3l.5-.1l.6 .2l.5-.5l.6 1l.5-.4l.6-.1l.5 .1l.6 0l.5-.2l.6-.3l.5-1.2l.6 1.2l.5 .3l.6-.4l.5 0l.6 .4l.5 .3l.6-.9l.5 0l.6-.3l.5 0l.6 .3l.5 0l.6 .3l.5-.2l.6-.9l.5 .3l.6-.3l.5 0l.6-.6l.5 0l.6-.5l.5 .3l.6-.9l.5-.6l.6-.7l.5-.6l.6-1.6l.5-2.5l.6-4.6l.5-11.6l.6-25.6l.5-41.9l.6-28.1l.5 24.4l.6 39.3l.5 20.2l.6-.5l.5-14.4l.6-10.4l.5 14l.6 20l.5 12.1l.6 5.9l.5 2.4l.6 1.2l.5 .9l.6 .9l.5 .3l.6 .2l.5 .7l.6 .1l.5 .3l.6 0l.5-.1l.6 .3l.5 0l.6 0l.5 .7l.6-.8l.5 .5l.6 .1l.5 .5l.6-.4l.5-.1l.6 .7l.5-.5l.6 .5l.5 .2l.6 0l.5 .2l.6-.5l.5 .3l.6 .5l.5-.5l.6 .4l.5-.6l.6 .6l.5 .1l.6-.1l.5 .2l.6 .7l.5-.8l.6 .1l.5 .3l.6 0l.5 .2l.6-.6l.5 .1l.6 .5l.5 0l.6-.1l.5 .5l.6-.1l.5-.3l.6 0l.5 .5l.6-.1l.5 .2l.6 0l.5-.2l.6 0l.5 .2l.6 .5l.5 0l.6-.3l.5 1.3l.6-1.1l.5-.8l.6 .8l.5-.2l.6 .5l.5-.3l.6-.2l.5 .1l.6-.2l.5 .2l.6 .6l.5-.6l.6 0l.5 .3l.6 .2l.5 .1l.5-.3" stroke="#0000ff"/>
<path d="M944.5 683.3l.1 .1l.6 .1l.5-.5l.6 .3l.5-.4l.6 .2l.5 .2l.6-.3l.5 0l.6 .1l.5-.1l.6 .3l.5 .1l.6 .1l.5 .1l.6-.6l.5 0l.6 .1l.5 .1l.6 .1l.5 0l.6-.1l.5 .1l.6-.5l.5 .5l.6 0l.5-.2l.6 .7l.5-.5l.6-.2l.5 .3l.6-.1l.5-.9l.6 .8l.5 .3l.6 .2l.5-.5l.6 .4l.5-.8l.6 .2l.5 .3l.6 .2l.5 .1l.6-.3l.5 .2l.6-.1l.5-.3l.6 .1l.5 .1l.6-.3l.5 .4l.6-.2l.5 .4l.6-.1l.5 0l.6 .1l.5-.2l.6 0l.5-.2l.6 .4l.5-.1l.6-.3l.5-.1l.6 .6l.5-.4l.6-.3l.5 .3l.6-.2l.5 .1l.6 0l.5-.1l.6 .5l.5 .5l.6-.6l.5-.1l.6 .2l.5-.4l.6 0l.5 .7l.6 .1l.5-.5l.6 .1l.5-.3l.6 0l.5 .3l.6-.6l.5 .2l.6 .2l.5 .2l.6 0l.5-.4l.6-.5l.5 .8l.6-.2l.5-.7l.6 .6l.5 .3l.6-.8l.5 .4l.6 .5l.5 .1l.6-.5l.5 .6l.6-.5l.5 .3l.6-.1l.5-.1l.6-.1l.5 .7l.6-.3l.5-.4l.6 0l.5-.3l.6 0l.5 .7l.6-.2l.5 .2l.6-.3l.5-.1l.6 .4l.5-.5l.6-.3l.5 .6l.6-.6l.5 .5l.6-.1l.5-.1l.6 .2l.5-.3l.6 .1l.5 0l.6 .2l.5-.6l.6 1.2l.5-.9l.6-.4l.5 .4l.6-.2l.5 .1l.6 .1l.5-.1l.6-.4l.5 .3l.6-.4l.5 0l.6-.3l.5-.5l.6-.2l.5 0l.6-.4l.5-.6l.6-1.1l.5-1.5l.6-2.3l.5-3.6l.6-4.9l.5-6.3l.6-7l.5-6.2l.6-3.1l.5 1.3l.6 4.1l.5 4.4l.6 3.2l.5 1.4l.6 .5l.5 .8l.6 2.5l.5 3.6l.6 4l.5 3.5l.6 2.8l.5 2l.6 1.2l.5 1.2l.6 .2l.5 .4l.6 .6l.5 .3l.6-.1l.5 .5l.6 .1l.5 .1l.6-.1l.5-.3l.6 .8l.5-.4l.6 .5l.5-.2l.6-.2l.5 .6l.6-.2l.5 .2l.6-.3l.5-.3l.6 .5l.5-.3l.6 .5l.5 .2l.6-.5l.5 .3l.6 0l.5 .2l.6-.3l.5 .1l.6 .4l.5-.3l.6-.3l.5 .1l.6 .4l.5-.2l.6-.6l.5 .9l.6-.4l.5 .3l.6 .1l.5-.5l.6 .5l.5-.2l.6-.2l.5 .6l.6-.5l.5 .3l.6-.5l.5 .4l.6-.3l.5-.2l.6 .2l.5 .3l.6 0l.5 .1l.6 .1l.5-.2l.6-.2l.5-.6l.6 1.5l.5-.6l.6-.1l.5-.4l.6 1l.5-.7l.6 .2l.5-.2l.6-.1l.5 .3l.6 .5l.5-.6l.6 .2l.5-.2l.6 0l.5 .3l.6-.4l.5 .6l.6-.3l.5 .2l.6-.1l.5-.3l.6 .2l.5-.3l.6 .4l.5-.3l.6 .2l.5-.3l.6 .2l.5 0l.6-.2l.5 .5l.6-.1l.5 .2l.6-.7l.3 .1" stroke="#ff0000"/>
<path d="M1661.4 687.6l.4 .2l.6-.3l.5 .2l.6-.2l.5 0l.6-.1l.5 .5l.6-.6l.5 .5l.6-.6l.5 .2l.6 .9l.5-.7l.6 0l.5-.5l.6 .1l.5 .1l.6-.1l.5 .3l.6 .1l.5-.9l.6 .8l.5-.2l.6 0l.5 .1l.6 .1l.5 0l.6-.4l.5 .2l.6 .3l.5-.3l.6-.2l.5 .5l.6-.1l.5 0l.6-.3l.5 .4l.6-.3l.5-.3l.6 .9l.5-.7l.6 .2l.5-.1l.6 .6l.5-.4l.6 .4l.5-.5l.6 .2l.5-.2l.6 .2l.5-.1l.6-.4l.5 .3l.6 0l.5 .2l.6 0l.5 .1l.6 .2l.5-.3l.6 .1l.5-.1l.6 0l.5-.3l.6 .5l.5-.4l.6 .4l.5-.6l.6 .3l.5 0l.6-.4l.5 .3l.6 .4l.5-.7l.6 .5l.5-.1l.6-.3l.5-.3l.6-.1l.5 .5l.6-.4l.5-.2l.6 0l.5 0l.6-.2l.5-.3l.6-.7l.5-.6l.6-1.8l.5-2.4l.6-3.7l.5-4.9l.6-5.7l.5-5l.6-2.2l.5 2l.6 4.8l.5 5.5l.6 4.5l.5 3.1l.6 1.4l.5 0l.6-1.3l.5-2.1l.6-2.5l.5-1.6l.6 .3l.5 2.1l.6 2.9l.5 2.8l.6 2.2l.5 1.6l.6 .8l.5 .9l.6 .2l.5 .6l.6-.1l.5 .4l.6-.3l.5-.5l.6 .8l.5 .6l.6-.1l.5-.5l.6 .7l.5-.6l.6 .4l.5 .1l.6 .3l.5-.3l.6-.5l.5 .5l.6 .1l.5-.2l.6 0l.5-.1l.6 .8l.5-.6l.6-.3l.5 .4l.6 .1l.5-.1l.6 .2l.5-.4l.6 .4l.5-.1l.6-.2l.5 .4l.6-.2l.5 0l.6-.4l.5 .3l.6 0l.5-.2l.6 .8l.5-.8l.6 .6l.5-.3l.6-.1l.5-.1l.6 .2l.5-.2l.6 .7l.5-.4l.6 0l.5-.1l.6 0l.5 0l.6 .2l.5 .3l.6-.3l.5 0l.6-.3l.5 .1l.6 .1l.5 .3l.6-.9l.5 .3l.6 .4l.5-.1l.6-.2l.5 .7l.6-.7l.5 .6l.6-.3l.5-.4l.6 .5l.5-.3l.6 .2l.5 .3l.6 0l.5 .2l.6-.3l.5-.1l.6 .2l.5-.2l.6-.7l.5 .6l.6-.1l.5 .7l.6-.8l.5 .5l.6-.1l.5-.4l.6 0l.5 .5l.6-.2l.5-.2l.6 .1l.5 .3l.6 0l.5 .2l.6-.3l.5 0l.6-.7l.5 .7l.6 0l.5 .4l.6-.5l.5 0l.6 .3l.5 .1l.6-.3l.5 0l.6-.2l.5 .3l.6 .1l.5-.2l.6 .2l.5-.1l.6 .2l.5-.2l.6-.2l.5 .3l.6-.1l.5-.1l.6-.2l.5 .5l.6-.1l.5-.4l.6 .6l.5-.2l.6 .3l.5-.2l.6-.3l.5 .5l.6-.5l.5 .3l.6-.1l.5 .2l.6-.2l.5-.1l.6 .4l.5-.5l.6 .4l.5-.1l.6 .2l.5-.4l.6 .4l.5 .2l.6-.4l.5 .2l.6 .1l.5-.3l.6 .4l.1-.2" stroke="#ff0000"/>
<path d="M160.8 956.0l.6-.4l.6-.4l.5 .8l.6-.6l.5 .1l.6 .7l.5-.4l.6-.2l.5 .1l.6 .2l.5 0l.6-.3l.5 .2l.6-.1l.5 .1l.6-.6l.5 1.1l.6-.3l.5-.3l.6 .2l.5-.3l.6 .2l.5 .1l.6-.7l.5-.5l.6 1.2l.5-.2l.6 .2l.5 .3l.6-.5l.5-.3l.6 .4l.5 0l.6-.2l.5-.1l.6 .2l.5 .3l.6-.4l.5 .2l.6 .1l.5-.1l.6 .2l.5-.2l.6-.3l.5 .1l.6 .4l.5-.1l.6-.2l.5 .1l.6 .1l.5 .3l.6-.5l.5-.1l.6 .6l.5-.6l.6 0l.5 .2l.6-.4l.5 .5l.6-.1l.5-.1l.6 .4l.5-.4l.6 0l.5 .1l.6 .2l.5-.3l.6 .5l.5-.2l.6 .1l.5-.1l.6 0l.5 0l.6 .2l.5-.5l.6 .1l.5 .2l.6 0l.5 .2l.6-.2l.5-.5l.6 .3l.5-.1l.6 .8l.5-.4l.6 .4l.5-.7l.6 .1l.5 0l.6-.2l.5 .1l.6 .1l.5 .4l.6-.9l.5 .3l.6 .6l.5-.3l.6 .4l.5-.4l.6 .4l.5-.6l.6 .2l.5-.1l.6-.1l.5 .1l.6 0l.5-.2l.6-.2l.5 .1l.6 .2l.5 .3l.6-.3l.5 .3l.6-.2l.5 .2l.6-.1l.5 .6l.6-.5l.5-.5l.6 .7l.5-.4l.6 .6l.5-.6l.6 0l.5 .3l.6 0l.5-.2l.6-.1l.5-.1l.6-.1l.5 .3l.6 0l.5 0l.6 .1l.5 .2l.6-.9l.5 1.2l.6-.6l.5 .1l.6 0l.5-.4l.6 0l.5 .5l.6-.3l.5 .2l.6-.1l.5 .4l.6-.3l.5-.2l.6 .4l.5-.2l.6 0l.5 .1l.6-.3l.5 .1l.6-.1l.5 .2l.6 .2l.5-.1l.6-.6l.5 .6l.6 .2l.5-.1l.6-.1l.5 .1l.6-.8l.5 .8l.6-.3l.5 .5l.6-.5l.5 .5l.6-.4l.5 0l.6 .3l.5-.2l.6 .3l.5 .3l.6-.5l.5-.5l.6 .4l.5 .6l.6-.6l.5-.3l.6 .5l.5 .1l.6-.3l.5-.2l.6 .3l.5 .1l.6 0l.5 .4l.6-.1l.5-.4l.6-.3l.5 .4l.6-.1l.5 .5l.6-.4l.5 0l.6 0l.5 0l.6 .1l.5 .2l.6-.7l.5 .1l.6 .6l.5-.2l.6-.1l.5 .1l.6 0l.5-.8l.6 .7l.5-.5l.6 .2l.5 .1l.6 .1l.5 .3l.6-.5l.5 0l.6-.1l.5 .4l.6 .2l.5 0l.6 0l.5 0l.6-.3l.5-.2l.6 .5l.5 0l.6-.2l.5 1.1l.6-.4l.5-.8l.6-.2l.5 .5l.6-.2l.5-.1l.6 .5l.5-.8l.6 .6l.5 0l.6-.5l.5 .5l.6-.3l.5 .3l.6 1.2l.5-1.6l.6 .4l.5 .1l.6-.2l.5 .1l.6-.3l.5 .2l.6 0l.5-.1l.6 .1l.5 .1l.6-.2l.5 .5l.6 0l.5-.5l.6 0l.5-.2l.6-.2l.5 .6l.6-.5l.5 1.2l.6-.7l.5 .4l.6-.4l.5 0l.6-.4l.5 .4l.6 0l.5 0l.6 .3l.5-.7l.6 .1l.5 .2l.6 .1l.5 .1l.6 .1l.5-.2l.6 .3l.5 0l.6-.1l.5 0l.6-.5l.5 .4l.6-.3l.5 0l.6 .3l.5 .5l.6-1.1l.5 .2l.6 .2l.5 0l.6-.2l.5 .4l.6 .2l.5-.1l.6-.4l.5-.5l.6 .8l.5-.3l.6 .8l.5-.1l.6 0l.5-.4l.6-.1l.5-.2l.6 1.4l.5-.9l.6-.1l.5-.5l.6 .7l.5 .3l.6-.7l.5 .5l.6-.8l.5 .4l.6-.2l.5 .4l.6-.1l.5 .4l.6-.1l.5-.6l.6 .5l.5-.2l.6 .9l.5-1.4l.6 .4l.5 .8l.6-.8l.5-.2l.6 .4l.5-.1l.6-.2l.5-.3l.6 .3l.5 .1l.6-.3l.5 .4l.6-.4l.5 .1l.6 .5l.5 0l.6-.2l.5-.4l.6 .1l.5 .7l.6-.8l.5-.2l.6 .2l.5 .3l.6-.2l.5 .5l.6 .3l.5-.7l.6 .3l.5-.6l.6 .4l.5 .1l.6 .2l.5-.1l.6-.1l.5 0l.6-.2l.5 .4l.6-.2l.5-.2l.6-.4l.5 .2l.6 .5l.5-.4l.6 .3l.5-.1l.6 0l.5 .5l.6-.4l.5-.1l.6 0l.5 0l.6 .6l.5-.4l.6-.4l.5 .5l.6-.3l.5-.3l.6 1.5l.5-.7l.6-.5l.5 .4l.6-.5l.5 .1l.6 .1l.5 .1l.6-.1l.5 .1l.6 .3l.5-.3l.6 .2l.5-.8l.6 .8l.5-.7l.6 .7l.5-.1l.6 .2l.5-.6l.6 .9l.5-.2l.6-.6l.5-.1l.6 .4l.5-.2l.6-.1l.5 0l.6 .3l.5-.7l.6 .4l.5 .1l.6 .3l.5-.4l.6 .1l.5 0l.6 .1l.5-.2l.6 .1l.5 0l.6 .1l.5 .3l.6-.3l.5-.5l.6 .8l.5-.2l.6-.3l.5 .2l.6-.2l.5 .1l.6-.6l.5 .8l.6-.1l.5-.3l.6 .2l.5 .2l.6 .1l.5-.3l.6 .2l.5 0l.6 .1l.5-.3l.6 0l.5 .5l.6-.3l.5-.2l.6 .3l.5-.1l.6-.4l.5 .1l.6 0l.5 .4l.6 0l.5-.3l.6 .1l.5 .3l.6-.7l.5 .6l.6-.3l.5 .2l.6-.1l.5-.1l.6 0l.5-.5l.6 1l.5-.6l.6 .4l.5-.1l.6 .3l.5 .4l.6-.9l.5-.1l.6-.2l.5 .6l.6-.2l.5 .4l.6-.3l.5 .3l.6-.4l.5 .2l.6-.6l.5 .8l.6-.2l.5 0l.6 .4l.5-.7l.6-.3l.5 .4l.6 .2l.5-.8l.6 1.2l.5-.1l.6-.2l.5-.4l.6-.1l.5 .2l.6 .1l.5-.4l.6 .5l.5-.1l.6 .5l.5-.7l.6 .9l.5-.7l.6 .3l.5-.1l.6 .2l.5-.5l.6 .4l.5-.4l.6 .1l.5 .3l.6-.4l.5 .2l.6 0l.5 0l.6 0l.5 0l.6-.3l.5 .2l.6 .4l.5 .1l.6-.7l.5 .9l.6-.7l.5 .3l.6 0l.5 1l.6-1.1l.5 .2l.6-.5l.5 .1l.6-.2l.5 .4l.6 0l.5-.2l.6 .3l.5-.3l.6-.1l.5 0l.6 .3l.5-.7l.6 .9l.5-.3l.6 .1l.5-.4l.6-.1l.5 .4l.6-.6l.5 .6l.6-.2l.5 .3l.6 .2l.5-.8l.6 .9l.5-.7l.6 .4l.5 0l.6-.1l.5-.6l.6 .6l.5 .8l.6-.8l.5-.6l.6 .2l.5 .2l.6 0l.5 0l.6 0l.5 .1l.6-.3l.5 .4l.6 .1l.5-.2l.6 .7l.5-.2l.6-.4l.5-.2l.6 .2l.5-.3l.6-.1l.5 .3l.6-.4l.5 .8l.6-.1l.5-.1l.6-.2l.5-.3l.6 .5l.5-.3l.6-.1l.5 .4l.6-.2l.5 .1l.6-.4l.5-.1l.6 .3l.5 .1l.6-.3l.5 0l.6 .5l.5 0l.6-.3l.5 .3l.6 .1l.5-.5l.6 .3l.5-.4l.6 .6l.5 .1l.6-.3l.5 .2l.6-.2l.5-.3l.6 .4l.5-.4l.6 .1l.5 .6l.6-.4l.5-.3l.6-.1l.5-.1l.6 0l.5 .6l.6-.4l.5 .4l.6-.1l.5-.3l.6-.1l.5 .5l.6-.3l.5-.1l.6-.2l.5 .2l.6 .1l.5-.3l.6 0l.5 .7l.6-.2l.5-.5l.6 .2l.5-.3l.6 .4l.5-.3l.6 .2l.5-.5l.6 .5l.5-.1l.6 .6l.5-.2l.6-.7l.5 .4l.6 .3l.5-.1l.6-.3l.5 0l.6 0l.5 .3l.6 .2l.5-.1l.6-.6l.5 .5l.6-.1l.5 .3l.6-.3l.5 .2l.6 0l.5-.1l.6-.4l.5 .4l.6 .1l.5-.5l.6 .6l.5-.1l.6 .2l.5-.5l.6-.2l.5 .5l.6-.2l.5 .3l.6-.5l.5-.1l.6 .3l.5 .1l.6 .3l.5-.5l.6 .5l.5-.8l.6 .9l.5-.9l.6 .6l.5-.9l.6 .3l.5-.1l.6 1.1l.5-.6l.6-.2l.5 .5l.6 0l.5-.5l.6 0l.5 .1l.6-.3l.5 .2l.6 .3l.5-.4l.6-.1l.5 .5l.6 0l.5-.5l.6 .3l.5-.2l.6 .3l.5 0l.6-.2l.5-.2l.6-.5l.5 .5l.6 .2l.5 .3l.6 .3l.5-.2l.6-.4l.5 .2l.6-.5l.5 .3l.6 .1l.5 .3l.6 .5l.5-1.1l.6 .1l.5 .2l.6-.1l.5-.4l.6 .4l.5-.2l.6 .3l.5 .2l.6-.1l.5-1.3l.6 1.2l.5-.3l.6 0l.5 .2l.6 .2l.5-.4l.6 .7l.5-.5l.6 .1l.5-.4l.6 .2l.5 0l.6 .3l.5-.1l.6-.2l.5 .2l.6 0l.5 0l.6 .2l.5-.2l.6-.5l.5 .5l.6 .3l.5-.7l.6 .5l.5-.4l.6 .4l.5-.4l.6-.1l.5 .4l.6-.2l.5 0l.6-.3l.5-.1l.6 .5l.5-.1l.6 0l.5 .2l.6 0l.5-.3l.6 .2l.5 .1l.6-.3l.5 0l.6-.2l.5 .3l.6-.1l.5 .2l.6-.4l.5 .1l.6 .3l.5-.7l.6 .3l.5 .3l.6-.6l.5 .3l.6 .3l.5-.4l.6-.2l.5 .3l.6 .3l.5-.2l.6 .2l.5-.3l.6 .3l.5-.4l.6-.2l.5 .1l.6 .2l.5 0l.6 .2l.5-.1l.6-.2l.5-.3l.6 .6l.5 0l.6 .2l.5-.3l.6-.3l.5 .7l.6-.5l.5 .4l.6-.6l.5 0l.6 0l.5-.2l.6 .2l.5 .3l.6-.6l.5 0l.6 .2l.5 .2l.6 .2l.5 .1l.6-.9l.5 .5l.6-.3l.5 .2l.6-.7l.5 .7l.6 .1l.5-.6l.6 .2l.5 .2l.6-.7l.5 .3l.6 .3l.5-.4l.6-.5l.5 .2l.6 .4l.5-.1l.6 0l.5-.4l.6 0l.5 0l.6 .1l.5-.2l.6-.3l.5-.1l.6 .1l.5 .2l.6-.1l.5-.8l.6 0l.5 .5l.6-.6l.5 .4l.6-.8l.5 1.1l.6-.4l.5-.4l.6-.1l.5-.1l.6-.5l.5 .4l.6-.4l.5-.4l.6 .2l.5 .3l.6-.8l.5 .2l.6 .3l.5-.7l.6 0l.5 0l.6-.7l.5 0l.6-.6l.5 .5l.6-.2l.5-.2l.6 0l.5-.2l.6 .4l.5-.8l.6 .4l.5-.6l.6-.2l.5 .1l.6-.1l.5 .2l.6-.8l.5 .5l.6 .2l.5-1.1l.6 .3l.5-.3l.6 .1l.5 .1l.6 0l.5-.4l.6 .2l.5 0l.6 .1l.5 .1l.6 0l.5-.1l.6 .2l.5-.2l.6-.1l.5 .8l.6 .2l.5-.5l.6 .4l.5-.2l.6 .3l.5 .1l.6 .3l.5 .4l.6 .2l.5 .1l.6-.8l.5 .8l.6 .8l.5-.3l.6 0l.5 .6l.6-.4l.5 .3l.6 .7l.5 0l.6 0l.5 0l.6-.4l.5 .3l.6 .5l.5 .1l.6-.1l.5 .8l.6-.1l.5-.2l.6-.1l.5 .4l.6 0l.5 1l.6-.6l.5-.3l.6 .9l.5-.4l.6-.4l.5 .6l.6 0l.5 .3l.6 .1l.5-.1l.6 0l.5 .1l.6-.1l.5 0l.6 .4l.5 0l.6-.1l.5-.5l.6 .4l.5-.2l.6 .6l.5-.4l.6 0l.5 0l.6 .7l.5-.4l.6-.3l.5-.3l.6 .6l.5-.8l.6 .8l.5 .1l.6-.4l.5 .5l.6-.3l.5-.3l.6 .1l.5-.2l.6 .5l.5-.1l.6 .5l.5-.6l.6 .1l.5-.4l.6 .2l.5 .2l.6 .2l.5-.6l.6 .4l.5-.7l.6 .7l.5 .3l.6-.5l.5 .1l.6-.2l.5-.3l.6 .3l.5 .1l.6 .3l.5 0l.6-.5l.5 0l.6 .5l.5-.7l.6 0l.5 .5l.6-.5l.5 .7l.6-.5l.5 .1l.6 .1l.5 .6l.6-.6l.5-.2l.6 .3l.5-.5l.6 .5l.5-.3l.6 .2l.5-.1l.6 .2l.5-.6l.6 .9l.5-.4l.6-.1l.5 .4l.6-.2l.5 .1l.6 .1l.5-.4l.6 .2l.5-.1l.6 .1l.5 .1l.6 0l.5-.2l.6 0l.5-.1l.6 .3l.5-.3l.6-.5l.5 .4l.6 0l.5 .7l.6-.7l.5 .2l.6 0l.5-.3l.6 .1l.5 .2l.6 .1l.5 .1l.6 0l.5-.5l.6 .6l.5-.6l.6 .5l.5-.5l.6 .1l.5 .2l.6 .7l.5-.7l.6-.3l.5 .6l.6-.5l.5-.4l.6 .4l.5 .2l.6 .4l.5-.1l.6-.4l.5-.4l.6 .9l.5-.6l.6 .1l.5 0l.6 .1l.5 0l.6 .3l.5 0l.6-.3l.5-.1l.6-.3l.5 .4l.6-.4l.5 .2l.6-.1l.5 .4l.6 .1l.5-.3l.6-.2l.5 0l.6 .6l.5-.7l.6 .5l.5-.3l.6-.4l.5 .4l.6 0l.5 .2l.6-.2l.5 0l.6-.2l.5 .2l.6-.3l.5 .3l.6-.3l.5 .4l.6-.6l.5 .2l.6 .4l.5-.3l.6 .1l.5-.1l.6-.3l.5 .2l.6 .3l.5-.3l.6-.1l.5-.3l.6 0l.5 0l.6 .6l.5-.2l.6-.4l.5 .3l.6-.1l.5 .2l.6-.7l.5 .8l.6-.2l.5 0l.6-.1l.5-.2l.6 .2l.5-.4l.6 .7l.5-.2l.6-.5l.5 .6l.6-.4l.5 0l.6 .2l.5-.5l.6 .1l.5-.2l.6 .5l.5 0l.6-.5l.5 0l.6 .1l.5-.2l.6-.4l.5 .5l.6-.4l.5 .4l.6-.2l.5-.4l.6 0l.5 .3l.6-.4l.5-.1l.6 .5l.5-.2l.6-.1l.5-.7l.6 .5l.5 .8l.6-.3l.5-1l.6 .1l.5 .2l.6-.2l.5-.2l.6 1l.5-1.9l.6 .2l.5 0l.6-.7l.5-.8l.6-.8l.5-1l.6-1.7l.5-3.6l.6-8.6l.5-19.1l.6-31.1l.5-20.9l.6 11.9l.5 29.2l.6 15l.5-.3l.6-10.8l.5-7.7l.6 10.5l.5 14.8l.6 9.3l.5 4.4l.6 1.7l.5 1.5l.6 .7l.5-.4l.6 .8l.5 .3l.6 .1l.5 .5l.6-.1l.5 .4l.6-.1l.5 .5l.6 .6l.5 .7l.6-.8l.5-.1l.6 .3l.5-.6l.6 .4l.5 .7l.6 .1l.5 .3l.6 0l.5 .6l.6-.1l.5-.7l.6 1.2l.5-.6l.6 .3l.5 0l.6 .2l.5 1l.6-.3l.5 .3l.6-.1l.5-.6l.6 1l.5 .1l.6-.1l.5 .2l.6-.3l.5 .6l.6 .8l.5-.7l.6 .3l.5-.2l.6 .5l.5 .1l.6 .2l.5 .1l.6 .1l.5 .2l.6 .3l.5-.4l.6 .8l.5-.4l.6 .4l.5 .2l.6 .3l.5-.1l.6-.3l.5 .5l.6-.1l.5 .2l.6 .4l.5 .1l.6-.1l.5 .3l.6 .1l.5-.3l.6 .1l.5-.1l.6 .5l.5-.1l.6 .3l.5-.1l.6-.2l.5 0l.6 1.1l.5-.4l.6 .3l.5-1.3l.6 .9l.5 .4l.6-.3l.5 .3l.6-.4l.5 .6l.6 .2l.5-.1l.6-.3l.5 0l.6 .7l.5-.4l.6-.3l.5-.1l.6 .5l.5 .2l.6 0l.5 .1l.6 0l.5-.1l.6-.2l.5 0l.6 0l.5 .2l.6 .1l.5-.1l.6 .1l.5-.1l.6 .4l.5-.7l.6 .8l.5-1.6l.6 1.1l.5 .2l.6 .7l.5-1l.6 .1l.5 .5l.6-.7l.5 .2l.6 .6l.5 0l.6-.1l.5 .2l.6-.5l.5 .2l.6 .1l.5-.4l.6 .1l.5 .5l.6-.3l.5 0l.6 .2l.5 .2l.6-.5l.5 .1l.6 .1l.5 .2l.6 .1l.5-.2l.6-.1l.5-.1l.6-.2l.5 .6l.6 .5l.5-1.1l.6 .1l.5 .5l.6 .5l.5-.8l.6 .2l.5 0l.6-.7l.5 .4l.6 .4l.5-.5l.6 .6l.5-.4l.6 .5l.5-.1l.6-.3l.5-.6l.6 .2l.5 .7l.6-.6l.5 0l.6-.3l.5 .8l.6 .1l.5-.1l.6-.5l.5 0l.6 .7l.5-.5l.6 .4l.5-.3l.6 .5l.5-.8l.6 .2l.5-.1l.6 .4l.5-.4l.6-.4l.5 .6l.6-.3l.5 .7l.6-.6l.5 .4l.6-.4l.5-.1l.6 .4l.5-.3l.6 .2l.5-.3l.6 .4l.5-.1l.6 .1l.5 0l.6 0l.5-.2l.6 .3l.5 .5l.6-.5l.5-.1l.6-.4l.5 1l.6-.6l.5 .3l.6-.7l.5-.1l.6 .3l.5 .1l.6 0l.5-.1l.6 .2l.5 0l.6 .1l.5-.6l.6 .3l.5 .2l.6-.2l.5 .2l.6-.3l.5 .4l.6-.3l.5 .3l.6 0l.5-.1l.6 0l.5-.5l.6 .4l.5 .6l.6-.2l.5-.2l.6-.3l.5 .3l.6-.2l.5 .3l.6-.1l.5-.2l.6-.1l.5 .5l.6-.3l.5 .4l.6-.2l.5 .2l.6-.1l.5-.2l.6 .3l.5-.1l.6 .1l.5-.4l.6 .5l.5 .1l.6-.3l.5-.6l.6 .6l.5 .2l.6-.9l.5 .7l.6-.3l.5 .4l.6-.2l.5 1l.6-1.4l.5 .6l.6 0l.5 0l.6-.5l.5 .4l.6 .3l.5 0l.6-.4l.5 0l.6-.3l.5 .4l.6 .4l.5-.6l.6 .1l.5 .4l.6 .1l.5-.5l.6 .2l.5 0l.6 1.4l.5-1l.6-.5l.5 .2l.6-.3l.5 0l.6 0l.5 .5l.6-.2l.5 .1l.6-.2l.5 .2l.6-.1l.5-.3l.6 .3l.5 0l.6 .1l.5-.6l.6 .4l.5-.3l.6 .2l.5 0l.6 .1l.5-.1l.6 .1l.5-.9l.6 1l.5-.7l.6 .5l.5 .1l.6 .1l.5 0l.6 0l.5 0l.6-.1l.5 0l.6 .4l.5-.4l.6 .3l.5-.6l.6 .6l.5-.6l.6-.2l.5 .1l.6 .4l.5 .1l.6-.1l.5 .2l.6 0l.5-.1l.6 0l.5 0l.6 .1l.5-1.1l.6 .8l.5-.1l.6 .2l.5-.4l.6-.2l.5 .1l.6-.2l.5-.6l.6 .3l.5-.6l.6-.4l.5-.7l.6-1.2l.5-1.8l.6-2.7l.5-3.8l.6-4.8l.5-5.3l.6-4.8l.5-2.3l.6 1l.5 3.2l.6 3.3l.5 2.4l.6 1.1l.5 .4l.6 .7l.5 1.8l.6 2.8l.5 3.1l.6 2.6l.5 2.2l.6 1.6l.5 1l.6 .6l.5 .2l.6 .4l.5 .4l.6 .6l.5 .1l.6-.1l.5 .1l.6 .2l.5-.1l.6 .1l.5-.3l.6 .5l.5-.3l.6 .7l.5-.5l.6 .2l.5-.3l.6 .2l.5 .1l.6 .4l.5-.2l.6-.2l.5 .2l.6 0l.5-.1l.6 .1l.5 .2l.6 .2l.5-.7l.6 0l.5 .6l.6-.1l.5 0l.6-.1l.5 .1l.6 .2l.5-.4l.6 .2l.5 .2l.6-.4l.5 .2l.6 .1l.5-.4l.6 .4l.5-.2l.6 .3l.5-.3l.6 .5l.5 .2l.6-1.1l.5 .6l.6 .3l.5-.7l.6 .3l.5 .2l.6-.2l.5 .2l.6 0l.5 0l.6 0l.5 0l.6 0l.5-.2l.6 .1l.5 .1l.6 .7l.5-.9l.6 .5l.5-.6l.6 .5l.5 .5l.6-.8l.5-.2l.6 .8l.5-.1l.6-.2l.5-.2l.6 .4l.5 0l.6 0l.5-.1l.6-.5l.5 .2l.6 .4l.5 .3l.6-.5l.5 0l.6 .6l.5-.1l.6-.5l.5 1l.6-1.3l.5 .4l.6-.1l.5-.5l.6 .6l.5 0l.6 .1l.5 .4l.6-1.3l.5 1l.6 .2l.5-.6l.6-.1l.5 0l.6 .6l.5-1.4l.6 1.2l.5-.4l.6 .6l.5-.3l.6 .3l.5-.5l.6 0l.5 .1l.6 .2l.5-.2l.6 .5l.5-.2l.6-.1l.5 .6l.6-.7l.5-.1l.6 .4l.5 0l.6-.5l.5 .5l.6 .1l.5-.1l.6-.1l.5 .4l.6-.3l.5 0l.6-.3l.5 .1l.6 .2l.5-.4l.6 .4l.5-.7l.6 .6l.5-.1l.6 .2l.5-.3l.6 .1l.5 .2l.6-.2l.5-.3l.6 .5l.5 .1l.6 .1l.5-.4l.6 .3l.5-.6l.6 .2l.5 .5l.6-.3l.5 .3l.6-.4l.5-.6l.6 .7l.5-.2l.6 .3l.5-.3l.6 .1l.5-.2l.6 .2l.5 0l.6 .1l.5-.1l.6 .3l.5-.3l.6 .1l.5-.4l.6 .3l.5-.4l.6 1l.5-.8l.6 .1l.5 .1l.6-.1l.5 .2l.6-.1l.5 .2l.6-.3l.5 .3l.6-.2l.5 0l.6 0l.5 0l.6-.3l.5 .3l.6 .4l.5-.5l.6-.3l.5 .8l.6-.3l.5 .3l.6-.1l.5 0l.6-.4l.5 .4l.6-.4l.5 .3l.6-.3l.5 .1l.6-.1l.5 0l.6-.1l.5 .3l.6 0l.5 .2l.6-.3l.5 0l.6 0l.5 .3l.6-.5l.5 .2l.6 .2l.5 .2l.6-.6l.5-.3l.6 .3l.5 .3l.6-.8l.5 .9l.6 .3l.5-.3l.6 0l.5-.1l.6 .2l.5-.5l.6 .2l.5 .6l.6-.4l.5-.1l.6 0l.5 .3l.6-.7l.5 .5l.6 0l.5-.3l.6-.1l.5 .2l.6-.2l.5 .3l.6-.4l.5 .4l.6-.1l.5 .2l.6 .1l.5-.2l.6 .3l.5-.2l.6-.2l.5 .4l.6-.5l.5 .4l.6-.1l.5 .2l.6-.3l.5 .5l.6-.2l.5-.3l.6 .4l.5-.3l.6-.1l.5 .5l.6-.4l.5 0l.6 .4l.5-.8l.6 .4l.5 .1l.6-.5l.5 .7l.6-.6l.5 .2l.6 0l.5 .5l.6-.4l.5-.1l.6 .4l.5-.8l.6 .5l.5-.5l.6 .6l.5-.7l.6 .7l.5-.1l.6 0l.5-.4l.6 .7l.5-.4l.6-.1l.5 0l.6 .3l.5-.2l.6 .1l.5 .1l.6 .2l.5-.4l.6-.5l.5 .7l.6-.3l.5 1.1l.6-.7l.5-.5l.6-.1l.5-.2l.6 1l.5-.5l.6 .6l.5-.5l.6 0l.5 .2l.6 .3l.5-.3l.6-.4l.5 .3l.6-.4l.5 .7l.6-.8l.5 .2l.6-.3l.5 .6l.6 0l.5-.6l.6 .3l.5 .1l.6 .1l.5 .4l.6-.6l.5 .4l.6-.5l.5-.1l.6 .3l.5 .4l.6-.3l.5 0l.6 .4l.5-.5l.6 0l.5 .1l.6 .1l.5 0l.6 0l.5 .2l.6-.6l.5 .3l.6 0l.5 .1l.6-.5l.5 .5l.6 .3l.5-.5l.6 .5l.5-.3l.6 0l.5 .1l.6-.5l.5 .7l.6-1.1l.5 .9l.6-.2l.5 .3l.6-.8l.5 .9l.6-.5l.5 .2l.6 0l.5 0l.6-.3l.5 .2l.6 .4l.5-.2l.6-.2l.5 .6l.6-.8l.5 .2l.6 .5l.5-.2l.6-.7l.5 .5l.6 .1l.5-.2l.6 .4l.5-.1l.6-.5l.5 0l.6 1.1l.5-.7l.6 0l.5-.2l.6 .2l.5-1l.6 1.1l.5-.4l.6 .1l.5-.2l.6 .3l.5 .2l.6-.4l.5-.1l.6 .4l.5 0l.6-.5l.5 .1l.6 .3l.5 .2l.6 0l.5-.1l.6-.4l.5 .2l.6 .2l.5 0l.6-.2l.5 .3l.6-.5l.5 .2l.6-.5l.5 1l.6-.8l.5 .4l.6 .1l.5 .4l.6-1l.5 .5l.6-.2l.5 0l.6 .3l.5-.9l.6 .5l.5 .3l.6-.2l.5 .1l.6 .2l.5-.4l.6 .1l.5 .3l.6-.1l.5-.1l.6 .2l.5-.1l.6-.4l.5-.2l.6 1.2l.5-1l.6 .4l.5 .4l.6-.5l.5 .1l.6 0l.5 .1l.6-.4l.5 1.2l.6-.8l.5-.3l.6-.2l.5 .7l.6-.1l.5-.4l.6 .6l.5 0l.6-.7l.5 .3l.6-.6l.5 .5l.6-.2l.5 .2l.6 .3l.5 0l.6 .7l.5-.8l.6-.3l.5 .3l.6-.1l.5-.2l.6 .1l.5 .1l.6 .1l.5-.6l.6 .3l.5 .1l.6 .3l.5-.1l.6-.2l.5 .4l.6-.5l.5 .2l.6 .1l.5 0l.6-.5l.5 .5l.6-.3l.5 .3l.6 .3l.5-.3l.6-.4l.5-.2l.6 .2l.5 0l.6 0l.5 .5l.6-.6l.5 .1l.6 .3l.5-.3l.6-.2l.5-.3l.6 .7l.5-.3l.6 0l.5 .3l.6-.3l.5 .1l.6-.1l.5 0l.6 .2l.5 .3l.6-.6l.5 .1l.6 0l.5 .1l.6 .2l.5 0l.6-.4l.5-.2l.6 .3l.5 0l.6-.1l.5-.1l.6 .5l.5-.5l.6 .4l.5-.4l.6 0l.5 .1l.6-.1l.5 0l.6 .1l.5 0l.6-.2l.5 .1l.6 .3l.5-.2l.6 .2l.5-.2l.6-.1l.5 .1l.6 .4l.5-.4l.6-.2l.5 .2l.6 .3l.5-.4l.6-.4l.5-.1l.6 .6l.5-.5l.6 .5l.5 0l.6 .3l.5-.7l.6 .4l.5-.3l.6 .2l.5-.1l.6 0l.5 0l.6-.4l.5 .1l.6 .3l.5 .1l.6 0l.5-.1l.6 .1l.5 0l.6-.3l.5 .6l.6-.4l.5-.3l.6-.1l.5 .5l.6 .4l.5-.2l.6-.5l.5 .1l.6 .1l.5 .4l.6-.9l.5 .1l.6 0l.5 .3l.6-.1l.5 .1l.6-.1l.5-.1l.6-.2l.5-.1l.6-.1l.5 .6l.6 .2l.5-.5l.6 0l.5 .1l.6 0l.5 0l.6 .2l.5 .1l.6-.7l.5 .6l.6-.3l.5 .3l.6 .4l.5-.3l.6-.4l.5 .1l.6 0l.5-.1l.6 .2l.5-.3l.6 .1l.5 .4l.6-.6l.5 .2l.6-.1l.5 0l.6 0l.5 .3l.6 0l.5-.5l.6 .1l.5 .2l.6-.1l.5-.6l.6 .5l.5 .4l.6-.9l.5 .7l.6 .2l.5-.5l.6 0l.5 .2l.6 .3l.5-.3l.6 .3l.5-.2l.6-.3l.5 0l.6 .3l.5-.4l.6 .5l.5-.2l.6-.1l.5 .1l.6-.2l.5 .3l.6 .1l.5-.3l.6-.2l.5 .1l.6 .1l.5-.2l.6 .2l.5-.2l.6 .7l.5-.6l.6-.1l.5-.2l.6 .5l.5-.5l.6-.3l.5 .3l.6 0l.5 .9l.6-1l.5 .1l.6 .1l.5-.3l.6 .3l.5 .8l.6-1l.5 .6l.6-.5l.5 .1l.6 .4l.5 0l.6 .5l.5-.6l.6 .3l.5-.5l.6-.2l.5 .6l.6-.3l.5 .3l.6-.6l.5 0l.6 .4l.5 0l.6 .1l.5 .1l.6 .2l.5-.8l.6 .5l.5-.4l.6 .3l.5 .4l.6-.2l.5-.1l.6 .6l.5-.3l.6-.5l.5 .7l.6-.8l.5 0l.6 .7l.5-.4l.6 .4l.5 0l.6-.4l.5 .1l.6 0l.5 .6l.6-.9l.5 .2l.6 .4l.5-.8l.6 .9l.5 .3l.6-1l.5 .7l.6-.6l.5 .9l.6-.5l.5 .4l.6-.2l.5-.2l.6-.2l.5 .8l.6-.4l.5 .2l.6-.5l.5 .4l.6 1.1l.5-1.2l.6 .2l.5-.3l.6 0l.5 .5l.6-.4l.5-.4l.6 .3l.5-.8l.6 .5l.5 .2l.6 0l.5 .1l.6 1.2l.5-.6l.6-.1l.5-.2l.6-.1l.5 .2l.6 .1l.5 1.9l.6-2.3l.5-.6l.6 .7l.5 .4l.6-1.3l.5 1.1l.6 0l.5-.1l.6 .2l.5 .1l.6 0l.5-.1l.6 .2l.5-.2l.6-.5l.5 .2l.6 .5l.5-.1l.6-.3l.5 .4l.6 0l.5 .1l.6-.2l.5-.2l.6 .1l.5 .7l.6-.7l.5 .2l.6 .4l.5-.6l.6 .2l.5-.2l.6-.1l.5 .4l.6-.4l.5 0l.6 .3l.5 .2l.6-.1l.5 .5l.6 0l.5-1l.6 .6l.5-.1l.6 .2l.5-.3l.6 .4l.5 0l.6 .1l.5-.8l.6-.1l.5 .4l.6-.2l.5 .5l.6-.3l.5 .3l.6 .2l.5-.5l.6 .1l.5 0l.6-.1l.5 .4l.6 .4l.5-.5l.6 .2l.5-.1l.6-.1l.5-.2l.6 .7l.5-.4l.6 .1l.5-.4l.6 .5l.5-.1l.6 .3l.5-.6l.6 .8l.5-.5l.6-.4l.5 1l.6-.6l.5 0l.6 .1l.5 .1l.6-.7l.5 .1l.6 .3l.5 .6l.6-.7l.5-.2l.6 .2l.5 .2l.6 .2l.5-.1l.6-.2l.5 .3l.6 .7l.5-.7l.6 .1l.5 .1l.6-.1l.5-.1l.6 .4l.5-.2l.6-.2l.5 .5l.6-.6l.5 .5l.6-.5l.5 .1l.6-.6l.5 .4l.6 .7l.5-.1l.6 .3l.5-.5l.6 .2l.5-.5l.6-.1l.5 0l.6 .1l.5 .1l.6 .4l.5-.2l.6 .6l.5-1l.6 .9l.5-.4l.6 .3l.5-.7l.6 .6l.5-.6l.6 .1l.5 .3l.6 .2l.5-.6l.6 .8l.5-.8l.6 .6l.5-.2l.6 .4l.5-.5l.6 .3l.5 .2l.6 0l.5-.2l.6 .1l.5-.2l.6-.2l.5 .3l.6 0l.5-.6l.6 .1l.5 .6l.6-.3l.5 .1l.6-.5l.5 .6l.6 0l.5 .5l.6-.5l.5-.4l.6 .3l.5 .2l.6 .3l.5-1.2l.6 .9l.5 .1l.6 .1l.5-.1l.6-.4l.5 .1l.6 .4l.5 0l.6-.7l.5 .2l.6 .4l.5 .3l.6-.2l.5-.2l.6-.1l.5-.1l.6-.4l.5 .4l.6 .3l.5-.1l.6 .1l.5-.1l.6 0l.5 .2l.6 .4l.5-.7l.6 0l.5-.1l.6-.2l.5 .4l.6-.2l.5 .3l.6-.1l.5 .1l.6 0l.5-.1l.6-.1l.5-.3l.6 .4l.5 .3l.6-.2l.5 .3l.6-.7l.5-.3l.6 1l.5-1l.6 .8l.5 1.2l.6-1.2l.5-.1l.6 .2l.5-.5l.6 .2l.5 .6l.6-.3l.5-.1l.6-.1l.5-.2l.6 .4l.5 .6l.6-.4l.5-.3l.6 .6l.5-.7l.6 1.1l.5-.4l.6-.8l.5-.2l.6 .5l.5-.2l.6 .1l.5 .5l.6-.5l.5-.1l.6 .4l.5-.2l.6 .3l.5-.3l.6 .2l.5-.1l.6-.3l.5 .5l.6 .2l.5-.9l.6 .4l.5 .1l.6 .3l.5-.5l.6 0l.5 0l.6 0l.5 .4l.6 .1l.5-.5l.6 .5l.5 .1l.6-.2l.5 .3l.6-.4l.5 .2l.6-.4l.5 .2l.6 .4l.5-.6l.6-.1l.5 .4l.6-.4l.5 .4l.6 0l.5-.3l.6 .5l.5 .4l.6-1.2l.5 0l.6 .4l.5 .2l.6 .3l.5-.3l.6 0l.5-.4l.6 .4l.5-.4l.6 .4l.5 .2l.6-.3l.5 .4l.6-.2l.5-.3l.6 .3l.5-.5l.6 .5l.5-.4l.6 .2l.5 0l.6 .4l.5 .2l.6-.7l.5 .2l.6 0l.5-.4l.6 .1l.5 .6l.6-.5l.5 .5l.6-.4l.5 1l.6-.9l.5 .4l.6-.4l.5 0l.6 .1l.5-.5l.6 .3l.5 .5l.6-.2l.5-.2l.6 0l.5-.1l.6 .6l.5-.1l.6-.4l.5 .2l.6-.2l.5 .1l.6 .3l.5-.4l.6 .2l.5 .1l.6-.3l.5 .2l.6-.3l.5-.3l.6 .4l.5 .5l.6-.1l.5 .2l.6-.2l.5-.8l.6 .3l.5 .5l.6 .1l.5-.3l.6-.2l.5 1.7l.6-1.3l.5 .5l.6-.6l.5 .8l.6-1.2l.5 .6l.6 0l.5-.3l.6 .3l.5-.2l.6 .1l.5 .1l.6 .2l.5-.2l.6-.3l.5 .4l.6-.5l.5 .4l.6-.6l.5 .3l.6 .1l.5 .1l.6-.6l.5 1l.6-.4l.5-.3l.6 .4l.5 .2l.6-.4l.5 .3l.6 0l.5-.5l.6 .7l.5-.2l.6 .1l.5-.7l.6 .5l.5-.1l.6-.1l.5-.1l.6 .3l.5 0l.6 .1l.5 .2l.6-.6l.5 .3l.6 .1l.5 .4l.6-.3l.5-.7l.6 .3l.5 .3l.6 0l.5 0l.6 0l.5 0l.6 0l.5-.3l.6 .5l.5-.3l.6-.1l.5 .6l.6-.6l.5 .3l.6-.1l.5 .5l.6-.3l.5-.4l.6 .5l.5-.1l.6-.4l.5 0l.6 0l.5 0l.6 0l.5 .2l.6-.4l.5 .2l.6 .3l.5 .1l.6-.3l.5 .4l.6-.1l.5-.8l.6 .6l.5-.1l.6-.2l.5 .2l.6 .2l.5-.1l.6-.4l.5 0l.6 .2l.5-.1l.6-.1l.5 .1l.6-.2l.5-.3l.6 .1l.5-.1l.6 .1l.5-.9l.6-.7l.5-1l.6-1.8l.5-2.8l.6-3.6l.5-4.3l.6-3.7l.5-1.6l.6 1.5l.5 3.6l.6 4l.5 3.4l.6 2.3l.5 1.1l.6-.1l.5-.9l.6-1.6l.5-1.8l.6-1.2l.5 .2l.6 1.6l.5 2.1l.6 2.1l.5 1.6l.6 1.3l.5 .7l.6 .3l.5 0l.6 .6l.5 .4l.6-.3l.5 .3l.6 .1l.5-.1l.6 .1l.5 0l.6-.3l.5 .2l.6 .5l.5-.3l.6-.4l.5 .6l.6-.3l.5 0l.6 0l.5 0l.6 .2l.5 .4l.6-.3l.5-.3l.6 .4l.5 0l.6-.3l.5 .2l.6-.2l.5 .3l.6-.4l.5 .1l.6 .1l.5 .3l.6 .4l.5-.9l.6 .1l.5 .3l.6 .3l.5-.2l.6-.2l.5 0l.6 .5l.5 .1l.6-.1l.5-.7l.6 0l.5 0l.6 .2l.5 .1l.6 0l.5 .5l.6-.6l.5 .7l.6-.6l.5 .2l.6-.4l.5 .4l.6 .1l.5-.2l.6 .3l.5 0l.6-.2l.5-.2l.6 .6l.5-.4l.6 0l.5 .1l.6-.2l.5 .2l.6 .2l.5-.1l.6-.1l.5-.1l.6-.3l.5 .4l.6-.4l.5 .3l.6-1.4l.5 1l.6 .6l.5-.4l.6 .6l.5-.4l.6-.3l.5 1.3l.6-1.3l.5 .4l.6 0l.5 .3l.6-.3l.5-.1l.6 .1l.5-.2l.6 .1l.5 .3l.6 .7l.5-.7l.6-.5l.5 .9l.6-.4l.5-.2l.6 .2l.5 .7l.6-.7l.5-.1l.6 .1l.5-.4l.6-.1l.5 0l.6 .4l.5 .1l.6-.3l.5-.3l.6 .2l.5 .3l.6 0l.5 .4l.6 0l.5-.4l.6 0l.5-.1l.6 .2l.5-.1l.6 .1l.5-.1l.6 .5l.5 0l.6-.7l.5 .4l.6 0l.5-.1l.6-.1l.5 .1l.6-.2l.5-.2l.6 .8l.5-.1l.6 .1l.5-.5l.6-.1l.5 .5l.6-.3l.5 0l.6 0l.5 .5l.6-.5l.5-.2l.6 .8l.5-.6l.6 .3l.5 .3l.6-.8l.5 .4l.6 .3l.5-.4l.6-.5l.5 1l.6 .1l.5-1l.6 .5l.5 .3l.6-.1l.5-.5l.6 .9l.5-.7l.6 .4l.5 .3l.6-.6l.5 0l.6 0l.5-.2l.6 .6l.5-.3l.6 .4l.5-.9l.6 1.3l.5-1.4l.6 .4l.5 0l.6 0l.5 .4l.6 .4l.5-.2l.6-.3l.5 0l.6 .3l.5-.4l.6 .4l.5-.5l.6 .1l.5 0l.6 .6l.5-.3l.6 .2l.5-.1l.6 .7l.5-.8l.6-.2l.5-.1l.6 .5l.5-.2l.6 .2l.5 .1l.6-.3l.5-.2l.6 .3l.5 0l.6 .1l.5-.2l.6 .1l.5-.3l.6 .1l.5-.2l.6 1l.5-.4l.6 .2l.5 .1l.6-.4l.5 .2l.6-.4l.5 0l.6 .2l.5 .2l.6-.4l.5 .3l.6-.4l.5-.1l.6 .2l.5 .7l.6-.6l.5 .5l.6-.1l.5-.1l.6 .2l.5 .1l.6 0l.5 .1l.6-.2l.5-1l.6 1.1l.5-.3l.6 .5l.5-.4l.6 .1l.5-.1l.6-.4l.5 .7l.6-.8l.5 .3l.6 .6l.5-.9l.6 .6l.5 .2l.6-.2l.5 .3l.6-.2l.5-.5l.6 .9l.5-.7l.6 .2l.5 0l.6 0l.5-.4l.6 .1l.5 .5l.6 0l.5 .1l.6-.7l.5 .6l.6-.5l.5 .6l.6-.2l.5 .1l.6 .2l.5-.3l.6 .1l.5 0l.6 .2" stroke="#000"/>
<path d="M731.2 955.8l0 0l.6-.6l.5-.2l.6 .3l.5-.5l.6 .5l.5-.3l.6 .2l.5-.1l.6 .2l.5-.6l.6 .9l.5-.4l.6-.1l.5 .4l.6-.2l.5 .1l.6 .1l.5-.4l.6 .2l.5-.1l.6 .1l.5 .1l.6 0l.5-.2l.6 0l.5-.1l.6 .3l.5-.3l.6-.5l.5 .4l.6 0l.5 .7l.6-.7l.5 .2l.6 0l.5-.3l.6 .1l.5 .2l.6 .1l.5 .1l.6 0l.5-.5l.6 .6l.5-.6l.6 .5l.5-.5l.6 .1l.5 .2l.6 .7l.5-.7l.6-.3l.5 .6l.6-.5l.5-.4l.6 .4l.5 .2l.6 .4l.5-.1l.6-.4l.5-.4l.6 .9l.5-.6l.6 .1l.5 0l.6 .1l.5 0l.6 .3l.5 0l.6-.3l.5-.1l.6-.3l.5 .4l.6-.4l.5 .2l.6-.1l.5 .4l.6 .1l.5-.3l.6-.2l.5 0l.6 .6l.5-.7l.6 .5l.5-.3l.6-.4l.5 .4l.6 0l.5 .2l.6-.2l.5 0l.6-.2l.5 .2l.6-.3l.5 .3l.6-.3l.5 .4l.6-.6l.5 .2l.6 .4l.5-.3l.6 .1l.5-.1l.6-.3l.5 .2l.6 .3l.5-.3l.6-.1l.5-.3l.6 0l.5 0l.6 .6l.5-.2l.6-.4l.5 .3l.6-.1l.5 .2l.6-.7l.5 .8l.6-.2l.5 0l.6-.1l.5-.2l.6 .2l.5-.4l.6 .7l.5-.2l.6-.5l.5 .6l.6-.4l.5 0l.6 .2l.5-.5l.6 .1l.5-.2l.6 .5l.5 0l.6-.5l.5 0l.6 .1l.5-.2l.6-.4l.5 .5l.6-.4l.5 .4l.6-.2l.5-.4l.6 0l.5 .3l.6-.4l.5-.1l.6 .5l.5-.2l.6-.1l.5-.7l.6 .5l.5 .8l.6-.3l.5-1l.6 .1l.5 .2l.6-.2l.5-.2l.6 1l.5-1.9l.6 .2l.5 0l.6-.7l.5-.8l.6-.8l.5-1l.6-1.7l.5-3.6l.6-8.6l.5-19.1l.6-31.1l.5-20.9l.6 11.9l.5 29.2l.6 15l.5-.3l.6-10.8l.5-7.7l.6 10.5l.5 14.8l.6 9.3l.5 4.4l.6 1.7l.5 1.5l.6 .7l.5-.4l.6 .8l.5 .3l.6 .1l.5 .5l.6-.1l.5 .4l.6-.1l.5 .5l.6 .6l.5 .7l.6-.8l.5-.1l.6 .3l.5-.6l.6 .4l.5 .7l.6 .1l.5 .3l.6 0l.5 .6l.6-.1l.5-.7l.6 1.2l.5-.6l.6 .3l.5 0l.6 .2l.5 1l.6-.3l.5 .3l.6-.1l.5-.6l.6 1l.5 .1l.6-.1l.5 .2l.6-.3l.5 .6l.6 .8l.5-.7l.6 .3l.5-.2l.6 .5l.5 .1l.6 .2l.5 .1l.6 .1l.5 .2l.6 .3l.5-.4l.6 .8l.5-.4l.6 .4l.5 .2l.6 .3l.5-.1l.6-.3l.5 .5l.6-.1l.5 .2l.6 .4l.5 .1l.6-.1l.5 .3l.6 .1l.5-.3l.6 .1l.5-.1l.6 .5l.5-.1l.6 .3l.5-.1l.6-.2l.5 0l.5 1" stroke="#0000ff"/>
<path d="M944.5 955.8l.1 0l.6 .3l.5 .5l.6-.5l.5-.1l.6-.4l.5 1l.6-.6l.5 .3l.6-.7l.5-.1l.6 .3l.5 .1l.6 0l.5-.1l.6 .2l.5 0l.6 .1l.5-.6l.6 .3l.5 .2l.6-.2l.5 .2l.6-.3l.5 .4l.6-.3l.5 .3l.6 0l.5-.1l.6 0l.5-.5l.6 .4l.5 .6l.6-.2l.5-.2l.6-.3l.5 .3l.6-.2l.5 .3l.6-.1l.5-.2l.6-.1l.5 .5l.6-.3l.5 .4l.6-.2l.5 .2l.6-.1l.5-.2l.6 .3l.5-.1l.6 .1l.5-.4l.6 .5l.5 .1l.6-.3l.5-.6l.6 .6l.5 .2l.6-.9l.5 .7l.6-.3l.5 .4l.6-.2l.5 1l.6-1.4l.5 .6l.6 0l.5 0l.6-.5l.5 .4l.6 .3l.5 0l.6-.4l.5 0l.6-.3l.5 .4l.6 .4l.5-.6l.6 .1l.5 .4l.6 .1l.5-.5l.6 .2l.5 0l.6 1.4l.5-1l.6-.5l.5 .2l.6-.3l.5 0l.6 0l.5 .5l.6-.2l.5 .1l.6-.2l.5 .2l.6-.1l.5-.3l.6 .3l.5 0l.6 .1l.5-.6l.6 .4l.5-.3l.6 .2l.5 0l.6 .1l.5-.1l.6 .1l.5-.9l.6 1l.5-.7l.6 .5l.5 .1l.6 .1l.5 0l.6 0l.5 0l.6-.1l.5 0l.6 .4l.5-.4l.6 .3l.5-.6l.6 .6l.5-.6l.6-.2l.5 .1l.6 .4l.5 .1l.6-.1l.5 .2l.6 0l.5-.1l.6 0l.5 0l.6 .1l.5-1.1l.6 .8l.5-.1l.6 .2l.5-.4l.6-.2l.5 .1l.6-.2l.5-.6l.6 .3l.5-.6l.6-.4l.5-.7l.6-1.2l.5-1.8l.6-2.7l.5-3.8l.6-4.8l.5-5.3l.6-4.8l.5-2.3l.6 1l.5 3.2l.6 3.3l.5 2.4l.6 1.1l.5 .4l.6 .7l.5 1.8l.6 2.8l.5 3.1l.6 2.6l.5 2.2l.6 1.6l.5 1l.6 .6l.5 .2l.6 .4l.5 .4l.6 .6l.5 .1l.6-.1l.5 .1l.6 .2l.5-.1l.6 .1l.5-.3l.6 .5l.5-.3l.6 .7l.5-.5l.6 .2l.5-.3l.6 .2l.5 .1l.6 .4l.5-.2l.6-.2l.5 .2l.6 0l.5-.1l.6 .1l.5 .2l.6 .2l.5-.7l.6 0l.5 .6l.6-.1l.5 0l.6-.1l.5 .1l.6 .2l.5-.4l.6 .2l.5 .2l.6-.4l.5 .2l.6 .1l.5-.4l.6 .4l.5-.2l.6 .3l.5-.3l.6 .5l.5 .2l.6-1.1l.5 .6l.6 .3l.5-.7l.6 .3l.5 .2l.6-.2l.5 .2l.6 0l.5 0l.6 0l.5 0l.6 0l.5-.2l.6 .1l.5 .1l.6 .7l.5-.9l.6 .5l.5-.6l.6 .5l.5 .5l.6-.8l.5-.2l.6 .8l.5-.1l.6-.2l.5-.2l.6 .4l.5 0l.6 0l.5-.1l.6-.5l.5 .2l.6 .4l.5 .3l.6-.5l.5 0l.6 .6l.5-.1l.6-.5l.5 1l.6-1.3l.5 .4l.6-.1l.5-.5l.6 .6l.3 0" stroke="#ff0000"/>
<path d="M1661.4 960.4l.4 .3l.6-.5l.5 .4l.6-.6l.5 .3l.6 .1l.5 .1l.6-.6l.5 1l.6-.4l.5-.3l.6 .4l.5 .2l.6-.4l.5 .3l.6 0l.5-.5l.6 .7l.5-.2l.6 .1l.5-.7l.6 .5l.5-.1l.6-.1l.5-.1l.6 .3l.5 0l.6 .1l.5 .2l.6-.6l.5 .3l.6 .1l.5 .4l.6-.3l.5-.7l.6 .3l.5 .3l.6 0l.5 0l.6 0l.5 0l.6 0l.5-.3l.6 .5l.5-.3l.6-.1l.5 .6l.6-.6l.5 .3l.6-.1l.5 .5l.6-.3l.5-.4l.6 .5l.5-.1l.6-.4l.5 0l.6 0l.5 0l.6 0l.5 .2l.6-.4l.5 .2l.6 .3l.5 .1l.6-.3l.5 .4l.6-.1l.5-.8l.6 .6l.5-.1l.6-.2l.5 .2l.6 .2l.5-.1l.6-.4l.5 0l.6 .2l.5-.1l.6-.1l.5 .1l.6-.2l.5-.3l.6 .1l.5-.1l.6 .1l.5-.9l.6-.7l.5-1l.6-1.8l.5-2.8l.6-3.6l.5-4.3l.6-3.7l.5-1.6l.6 1.5l.5 3.6l.6 4l.5 3.4l.6 2.3l.5 1.1l.6-.1l.5-.9l.6-1.6l.5-1.8l.6-1.2l.5 .2l.6 1.6l.5 2.1l.6 2.1l.5 1.6l.6 1.3l.5 .7l.6 .3l.5 0l.6 .6l.5 .4l.6-.3l.5 .3l.6 .1l.5-.1l.6 .1l.5 0l.6-.3l.5 .2l.6 .5l.5-.3l.6-.4l.5 .6l.6-.3l.5 0l.6 0l.5 0l.6 .2l.5 .4l.6-.3l.5-.3l.6 .4l.5 0l.6-.3l.5 .2l.6-.2l.5 .3l.6-.4l.5 .1l.6 .1l.5 .3l.6 .4l.5-.9l.6 .1l.5 .3l.6 .3l.5-.2l.6-.2l.5 0l.6 .5l.5 .1l.6-.1l.5-.7l.6 0l.5 0l.6 .2l.5 .1l.6 0l.5 .5l.6-.6l.5 .7l.6-.6l.5 .2l.6-.4l.5 .4l.6 .1l.5-.2l.6 .3l.5 0l.6-.2l.5-.2l.6 .6l.5-.4l.6 0l.5 .1l.6-.2l.5 .2l.6 .2l.5-.1l.6-.1l.5-.1l.6-.3l.5 .4l.6-.4l.5 .3l.6-1.4l.5 1l.6 .6l.5-.4l.6 .6l.5-.4l.6-.3l.5 1.3l.6-1.3l.5 .4l.6 0l.5 .3l.6-.3l.5-.1l.6 .1l.5-.2l.6 .1l.5 .3l.6 .7l.5-.7l.6-.5l.5 .9l.6-.4l.5-.2l.6 .2l.5 .7l.6-.7l.5-.1l.6 .1l.5-.4l.6-.1l.5 0l.6 .4l.5 .1l.6-.3l.5-.3l.6 .2l.5 .3l.6 0l.5 .4l.6 0l.5-.4l.6 0l.5-.1l.6 .2l.5-.1l.6 .1l.5-.1l.6 .5l.5 0l.6-.7l.5 .4l.6 0l.5-.1l.6-.1l.5 .1l.6-.2l.5-.2l.6 .8l.5-.1l.6 .1l.5-.5l.6-.1l.5 .5l.6-.3l.5 0l.6 0l.5 .5l.6-.5l.5-.2l.6 .8l.5-.6l.6 .3l.1 .1" stroke="#ff0000"/>
<path d="M160.8 1231.6l.6 0l.6 .4l.5-.2l.6-.4l.5 .4l.6 .1l.5-.2l.6-.2l.5 .1l.6 .4l.5 .1l.6-.9l.5 .3l.6 .4l.5-.2l.6 .2l.5-.2l.6-.1l.5 .4l.6-.7l.5 .5l.6-1.2l.5 .4l.6 .4l.5-.1l.6 .1l.5 0l.6-.6l.5 1.3l.6-.5l.5-.4l.6 0l.5 .1l.6 0l.5 .2l.6 .7l.5-1l.6 .1l.5 0l.6 .3l.5 0l.6-.3l.5 .3l.6 .4l.5-1l.6 0l.5 1.5l.6-1.4l.5 .8l.6-.5l.5 .3l.6-.2l.5-.6l.6 .9l.5-.7l.6 .2l.5-.3l.6 .1l.5-.1l.6 .7l.5 0l.6-.3l.5-.2l.6 .5l.5-.4l.6 0l.5 .2l.6 .1l.5-.1l.6 .2l.5-.3l.6 1.7l.5-1.8l.6-.2l.5 .5l.6-.5l.5-.1l.6 .2l.5 .4l.6-.2l.5-.3l.6 .1l.5 .6l.6-.2l.5-.4l.6 .4l.5-.1l.6 0l.5 0l.6-.2l.5-.3l.6 0l.5 .2l.6-.3l.5 .2l.6 .6l.5-.4l.6-.7l.5 .4l.6 .7l.5 .2l.6-.1l.5-.4l.6-.3l.5-.2l.6 .3l.5 .2l.6 0l.5 .2l.6 0l.5-.6l.6 .7l.5-.2l.6-.4l.5 .4l.6-.3l.5 .4l.6-.4l.5 .4l.6-.5l.5 .2l.6 .2l.5 .1l.6-.1l.5-.1l.6 0l.5-.4l.6 .7l.5-.8l.6-.1l.5 .4l.6 .5l.5-.3l.6 .1l.5-.4l.6 .5l.5-.3l.6 0l.5-.2l.6 .3l.5 .3l.6-.3l.5-.1l.6 .3l.5-.3l.6-.1l.5-.2l.6-.1l.5 .4l.6-.5l.5 .8l.6-.4l.5-.2l.6-.2l.5 .5l.6 .3l.5 0l.6-.4l.5 .2l.6 0l.5-.2l.6-.5l.5 .4l.6-.2l.5 .3l.6-.2l.5 .1l.6-.4l.5 0l.6 .6l.5 0l.6-.2l.5-.3l.6 .3l.5-.3l.6 .3l.5-.2l.6-.8l.5 .8l.6-.2l.5 .5l.6-.3l.5 .4l.6 0l.5-.4l.6 .2l.5 0l.6 0l.5 .4l.6-.5l.5 0l.6 .7l.5-.6l.6-.1l.5 .2l.6-.3l.5 .4l.6 .2l.5-.3l.6-.5l.5 .1l.6 .2l.5-.1l.6 0l.5 .4l.6-.5l.5 .2l.6 .8l.5-.9l.6 .5l.5-.7l.6 0l.5 .6l.6-.5l.5 0l.6 .2l.5 .3l.6-.7l.5 .4l.6-.2l.5 .1l.6-.8l.5 .8l.6 .3l.5-.1l.6-.2l.5 .6l.6-.6l.5 .5l.6-.5l.5 0l.6 0l.5-.1l.6 .3l.5-.1l.6 .2l.5-.3l.6-.2l.5-.1l.6 .4l.5-.2l.6 0l.5 .1l.6-.3l.5 .1l.6 .4l.5-.2l.6 .2l.5 .3l.6 .2l.5 .3l.6-.8l.5-.4l.6 .1l.5 .6l.6-.3l.5-.4l.6 .1l.5 0l.6-.4l.5 .1l.6 .1l.5 .7l.6-.5l.5-.4l.6 .7l.5-.4l.6-.5l.5 .7l.6-.1l.5 0l.6 0l.5 0l.6-.3l.5 .1l.6 .2l.5 .1l.6 .9l.5-1.1l.6 .3l.5 0l.6-.8l.5 .3l.6 .6l.5-.7l.6 .8l.5-.1l.6-.2l.5-.1l.6-.4l.5 .4l.6-.2l.5 0l.6 .1l.5-.1l.6 .1l.5-.2l.6 .2l.5 1l.6-1.2l.5 .4l.6-.2l.5-.6l.6 .4l.5 .2l.6 .6l.5-.3l.6-.4l.5-.2l.6 .6l.5-.2l.6-.4l.5 .5l.6 .1l.5-.5l.6-.1l.5 .1l.6 .1l.5-.4l.6 0l.5 .7l.6 0l.5-.5l.6 .6l.5 .1l.6-1.1l.5 .6l.6-.5l.5 0l.6 .6l.5-.3l.6 .5l.5-.2l.6 .1l.5 0l.6-.2l.5 .1l.6-.1l.5-.1l.6-.1l.5 .4l.6-.7l.5 1l.6-.4l.5-.1l.6-.2l.5 .1l.6 0l.5 .1l.6-.1l.5 .4l.6-.5l.5 .2l.6 0l.5 .5l.6-.7l.5 .1l.6-.2l.5-.1l.6 .2l.5-.1l.6 .5l.5 .3l.6-.4l.5-.5l.6 .2l.5 .6l.6-.5l.5-.2l.6 .3l.5 .3l.6-.2l.5 .1l.6-.8l.5 .7l.6-.9l.5 .4l.6 .8l.5-.5l.6 .1l.5 0l.6-.5l.5 .6l.6-.2l.5-.3l.6 .6l.5-.4l.6 0l.5-.4l.6 0l.5 .6l.6-.4l.5 .1l.6 .5l.5-.2l.6 .3l.5-.6l.6 .4l.5-.3l.6 .1l.5 .1l.6 0l.5-.2l.6 .1l.5-.1l.6-.1l.5 .3l.6-.2l.5 0l.6-.2l.5 .2l.6-.1l.5 .1l.6 .2l.5 0l.6-.4l.5 .2l.6 .6l.5-.6l.6-.3l.5 .7l.6-.4l.5 0l.6-.4l.5 .4l.6-.2l.5 .2l.6-.4l.5 0l.6 .4l.5-.4l.6 0l.5 0l.6 .5l.5 0l.6-.1l.5 .2l.6 .1l.5-.3l.6-.3l.5 0l.6 .4l.5-.4l.6 1.2l.5-1.1l.6 .2l.5-.2l.6 0l.5 .3l.6-.3l.5 .2l.6-.1l.5-.1l.6 .1l.5 .7l.6-.8l.5-.4l.6 .6l.5-.3l.6 0l.5-.3l.6 .3l.5 .5l.6-.6l.5 .2l.6 0l.5 .1l.6-.1l.5 .1l.6-.1l.5 0l.6 0l.5 .2l.6-.5l.5 .3l.6-.3l.5 .6l.6-.2l.5-.3l.6 0l.5 .6l.6-.2l.5-.1l.6 .1l.5 0l.6-.3l.5 0l.6-.2l.5 .6l.6-.2l.5 .1l.6 .1l.5-.7l.6-.4l.5 .2l.6 .6l.5 .5l.6-.6l.5 .2l.6-.3l.5 0l.6 .1l.5 .2l.6-.4l.5 .1l.6-.2l.5 .5l.6-.1l.5-.3l.6 .4l.5-.7l.6 .4l.5 .2l.6 0l.5-.2l.6 0l.5 0l.6 .1l.5-.1l.6 .5l.5-.4l.6 .1l.5 .2l.6-.3l.5-.1l.6-.1l.5-.3l.6 .6l.5-.3l.6 0l.5 .7l.6-.5l.5 .1l.6-.2l.5 0l.6 .2l.5-.1l.6-.4l.5 .2l.6 0l.5 .5l.6 0l.5-.6l.6 .3l.5-.6l.6 .9l.5-.3l.6-.1l.5 .4l.6-.5l.5 .4l.6 .2l.5-.4l.6 0l.5-.6l.6 .2l.5 .7l.6-.6l.5-.3l.6 .3l.5 .1l.6 .1l.5-.3l.6 .2l.5 .7l.6-.2l.5-.2l.6 .1l.5-.1l.6-.6l.5 .6l.6 .1l.5-.1l.6-.3l.5 .1l.6 .2l.5 0l.6-.1l.5-.3l.6-.1l.5 .6l.6-.7l.5 .2l.6 .3l.5 0l.6-.1l.5-1.3l.6 1.8l.5-.6l.6 .1l.5-.3l.6 .2l.5-.5l.6 .4l.5-.4l.6 .6l.5 0l.6-.3l.5 .1l.6 .2l.5 .3l.6-.5l.5 .3l.6-.5l.5 .5l.6-.8l.5 .7l.6 .1l.5-.5l.6-.1l.5 .6l.6-.1l.5 .1l.6-.3l.5 .3l.6-.2l.5-.1l.6 0l.5 0l.6 .1l.5-.3l.6 .1l.5 .1l.6 .1l.5-.1l.6 0l.5 0l.6 .1l.5-.6l.6 .2l.5 .5l.6-.8l.5 .7l.6-.1l.5 .6l.6-.5l.5-.1l.6-.1l.5 .3l.6-.2l.5-.4l.6 .6l.5-.5l.6 .4l.5 0l.6-.5l.5 .3l.6-.4l.5 .2l.6 .2l.5 .3l.6-.2l.5 .6l.6-1.1l.5 0l.6 .5l.5-.1l.6 .4l.5-.3l.6 .1l.5-.2l.6-.3l.5 .1l.6 .3l.5-.3l.6 .4l.5-.2l.6-.2l.5 .4l.6-.5l.5 .1l.6 .2l.5 .2l.6-.2l.5 .1l.6-.4l.5 .3l.6 0l.5 .2l.6-.2l.5 .3l.6-.1l.5 .2l.6-.2l.5 .4l.6-.7l.5-.1l.6 .1l.5-.4l.6 .3l.5 .5l.6-.3l.5-.2l.6 .1l.5 .1l.6-.3l.5 .3l.6-.1l.5 0l.6 .5l.5-.4l.6 0l.5-.2l.6 .2l.5-.1l.6-.2l.5 .3l.6 .1l.5 .5l.6-1l.5 .5l.6 .1l.5-.6l.6 .6l.5 .3l.6-.8l.5 .2l.6-.1l.5-.4l.6 .7l.5-.3l.6 0l.5 .5l.6-.1l.5 .2l.6-.8l.5 .4l.6-.1l.5-.1l.6 .1l.5-.2l.6 0l.5 .5l.6 .4l.5-.8l.6-.2l.5 .2l.6 .1l.5-.3l.6 .1l.5 .2l.6 .4l.5-.2l.6-.1l.5 0l.6 0l.5-.1l.6-.2l.5 .2l.6-.2l.5 0l.6 .3l.5-.4l.6 .2l.5-.1l.6-.3l.5 .8l.6-.4l.5-.2l.6-.2l.5 .8l.6-.2l.5-.4l.6 .4l.5-.7l.6 .4l.5-.1l.6 .1l.5-.2l.6 .5l.5 0l.6-.4l.5-.2l.6 1.4l.5-.7l.6-.1l.5-.2l.6 .3l.5-.5l.6 .4l.5-.5l.6-.3l.5 .2l.6 0l.5 .2l.6-.5l.5 .4l.6 .4l.5-.4l.6 .2l.5-.3l.6 .3l.5-.4l.6 0l.5 0l.6 .4l.5-.5l.6-.1l.5 1.4l.6-1.1l.5 .5l.6-.8l.5-.2l.6 .8l.5-.1l.6-.4l.5 0l.6 .1l.5 .6l.6-.4l.5 .6l.6-1l.5 .7l.6-.2l.5-.4l.6 .3l.5-.3l.6 .5l.5-.2l.6 .7l.5-1.1l.6 .2l.5-.1l.6 0l.5 .1l.6 .3l.5-.3l.6 0l.5 .3l.6-.3l.5-.1l.6 .1l.5 .2l.6-.3l.5-.4l.6 .3l.5 .2l.6-.2l.5 .1l.6-.3l.5 .6l.6-.6l.5 .4l.6 1l.5-1.6l.6 0l.5-.1l.6 .2l.5-.2l.6 .5l.5-.4l.6 .3l.5-.2l.6 .3l.5-.5l.6-.1l.5 .8l.6-.9l.5 .2l.6-.2l.5 0l.6-.3l.5 .4l.6-.3l.5-.1l.6-.2l.5 .4l.6 .2l.5-.2l.6 .1l.5-.7l.6 .5l.5-.4l.6 .3l.5-.2l.6 0l.5 .1l.6-.6l.5 0l.6-.2l.5 .1l.6-.1l.5 .4l.6-.3l.5-.1l.6-.1l.5 .1l.6 0l.5-.6l.6-.3l.5 .6l.6-.3l.5-.1l.6 .4l.5-1.7l.6 1l.5-.1l.6 .1l.5-.3l.6 .5l.5-.4l.6 .2l.5 .1l.6-.4l.5 0l.6-.4l.5 .5l.6-.1l.5-.4l.6-1.3l.5 1.5l.6-.4l.5 0l.6 0l.5-.2l.6 .2l.5-.2l.6 .6l.5-.6l.6-.2l.5 .6l.6-.1l.5 .2l.6-.6l.5 .3l.6 .4l.5-.4l.6-.4l.5 .4l.6 0l.5 .4l.6-.2l.5-.3l.6 .6l.5-.1l.6 .2l.5 .4l.6-.6l.5 .6l.6-.3l.5 .2l.6-.1l.5 .5l.6 .1l.5-.4l.6 .7l.5 .3l.6-.3l.5 .1l.6 .2l.5-.1l.6 0l.5 .5l.6 0l.5-.2l.6-.1l.5 .2l.6 .6l.5 .5l.6-1.2l.5 .7l.6 0l.5 .4l.6-.2l.5 0l.6 0l.5 .1l.6-.4l.5 .2l.6 .5l.5-.1l.6-.3l.5 .6l.6 .2l.5-.9l.6 .4l.5 .1l.6-.5l.5 .7l.6-.4l.5-.1l.6 .2l.5 .1l.6 .1l.5 .2l.6-.2l.5 .1l.6-.1l.5 .2l.6-.2l.5 0l.6 .3l.5 0l.6 .3l.5 .1l.6-.6l.5-.3l.6 .3l.5 .1l.6 .4l.5-.7l.6 .1l.5 0l.6 0l.5 .3l.6-.2l.5 0l.6-.2l.5 .3l.6-.1l.5 .4l.6-.7l.5 0l.6 .6l.5-.3l.6 .1l.5-.2l.6 .7l.5-.8l.6 .4l.5-.1l.6 .5l.5-.8l.6 .6l.5-.1l.6-.5l.5 .1l.6 .5l.5 .3l.6-.2l.5-.7l.6 .4l.5-.4l.6 .3l.5-.2l.6-.1l.5 .3l.6-.1l.5 .5l.6-.2l.5-.7l.6 .6l.5-.6l.6 .3l.5 1.1l.6-1.2l.5 .4l.6-.2l.5-.3l.6-.2l.5 .7l.6-.1l.5-.2l.6-.2l.5 .3l.6 .5l.5-.6l.6-.6l.5 .4l.6 .2l.5-.5l.6 .5l.5 .1l.6 .3l.5-.2l.6-.5l.5 .3l.6-.4l.5 .1l.6 .2l.5-.2l.6 .3l.5 .3l.6-.4l.5-.5l.6 .7l.5 .1l.6-.2l.5-.1l.6 .1l.5-.4l.6 .4l.5 .1l.6 0l.5-.4l.6 .3l.5 .1l.6-.7l.5 .4l.6 .6l.5-.4l.6-.4l.5 .4l.6 .3l.5-.5l.6-.3l.5 .6l.6-.2l.5-.5l.6 .1l.5 .6l.6-.2l.5-.1l.6-.2l.5 .3l.6 .2l.5-.2l.6-.3l.5 .4l.6-.2l.5-.3l.6 .4l.5-.1l.6 0l.5 0l.6-.1l.5 .3l.6-.8l.5 .2l.6 .2l.5 .2l.6-.3l.5 .1l.6 0l.5 .1l.6 0l.5-.1l.6-.4l.5 .4l.6-.2l.5-.1l.6-.5l.5 .3l.6 .5l.5 0l.6-.2l.5-.1l.6-.2l.5 .3l.6 .5l.5-.7l.6 0l.5 .5l.6-1.1l.5 .6l.6-1.1l.5 .7l.6 .5l.5 .1l.6-.4l.5 0l.6-.2l.5 .2l.6 .3l.5 .1l.6-.4l.5-.3l.6 .7l.5-.3l.6-.1l.5-.1l.6 .2l.5-.9l.6 .9l.5-.1l.6-.5l.5 .2l.6 .1l.5-.6l.6 .2l.5 .2l.6-.2l.5-.1l.6-.1l.5 .3l.6 .2l.5-.2l.6 0l.5-.4l.6-.1l.5 .2l.6-.1l.5 0l.6-.2l.5 .4l.6-.3l.5 0l.6 0l.5 0l.6-.1l.5-.4l.6-.3l.5 0l.6 0l.5-.4l.6 0l.5-.2l.6-.1l.5-.5l.6-.1l.5-.4l.6-.3l.5-1.1l.6-.5l.5-1.5l.6-2l.5-3.1l.6-5.7l.5-14l.6-31.6l.5-51.6l.6-34.6l.5 28l.6 48.4l.5 24.9l.6-.6l.5-17.8l.6-12.8l.5 17.3l.6 24.6l.5 15.3l.6 6.8l.5 2.9l.6 1.9l.5 .6l.6 1l.5 1l.6-.1l.5 1l.6-.3l.5 .1l.6 .8l.5 .8l.6-.9l.5 .5l.6 0l.5 .6l.6-.5l.5 .4l.6 1.2l.5-.7l.6-.1l.5 .6l.6-.3l.5 .1l.6 .5l.5-.2l.6 .6l.5-.5l.6 .6l.5 .3l.6-.5l.5 .9l.6-.5l.5-.3l.6 .8l.5-.2l.6 .4l.5-.1l.6-.1l.5 .3l.6 0l.5 .1l.6 .4l.5 0l.6 .2l.5-.2l.6 .2l.5 .3l.6 0l.5 .2l.6-.2l.5-.2l.6 .3l.5 .3l.6 .2l.5-.3l.6-.4l.5 .8l.6 .1l.5 0l.6-.4l.5 .3l.6 .4l.5-.1l.6-.4l.5 .8l.6-.4l.5-.3l.6 .6l.5 .2l.6 .3l.5-.3l.6-.4l.5 .9l.6-.4l.5-.1l.6 .4l.5-.5l.6 .1l.5 0l.6 .2l.5-.4l.6 .5l.5 .4l.6-.1l.5-.7l.6 .9l.5-.5l.6 .1l.5-.1l.6 .2l.5-.2l.6 .6l.5 0l.6-.2l.5-.3l.6 .8l.5-.2l.6-1.1l.5 1.1l.6-.3l.5 .1l.6 .2l.5-.2l.6 .3l.5-.8l.6 .7l.5-.3l.6-.3l.5 .1l.6-.6l.5 .8l.6 .9l.5-.6l.6-.2l.5 .4l.6-.2l.5-.3l.6 .3l.5-.4l.6-.4l.5 .6l.6 0l.5-.2l.6 .7l.5-.9l.6 .4l.5-.2l.6 .2l.5 .1l.6-.5l.5 .1l.6 .2l.5 .1l.6 .4l.5-.7l.6-.1l.5 .7l.6-.9l.5 .3l.6-.2l.5 .5l.6 .2l.5-.8l.6 .6l.5-.7l.6 .6l.5 .2l.6-.2l.5-.5l.6 .5l.5 0l.6 .2l.5 .2l.6-.4l.5 .2l.6-.2l.5-.5l.6 .6l.5-.3l.6 0l.5 0l.6 .2l.5-.1l.6-.1l.5 .5l.6-.6l.5 .1l.6 .2l.5 0l.6-.2l.5-.1l.6 .2l.5 .3l.6-.1l.5-.3l.6 .5l.5-.3l.6-.3l.5 .8l.6-.5l.5 .1l.6 0l.5 0l.6-.1l.5-.1l.6 .2l.5 .1l.6-.1l.5-.3l.6 .1l.5 .2l.6-.4l.5 .3l.6-.2l.5 .2l.6 0l.5 .4l.6-.5l.5 0l.6 .3l.5 0l.6 .3l.5-.4l.6-.2l.5 .3l.6 0l.5-.1l.6 .1l.5 .1l.6 .2l.5-.7l.6 0l.5 .1l.6 .2l.5 0l.6 0l.5 .3l.6-.6l.5 .6l.6 .4l.5-.1l.6-.8l.5 .5l.6 .1l.5-.5l.6 0l.5 .5l.6-.1l.5-.4l.6 .2l.5-.3l.6 0l.5 .7l.6-.4l.5 .4l.6-.1l.5-.3l.6 .2l.5-.2l.6 .4l.5-.2l.6 .1l.5 .1l.6-.3l.5-.3l.6 .1l.5 .7l.6-.6l.5-.2l.6 .4l.5-.1l.6 0l.5 .1l.6 .1l.5-.2l.6-.1l.5-.4l.6 .9l.5-.2l.6-.2l.5 .1l.6-.5l.5 .4l.6 .2l.5 .2l.6-.1l.5-.6l.6 .6l.5-.4l.6 .2l.5-.3l.6 .6l.5 .1l.6-.4l.5 .4l.6-.2l.5 0l.6 0l.5-.7l.6 .7l.5-.4l.6 .1l.5 .3l.6-.3l.5 .2l.6-.1l.5 .4l.6-.3l.5-.1l.6-.7l.5 .5l.6 .1l.5 .8l.6-.8l.5 .3l.6-.5l.5 .5l.6 0l.5-.1l.6-.5l.5 .3l.6 .4l.5-.2l.6 0l.5 .2l.6 1.8l.5-2.5l.6 .9l.5-.9l.6 .1l.5 .1l.6 .4l.5-.1l.6-.2l.5 .2l.6-.5l.5-.1l.6 .7l.5 .1l.6-.3l.5-.4l.6 .5l.5 0l.6 0l.5 .1l.6-.4l.5 .1l.6-.9l.5 .7l.6 .8l.5-.8l.6 .4l.5-.4l.6 0l.5 0l.6-.2l.5-.1l.6 .3l.5-.5l.6 0l.5 0l.6-.1l.5 .1l.6-.4l.5 .1l.6-.2l.5-.5l.6 .1l.5-.4l.6-.3l.5-.8l.6-.6l.5-1.1l.6-1.8l.5-2.9l.6-4.2l.5-6l.6-7.6l.5-8.4l.6-7.5l.5-3.7l.6 1.6l.5 4.9l.6 5.3l.5 3.8l.6 1.7l.5 .6l.6 1l.5 2.9l.6 4.5l.5 4.7l.6 4.3l.5 3.3l.6 2.4l.5 1.7l.6 .8l.5 .9l.6 .5l.5 .6l.6-.1l.5 .7l.6 .1l.5-.2l.6 .1l.5-.1l.6 .6l.5 .1l.6-.3l.5 .2l.6 .1l.5 .1l.6 .1l.5-.1l.6 .2l.5 0l.6 .2l.5-.4l.6 .5l.5-.8l.6 .5l.5-.3l.6 .8l.5-.5l.6 .5l.5-.8l.6 .5l.5-.1l.6 .2l.5-.1l.6-.1l.5-.1l.6 .2l.5-.1l.6-.3l.5 .5l.6-.3l.5 .5l.6-.5l.5 .5l.6 .2l.5-.5l.6 .3l.5-.3l.6-.1l.5 .9l.6-.5l.5-.2l.6 .2l.5-.2l.6-.3l.5 .3l.6-.1l.5 1.2l.6-.6l.5-.8l.6 .5l.5 .2l.6-.3l.5-.6l.6 .7l.5-.2l.6 .2l.5 .4l.6-.4l.5 0l.6-.1l.5-.3l.6 .4l.5-.1l.6-.3l.5 .5l.6-1.1l.5 1.1l.6 .2l.5-.5l.6-.3l.5 .3l.6 .7l.5-1.1l.6 .8l.5-.6l.6 .7l.5-.4l.6-.1l.5-.7l.6 1l.5 0l.6-.3l.5 .5l.6-.4l.5 .2l.6 .1l.5 0l.6-.2l.5 .2l.6-.3l.5 .2l.6-.1l.5 .2l.6 .1l.5-.5l.6 .3l.5 .4l.6-.6l.5 .1l.6 .1l.5 0l.6-.2l.5-.1l.6-.1l.5 .5l.6-.3l.5 .1l.6-.2l.5 .1l.6-.3l.5 .4l.6 .5l.5-.5l.6-.3l.5-.2l.6 .7l.5-.4l.6 .7l.5-1l.6 .5l.5-.1l.6-.4l.5 .5l.6-.3l.5 0l.6 .7l.5-.4l.6-.1l.5 .2l.6-.5l.5 .3l.6 .3l.5-.4l.6 .1l.5 0l.6 .3l.5-.3l.6 .8l.5-1.3l.6 .5l.5 .1l.6 .2l.5-.4l.6 .5l.5-.4l.6-.3l.5 .3l.6-.5l.5 .6l.6 0l.5-.2l.6 .4l.5-.3l.6 .3l.5-.3l.6 0l.5 .1l.6 .1l.5 0l.6-.3l.5 .1l.6 0l.5-.2l.6 .3l.5 .2l.6-.3l.5-.5l.6 .9l.5-.3l.6 0l.5-.1l.6-.4l.5 .6l.6-.4l.5 .5l.6-.3l.5-.2l.6-.4l.5 .6l.6-.4l.5 .5l.6-.4l.5 .3l.6 0l.5-.5l.6 .5l.5 0l.6-.2l.5-.1l.6 .7l.5-.5l.6-.1l.5 .3l.6-.3l.5-.3l.6 .6l.5 .3l.6-.9l.5 .3l.6 .3l.5-.2l.6 .1l.5 .1l.6-.6l.5 .4l.6-.2l.5 .1l.6 .3l.5-.2l.6 .3l.5-.3l.6 .1l.5 .3l.6-.5l.5 .3l.6-.1l.5-.5l.6 .4l.5-.1l.6-.4l.5 .3l.6 0l.5-.2l.6 .5l.5 .1l.6-.3l.5 .2l.6-.5l.5 .2l.6 .4l.5-.5l.6 .1l.5 .2l.6 0l.5 .2l.6-.3l.5-.1l.6 .3l.5-.1l.6-.2l.5 .2l.6-.5l.5 .6l.6-.5l.5 .6l.6-.2l.5 .9l.6-1.1l.5 .2l.6-.3l.5-.1l.6 .8l.5-.5l.6-.3l.5 .4l.6 .3l.5-.2l.6-.4l.5 .2l.6 0l.5-.2l.6 .7l.5-.7l.6 0l.5 .7l.6-.5l.5-.5l.6 .2l.5 .8l.6-.5l.5-.1l.6 .1l.5 .3l.6-.2l.5 0l.6-.6l.5 .4l.6 .5l.5-.3l.6 .1l.5-.1l.6 .1l.5-.3l.6-.2l.5 .1l.6 .4l.5 .1l.6-.7l.5 .9l.6-.7l.5 .2l.6-.2l.5 0l.6-.1l.5 .3l.6-.2l.5 .4l.6-.2l.5 0l.6-.6l.5 .8l.6-.5l.5 .5l.6-.3l.5-.3l.6 .4l.5-.4l.6 .8l.5-.8l.6 .5l.5-.1l.6 .5l.5-1.3l.6 .8l.5-.4l.6 0l.5 .4l.6-.4l.5 .4l.6-.5l.5 .5l.6 .1l.5 .2l.6-.4l.5 .1l.6 0l.5-.2l.6 .2l.5-.7l.6 1.4l.5-.9l.6-.1l.5 0l.6 .3l.5-.2l.6 .2l.5-.1l.6-.1l.5-.2l.6 .1l.5 .1l.6 .3l.5-.5l.6 .7l.5-.9l.6 .5l.5-.5l.6 .3l.5 .1l.6-.2l.5 .2l.6-.1l.5 .1l.6 .1l.5 0l.6 .1l.5 0l.6-.4l.5-.2l.6 .6l.5-.2l.6 .2l.5-.3l.6-.4l.5 .4l.6 .3l.5-.1l.6 0l.5 .1l.6-.4l.5-.4l.6 .1l.5 .3l.6-.1l.5 1l.6-.6l.5-.4l.6 .4l.5-.5l.6 .4l.5 0l.6-.1l.5 .4l.6-.2l.5-.1l.6 0l.5-.1l.6-.4l.5 .2l.6 .5l.5-.6l.6 .5l.5-.1l.6 .1l.5-.1l.6 0l.5-.1l.6 .1l.5 0l.6-.2l.5 .5l.6-.1l.5 .1l.6 .1l.5-.2l.6-.1l.5-.3l.6-.2l.5 .3l.6-.3l.5 0l.6 0l.5 .3l.6-.4l.5 .4l.6-.1l.5 .1l.6 .3l.5-.6l.6-.2l.5 .6l.6-.7l.5 .4l.6-.1l.5 .2l.6 .3l.5-.1l.6-.4l.5 .6l.6-.3l.5 0l.6-.7l.5 .5l.6 .5l.5 .1l.6-.2l.5 0l.6-.4l.5 .4l.6 .1l.5-.3l.6-.2l.5-.3l.6 .1l.5 .2l.6 .2l.5-.2l.6-.2l.5 .4l.6-.4l.5 .3l.6-.4l.5-.1l.6 .8l.5-.1l.6 .2l.5-.3l.6-.2l.5 0l.6 0l.5-.4l.6 .3l.5-.3l.6 .5l.5 .1l.6-.5l.5 .1l.6 .3l.5-.1l.6 .2l.5-.6l.6 .2l.5 .4l.6 .2l.5 .2l.6-.6l.5 .6l.6-.5l.5-.4l.6 0l.5 .3l.6 .1l.5 .1l.6-.4l.5 .4l.6 0l.5-.6l.6 .7l.5 0l.6 .1l.5-.2l.6-.2l.5 0l.6 0l.5 .1l.6-.2l.5 .2l.6-.4l.5 0l.6 .3l.5-.1l.6 .6l.5 0l.6-.7l.5 .5l.6 .2l.5-.6l.6 .3l.5-.1l.6 0l.5-.2l.6-.2l.5 .5l.6-.2l.5-.6l.6 .7l.5-.3l.6 .6l.5 .6l.6-1.1l.5 0l.6 .3l.5 0l.6-.5l.5 0l.6 .1l.5 .1l.6-.3l.5 .3l.6-.1l.5 .3l.6-.3l.5-.5l.6 .3l.5 .1l.6 .1l.5 .2l.6 .1l.5 .3l.6-1.2l.5 .3l.6 .5l.5-.4l.6 .3l.5-.3l.6 .5l.5-.5l.6 .5l.5-.5l.6 .2l.5 0l.6 .8l.5-1l.6 0l.5 .7l.6-.4l.5 0l.6-.2l.5 .9l.6-.9l.5 .5l.6-.7l.5 0l.6 .5l.5-.8l.6 .2l.5 .3l.6 .3l.5 0l.6-.2l.5-.1l.6 .1l.5-.2l.6-.1l.5 .4l.6 .1l.5 .1l.6-.3l.5-.1l.6-.1l.5 .2l.6-.4l.5 .8l.6-.1l.5 0l.6-.5l.5 .3l.6-.5l.5 .7l.6-.3l.5-.1l.6 .2l.5-.1l.6 .1l.5 .3l.6-.5l.5-.2l.6-.1l.5 .4l.6-.6l.5 .8l.6-.4l.5 .3l.6 0l.5-.1l.6-.4l.5 .4l.6-.1l.5 .4l.6 .1l.5-.4l.6-.4l.5 .1l.6 1.1l.5-.8l.6 .2l.5-.5l.6 .3l.5-.7l.6 .2l.5 .3l.6 .3l.5 .4l.6-.3l.5-.4l.6 .2l.5-.2l.6 .2l.5-.4l.6-.5l.5 .7l.6 .6l.5-.6l.6-.1l.5 .4l.6-.2l.5 .2l.6-.1l.5 0l.6-.1l.5 0l.6 .1l.5 0l.6-.1l.5 0l.6-.3l.5 .2l.6-.2l.5 .1l.6-.1l.5 .4l.6 .1l.5-.3l.6 .2l.5 .3l.6-1.6l.5 .9l.6 .5l.5-1l.6 .6l.5 .2l.6 .3l.5-.2l.6-.2l.5 .2l.6 .1l.5 0l.6-.3l.5-.2l.6 .2l.5 .4l.6 0l.5-.3l.6 .3l.5-.3l.6 .3l.5-.7l.6 .7l.5-.2l.6-.3l.5 .4l.6-.3l.5 .1l.6 0l.5-.1l.6 .5l.5-.1l.6-.1l.5 0l.6 .5l.5-.8l.6 .2l.5 .5l.6-1.1l.5 1.1l.6-.1l.5-.3l.6 .2l.5 0l.6-.1l.5-.2l.6 .2l.5-.1l.6-.1l.5-.1l.6-.2l.5 .5l.6 .3l.5-.2l.6 .2l.5-.1l.6-.3l.5 .2l.6-1.3l.5 1.3l.6-.4l.5 .3l.6 0l.5 .2l.6 .1l.5-.6l.6 .1l.5 .5l.6 0l.5 .1l.6-.6l.5 .5l.6 .1l.5-.4l.6 .3l.5-.2l.6 0l.5 .1l.6 0l.5-.1l.6 .3l.5 .2l.6-.5l.5-.2l.6 .5l.5-.2l.6 .1l.5 .3l.6-.4l.5-.2l.6 .2l.5-.6l.6 .6l.5 .2l.6-.2l.5 .7l.6-.4l.5-.4l.6 .1l.5 .1l.6 .1l.5 0l.6 .2l.5-.2l.6-.5l.5 .4l.6-.1l.5-.1l.6-.2l.5 .3l.6-.1l.5-.2l.6 .9l.5-.4l.6-.1l.5-.1l.6-.5l.5 .5l.6 .6l.5-.6l.6 0l.5 .2l.6 .3l.5-.1l.6 .1l.5-.4l.6 .3l.5 0l.6-.6l.5 .3l.6-.4l.5 .7l.6 .2l.5-.4l.6-.2l.5 .2l.6-.1l.5 .6l.6-.8l.5 .5l.6-.1l.5 0l.6-.3l.5 .5l.6-.3l.5 0l.6 .2l.5-.5l.6 .4l.5 0l.6 .3l.5 .1l.6-.2l.5-.4l.6 .1l.5-.1l.6 .2l.5-.1l.6 0l.5 .2l.6 .2l.5-.3l.6 .7l.5-.7l.6 .1l.5 0l.6-.1l.5 .2l.6 0l.5 .3l.6-.5l.5 .1l.6 0l.5 0l.6-.2l.5 .3l.6-.1l.5 .2l.6 .1l.5-.1l.6 .2l.5-.4l.6 .9l.5-.5l.6 0l.5-.1l.6-.1l.5-.2l.6 .5l.5-.4l.6-.1l.5-.1l.6 .1l.5 .3l.6-.4l.5 .2l.6 .2l.5-.2l.6 0l.5 .1l.6-.3l.5 .1l.6-.2l.5 .1l.6 .5l.5-.7l.6 .2l.5 .2l.6 .2l.5 .6l.6-.7l.5 .2l.6-.1l.5-.4l.6 .4l.5 .3l.6-.1l.5 0l.6-.4l.5-.4l.6 .8l.5-.1l.6-.3l.5-.1l.6 .2l.5-.1l.6 .9l.5-1l.6 0l.5 .2l.6 .3l.5 .2l.6 0l.5-.5l.6 .2l.5 .2l.6-.1l.5 0l.6 0l.5-.3l.6 .2l.5-.4l.6 .2l.5 .1l.6 .1l.5 .2l.6 .2l.5-.3l.6-.1l.5-.1l.6 .2l.5 .1l.6 .2l.5-.4l.6 .4l.5 .1l.6 .1l.5-.4l.6 .5l.5-.7l.6 .2l.5 0l.6 .1l.5-.4l.6 .3l.5-.4l.6 .7l.5-.4l.6-.2l.5-.5l.6 .9l.5-.7l.6 .8l.5-.3l.6 .3l.5-.5l.6-.3l.5 .5l.6 0l.5 .1l.6 0l.5 0l.6-.2l.5 .4l.6-.2l.5 .1l.6 .1l.5-.2l.6 .4l.5-.2l.6-.3l.5 0l.6 0l.5 .1l.6-.2l.5 .2l.6 .6l.5-.5l.6-.2l.5 0l.6 .5l.5-.1l.6 0l.5-.2l.6-.1l.5 .2l.6 .3l.5-.8l.6 .9l.5-.5l.6 .4l.5 .1l.6-.5l.5 .1l.6-.8l.5 .8l.6-.2l.5 .4l.6-.4l.5 0l.6 .2l.5 .1l.6 0l.5 0l.6 .2l.5 .1l.6-.3l.5 .5l.6-.4l.5 .1l.6-.1l.5 .2l.6-.2l.5-.2l.6 .5l.5-.4l.6 .7l.5-1.2l.6 .4l.5-.1l.6 .5l.5-.4l.6 .5l.5-.7l.6-.2l.5 .4l.6-.1l.5 0l.6 1.9l.5-1.5l.6-.4l.5 .5l.6 0l.5-.4l.6 .2l.5-.8l.6 .5l.5 .7l.6-.9l.5 .4l.6 .3l.5 .4l.6-.4l.5 0l.6-.7l.5 1l.6-.8l.5 .3l.6 .1l.5-.1l.6-.6l.5 .7l.6-.1l.5 .2l.6-.1l.5-.1l.6 .9l.5-1.1l.6 .3l.5 .3l.6-.2l.5 .2l.6-.3l.5 .1l.6-.1l.5 0l.6-.1l.5 .4l.6 .1l.5 .2l.6-.3l.5 0l.6-.4l.5 .4l.6 0l.5-.5l.6-.1l.5 .6l.6-.2l.5 0l.6 .4l.5 .1l.6-.7l.5-.1l.6 .4l.5-.2l.6 .2l.5-.2l.6-.2l.5-.2l.6 .4l.5 .3l.6 .3l.5-.4l.6 .2l.5-.8l.6 .6l.5 .2l.6-.1l.5 0l.6-.1l.5-.1l.6 .1l.5-.1l.6-.3l.5 .7l.6-.1l.5-.2l.6-.1l.5 .2l.6 0l.5 0l.6 .1l.5-.2l.6-.5l.5 .5l.6 .2l.5-.2l.6-.3l.5 .2l.6 .2l.5 0l.6-.4l.5 .3l.6 0l.5 .1l.6-.1l.5-.1l.6-.2l.5 .9l.6-.1l.5-.3l.6 0l.5 0l.6 .3l.5-.2l.6 .3l.5-.1l.6 .3l.5-.1l.6-.6l.5 .5l.6-1l.5 .6l.6 .3l.5-.1l.6 .1l.5-.4l.6 .2l.5-.2l.6 .2l.5 0l.6 .2l.5-.4l.6-.3l.5 .9l.6-.5l.5 .3l.6-.2l.5 .4l.6-.1l.5-.2l.6-.1l.5 0l.6-.1l.5 .4l.6 .1l.5 0l.6-.5l.5-.3l.6 .3l.5 .3l.6-.4l.5 .2l.6-.2l.5 .1l.6 .3l.5 .1l.6-.5l.5-.1l.6 .3l.5 .3l.6-.1l.5 .3l.6-.7l.5 .2l.6 .3l.5 .2l.6-.7l.5 .4l.6 .4l.5-.6l.6 .5l.5-.5l.6 .1l.5 .1l.6-.1l.5-.1l.6 .5l.5 .6l.6-.9l.5-.3l.6 .4l.5-.4l.6 0l.5 .3l.6 .3l.5-.4l.6-.2l.5 .5l.6 0l.5-.1l.6-.5l.5 .4l.6-.2l.5 0l.6 .4l.5-.3l.6-.1l.5-.6l.6 .5l.5 .1l.6-.2l.5-.2l.6-.2l.5 .1l.6-.1l.5 .1l.6-.4l.5-.7l.6-.2l.5-1l.6-1.5l.5-2.4l.6-3.7l.5-4.9l.6-5.6l.5-5l.6-2.2l.5 2l.6 4.8l.5 5.4l.6 4.5l.5 3.1l.6 1.4l.5 0l.6-1.3l.5-2.2l.6-2.4l.5-1.6l.6 .3l.5 2.1l.6 2.9l.5 2.8l.6 2.2l.5 1.4l.6 1.2l.5 .5l.6 .6l.5 0l.6 .3l.5 .1l.6 .2l.5 .1l.6 .5l.5-.7l.6 .2l.5 .1l.6 .4l.5-.3l.6-.1l.5-.1l.6 .2l.5 .3l.6-.3l.5-.5l.6 .6l.5 .2l.6-.6l.5 1.4l.6-1.3l.5 .5l.6-.3l.5 .1l.6 .2l.5-.1l.6 .2l.5 .2l.6-.5l.5 .4l.6-.6l.5 .4l.6 0l.5-.2l.6 .3l.5 .1l.6-.1l.5 0l.6-.3l.5 1.2l.6-1.2l.5 .2l.6 .3l.5-.1l.6-.1l.5-.2l.6 .4l.5 0l.6-.2l.5-.5l.6 .7l.5 .4l.6-.4l.5-.5l.6 .4l.5-.7l.6 1.3l.5-.5l.6 .2l.5-.1l.6-.1l.5 0l.6-.1l.5 .3l.6-.3l.5 .2l.6-.5l.5 .5l.6 .3l.5-.9l.6 .3l.5 .3l.6-.2l.5 .4l.6-.1l.5-.3l.6 .2l.5 0l.6 .1l.5-.1l.6-.3l.5 .6l.6-.5l.5 .4l.6-.7l.5 .7l.6 0l.5 0l.6-.5l.5 .6l.6-.3l.5 .4l.6-.2l.5 .1l.6-.5l.5 0l.6 .2l.5 .3l.6 0l.5-.2l.6-.3l.5 0l.6 .1l.5-.2l.6 .9l.5-.2l.6-.5l.5 .4l.6-.2l.5 .4l.6-.4l.5 .6l.6-.2l.5-.2l.6 .1l.5-.1l.6 .3l.5-.5l.6 .1l.5-.4l.6-.1l.5 .8l.6-.6l.5 .4l.6 0l.5 .1l.6 0l.5-.1l.6 .1l.5-.6l.6 .8l.5-.7l.6 .1l.5 .7l.6-.6l.5 .1l.6 .1l.5-.1l.6 .1l.5-.2l.6 .2l.5-.3l.6 .4l.5 .1l.6 .3l.5-.6l.6 .4l.5 .1l.6-.2l.5 .1l.6-.3l.5-.3l.6 .6l.5 .2l.6 0l.5 .2l.6-.4l.5 0l.6 .2l.5-.3l.6 .2l.5-.1l.6-.3l.5 .4l.6 .1l.5 .2l.6-.3l.5-.6l.6 .6l.5-.1l.6-.5l.5 .6l.6-.2l.5 .1l.6-.2l.5 .4l.6 0l.5-.1l.6-.1l.5 0l.6 .2l.5-.4l.6 .1l.5 .4l.6 .2l.5-.4l.6-.3l.5 .5l.6 .2l.5-.4l.6-.2l.5-.6l.6 1.1l.5-.3l.6 .2l.5 .2l.6-.5l.5 .1l.6 .1l.5 .1l.6 .3l.5-.2l.6-.6l.5 .8l.6-.5l.5 .6l.6-.4l.5 .5l.6-.9l.5 .4l.6 .1l.5 0l.6 .3l.5-.1l.6 .1l.5 .1l.6-.4l.5 0l.6 .2l.5-.4l.6 0l.5 1l.6-.7l.5-.4l.6 .2l.5 .2l.6-.1l.5-.3l.6 .6l.5-1l.6 1.1l.5-.4l.6-.1l.5 .6l.6-.1l.5 .9l.6-1.4l.5 .5l.6 0l.5 0l.6 0l.5 .2l.6-.2l.5 .2l.6-.3l.5 .1l.6-.2l.5 .1l.6-1.3l.5 1.4l.6-.4l.5 .4l.6 .3l.5-1l.6 .7l.5 .6l.6-.6l.5 0l.6-.1l.5 .2l.6-.2l.5 .1l.6 .8l.5-.9l.6 .3l.5 .2l.6-.4l.5 .5l.6-.2l.5 .1l.6 .3l.5-.1l.6-.1l.5 .3l.6-.7l.5-.1l.6 .1" stroke="#000"/>
<path d="M731.2 1228.8l0 0l.6-.1l.5 .5l.6-.2l.5-.7l.6 .6l.5-.6l.6 .3l.5 1.1l.6-1.2l.5 .4l.6-.2l.5-.3l.6-.2l.5 .7l.6-.1l.5-.2l.6-.2l.5 .3l.6 .5l.5-.6l.6-.6l.5 .4l.6 .2l.5-.5l.6 .5l.5 .1l.6 .3l.5-.2l.6-.5l.5 .3l.6-.4l.5 .1l.6 .2l.5-.2l.6 .3l.5 .3l.6-.4l.5-.5l.6 .7l.5 .1l.6-.2l.5-.1l.6 .1l.5-.4l.6 .4l.5 .1l.6 0l.5-.4l.6 .3l.5 .1l.6-.7l.5 .4l.6 .6l.5-.4l.6-.4l.5 .4l.6 .3l.5-.5l.6-.3l.5 .6l.6-.2l.5-.5l.6 .1l.5 .6l.6-.2l.5-.1l.6-.2l.5 .3l.6 .2l.5-.2l.6-.3l.5 .4l.6-.2l.5-.3l.6 .4l.5-.1l.6 0l.5 0l.6-.1l.5 .3l.6-.8l.5 .2l.6 .2l.5 .2l.6-.3l.5 .1l.6 0l.5 .1l.6 0l.5-.1l.6-.4l.5 .4l.6-.2l.5-.1l.6-.5l.5 .3l.6 .5l.5 0l.6-.2l.5-.1l.6-.2l.5 .3l.6 .5l.5-.7l.6 0l.5 .5l.6-1.1l.5 .6l.6-1.1l.5 .7l.6 .5l.5 .1l.6-.4l.5 0l.6-.2l.5 .2l.6 .3l.5 .1l.6-.4l.5-.3l.6 .7l.5-.3l.6-.1l.5-.1l.6 .2l.5-.9l.6 .9l.5-.1l.6-.5l.5 .2l.6 .1l.5-.6l.6 .2l.5 .2l.6-.2l.5-.1l.6-.1l.5 .3l.6 .2l.5-.2l.6 0l.5-.4l.6-.1l.5 .2l.6-.1l.5 0l.6-.2l.5 .4l.6-.3l.5 0l.6 0l.5 0l.6-.1l.5-.4l.6-.3l.5 0l.6 0l.5-.4l.6 0l.5-.2l.6-.1l.5-.5l.6-.1l.5-.4l.6-.3l.5-1.1l.6-.5l.5-1.5l.6-2l.5-3.1l.6-5.7l.5-14l.6-31.6l.5-51.6l.6-34.6l.5 28l.6 48.4l.5 24.9l.6-.6l.5-17.8l.6-12.8l.5 17.3l.6 24.6l.5 15.3l.6 6.8l.5 2.9l.6 1.9l.5 .6l.6 1l.5 1l.6-.1l.5 1l.6-.3l.5 .1l.6 .8l.5 .8l.6-.9l.5 .5l.6 0l.5 .6l.6-.5l.5 .4l.6 1.2l.5-.7l.6-.1l.5 .6l.6-.3l.5 .1l.6 .5l.5-.2l.6 .6l.5-.5l.6 .6l.5 .3l.6-.5l.5 .9l.6-.5l.5-.3l.6 .8l.5-.2l.6 .4l.5-.1l.6-.1l.5 .3l.6 0l.5 .1l.6 .4l.5 0l.6 .2l.5-.2l.6 .2l.5 .3l.6 0l.5 .2l.6-.2l.5-.2l.6 .3l.5 .3l.6 .2l.5-.3l.6-.4l.5 .8l.6 .1l.5 0l.6-.4l.5 .3l.6 .4l.5-.1l.6-.4l.5 .8l.6-.4l.5-.3l.6 .6l.5 .2l.6 .3l.5-.3l.6-.4l.5 .9l.6-.4l.5-.1l.6 .4l.5-.5l.6 .1l.5 0l.5 .1" stroke="#0000ff"/>
<path d="M944.5 1228.2l.1-.1l.6-.2l.5 .3l.6 0l.5-.1l.6 .1l.5 .1l.6 .2l.5-.7l.6 0l.5 .1l.6 .2l.5 0l.6 0l.5 .3l.6-.6l.5 .6l.6 .4l.5-.1l.6-.8l.5 .5l.6 .1l.5-.5l.6 0l.5 .5l.6-.1l.5-.4l.6 .2l.5-.3l.6 0l.5 .7l.6-.4l.5 .4l.6-.1l.5-.3l.6 .2l.5-.2l.6 .4l.5-.2l.6 .1l.5 .1l.6-.3l.5-.3l.6 .1l.5 .7l.6-.6l.5-.2l.6 .4l.5-.1l.6 0l.5 .1l.6 .1l.5-.2l.6-.1l.5-.4l.6 .9l.5-.2l.6-.2l.5 .1l.6-.5l.5 .4l.6 .2l.5 .2l.6-.1l.5-.6l.6 .6l.5-.4l.6 .2l.5-.3l.6 .6l.5 .1l.6-.4l.5 .4l.6-.2l.5 0l.6 0l.5-.7l.6 .7l.5-.4l.6 .1l.5 .3l.6-.3l.5 .2l.6-.1l.5 .4l.6-.3l.5-.1l.6-.7l.5 .5l.6 .1l.5 .8l.6-.8l.5 .3l.6-.5l.5 .5l.6 0l.5-.1l.6-.5l.5 .3l.6 .4l.5-.2l.6 0l.5 .2l.6 1.8l.5-2.5l.6 .9l.5-.9l.6 .1l.5 .1l.6 .4l.5-.1l.6-.2l.5 .2l.6-.5l.5-.1l.6 .7l.5 .1l.6-.3l.5-.4l.6 .5l.5 0l.6 0l.5 .1l.6-.4l.5 .1l.6-.9l.5 .7l.6 .8l.5-.8l.6 .4l.5-.4l.6 0l.5 0l.6-.2l.5-.1l.6 .3l.5-.5l.6 0l.5 0l.6-.1l.5 .1l.6-.4l.5 .1l.6-.2l.5-.5l.6 .1l.5-.4l.6-.3l.5-.8l.6-.6l.5-1.1l.6-1.8l.5-2.9l.6-4.2l.5-6l.6-7.6l.5-8.4l.6-7.5l.5-3.7l.6 1.6l.5 4.9l.6 5.3l.5 3.8l.6 1.7l.5 .6l.6 1l.5 2.9l.6 4.5l.5 4.7l.6 4.3l.5 3.3l.6 2.4l.5 1.7l.6 .8l.5 .9l.6 .5l.5 .6l.6-.1l.5 .7l.6 .1l.5-.2l.6 .1l.5-.1l.6 .6l.5 .1l.6-.3l.5 .2l.6 .1l.5 .1l.6 .1l.5-.1l.6 .2l.5 0l.6 .2l.5-.4l.6 .5l.5-.8l.6 .5l.5-.3l.6 .8l.5-.5l.6 .5l.5-.8l.6 .5l.5-.1l.6 .2l.5-.1l.6-.1l.5-.1l.6 .2l.5-.1l.6-.3l.5 .5l.6-.3l.5 .5l.6-.5l.5 .5l.6 .2l.5-.5l.6 .3l.5-.3l.6-.1l.5 .9l.6-.5l.5-.2l.6 .2l.5-.2l.6-.3l.5 .3l.6-.1l.5 1.2l.6-.6l.5-.8l.6 .5l.5 .2l.6-.3l.5-.6l.6 .7l.5-.2l.6 .2l.5 .4l.6-.4l.5 0l.6-.1l.5-.3l.6 .4l.5-.1l.6-.3l.5 .5l.6-1.1l.5 1.1l.6 .2l.5-.5l.6-.3l.5 .3l.6 .7l.5-1.1l.6 .8l.5-.6l.6 .7l.5-.4l.6-.1l.5-.7l.6 1l.5 0l.6-.3l.5 .5l.6-.4l.5 .2l.6 .1l.3 0" stroke="#ff0000"/>
<path d="M1661.4 1230.5l.4-.1l.6 .1l.5-.4l.6 .2l.5-.2l.6 .2l.5 0l.6 .2l.5-.4l.6-.3l.5 .9l.6-.5l.5 .3l.6-.2l.5 .4l.6-.1l.5-.2l.6-.1l.5 0l.6-.1l.5 .4l.6 .1l.5 0l.6-.5l.5-.3l.6 .3l.5 .3l.6-.4l.5 .2l.6-.2l.5 .1l.6 .3l.5 .1l.6-.5l.5-.1l.6 .3l.5 .3l.6-.1l.5 .3l.6-.7l.5 .2l.6 .3l.5 .2l.6-.7l.5 .4l.6 .4l.5-.6l.6 .5l.5-.5l.6 .1l.5 .1l.6-.1l.5-.1l.6 .5l.5 .6l.6-.9l.5-.3l.6 .4l.5-.4l.6 0l.5 .3l.6 .3l.5-.4l.6-.2l.5 .5l.6 0l.5-.1l.6-.5l.5 .4l.6-.2l.5 0l.6 .4l.5-.3l.6-.1l.5-.6l.6 .5l.5 .1l.6-.2l.5-.2l.6-.2l.5 .1l.6-.1l.5 .1l.6-.4l.5-.7l.6-.2l.5-1l.6-1.5l.5-2.4l.6-3.7l.5-4.9l.6-5.6l.5-5l.6-2.2l.5 2l.6 4.8l.5 5.4l.6 4.5l.5 3.1l.6 1.4l.5 0l.6-1.3l.5-2.2l.6-2.4l.5-1.6l.6 .3l.5 2.1l.6 2.9l.5 2.8l.6 2.2l.5 1.4l.6 1.2l.5 .5l.6 .6l.5 0l.6 .3l.5 .1l.6 .2l.5 .1l.6 .5l.5-.7l.6 .2l.5 .1l.6 .4l.5-.3l.6-.1l.5-.1l.6 .2l.5 .3l.6-.3l.5-.5l.6 .6l.5 .2l.6-.6l.5 1.4l.6-1.3l.5 .5l.6-.3l.5 .1l.6 .2l.5-.1l.6 .2l.5 .2l.6-.5l.5 .4l.6-.6l.5 .4l.6 0l.5-.2l.6 .3l.5 .1l.6-.1l.5 0l.6-.3l.5 1.2l.6-1.2l.5 .2l.6 .3l.5-.1l.6-.1l.5-.2l.6 .4l.5 0l.6-.2l.5-.5l.6 .7l.5 .4l.6-.4l.5-.5l.6 .4l.5-.7l.6 1.3l.5-.5l.6 .2l.5-.1l.6-.1l.5 0l.6-.1l.5 .3l.6-.3l.5 .2l.6-.5l.5 .5l.6 .3l.5-.9l.6 .3l.5 .3l.6-.2l.5 .4l.6-.1l.5-.3l.6 .2l.5 0l.6 .1l.5-.1l.6-.3l.5 .6l.6-.5l.5 .4l.6-.7l.5 .7l.6 0l.5 0l.6-.5l.5 .6l.6-.3l.5 .4l.6-.2l.5 .1l.6-.5l.5 0l.6 .2l.5 .3l.6 0l.5-.2l.6-.3l.5 0l.6 .1l.5-.2l.6 .9l.5-.2l.6-.5l.5 .4l.6-.2l.5 .4l.6-.4l.5 .6l.6-.2l.5-.2l.6 .1l.5-.1l.6 .3l.5-.5l.6 .1l.5-.4l.6-.1l.5 .8l.6-.6l.5 .4l.6 0l.5 .1l.6 0l.5-.1l.6 .1l.5-.6l.6 .8l.5-.7l.6 .1l.5 .7l.6-.6l.5 .1l.6 .1l.5-.1l.6 .1l.5-.2l.6 .2l.5-.3l.6 .4l.5 .1l.6 .3l.5-.6l.6 .4l.5 .1l.6-.2l.1 0" stroke="#ff0000"/>
<path d="M160.8 1503.9l.6 .4l.6-.1l.5-.5l.6 .6l.5-.6l.6 .1l.5 .6l.6-.4l.5 .1l.6 .2l.5 .2l.6-.5l.5-.2l.6-.2l.5 .5l.6-.2l.5 .3l.6 .3l.5-.5l.6 .2l.5 0l.6-.2l.5 0l.6-.2l.5 .9l.6-.8l.5 .3l.6-.4l.5 .1l.6-.1l.5 0l.6 .2l.5 .1l.6 0l.5 .2l.6-.2l.5 .2l.6-.2l.5 .1l.6-.1l.5-.2l.6 .6l.5-.3l.6 .2l.5-1l.6 .9l.5-.1l.6-.1l.5 .1l.6-.3l.5 .1l.6-.4l.5 .5l.6 0l.5 0l.6-.2l.5-.2l.6 .3l.5 .1l.6-.6l.5 .3l.6 .4l.5-.4l.6 0l.5 .2l.6-.4l.5 .3l.6 .4l.5-.5l.6 0l.5 .1l.6 .3l.5-.5l.6 .4l.5 .1l.6 .4l.5-1l.6 0l.5 .1l.6 .1l.5-.4l.6 .6l.5-.2l.6 .1l.5 .3l.6-.8l.5 .2l.6-.1l.5 .4l.6 .1l.5-.6l.6 .5l.5 0l.6-.2l.5 .2l.6 .2l.5 .2l.6-.5l.5-.1l.6-.2l.5 .1l.6 .2l.5-.4l.6 0l.5 .5l.6-.1l.5-.3l.6 .3l.5 .3l.6-.2l.5-.2l.6-.1l.5 .3l.6 .3l.5-.3l.6-.2l.5 .2l.6 .2l.5-.4l.6-.2l.5-.2l.6 .4l.5-.5l.6 .6l.5 0l.6 .1l.5-.4l.6 0l.5 .1l.6 .2l.5-.2l.6 .4l.5-.4l.6 .3l.5-.3l.6 .2l.5-.2l.6 0l.5 .5l.6-.5l.5 .2l.6-.2l.5 .1l.6 0l.5-.2l.6 .1l.5-.2l.6 .3l.5 0l.6-.1l.5-.9l.6 .7l.5 .1l.6-.2l.5 .2l.6 .3l.5-.3l.6 0l.5 0l.6-.6l.5 .4l.6 .7l.5-.5l.6 0l.5 .1l.6 .1l.5-.1l.6-.2l.5 .4l.6-.2l.5-.2l.6 0l.5-.3l.6 .2l.5 0l.6 .4l.5-.4l.6 .5l.5 0l.6-.4l.5-.2l.6 .4l.5 0l.6-.1l.5-.3l.6-.1l.5 .7l.6-.1l.5-.6l.6 .3l.5 .4l.6-.5l.5 .4l.6-.7l.5 .3l.6 .2l.5 .1l.6-.4l.5 .1l.6-.3l.5 .3l.6 .1l.5 0l.6-.5l.5 .6l.6 .1l.5-.1l.6-.3l.5 .2l.6 0l.5-.2l.6 .2l.5 .3l.6-.3l.5-.2l.6-.1l.5-.2l.6 .5l.5-.5l.6 .2l.5 .4l.6-.8l.5 .5l.6-.3l.5 .7l.6-.3l.5-.2l.6 .2l.5-.2l.6 .2l.5 .1l.6 0l.5 0l.6 .3l.5-.1l.6-.5l.5-.1l.6 .2l.5-.1l.6 .2l.5 .3l.6-.3l.5-.2l.6-.3l.5 .6l.6-.2l.5-.4l.6 .1l.5 .5l.6-.1l.5-.5l.6 .4l.5 0l.6-.1l.5 .1l.6-1.6l.5 1.6l.6-.1l.5 0l.6 .8l.5-.3l.6-.9l.5 .6l.6-.5l.5 .4l.6 .2l.5-.7l.6 0l.5 .7l.6-.5l.5 0l.6 .3l.5 .1l.6 0l.5 0l.6 0l.5-.5l.6 .3l.5-.1l.6 .2l.5-.2l.6 .3l.5-.2l.6-.2l.5 .2l.6 0l.5-.3l.6 .2l.5-.1l.6 .1l.5 0l.6 .3l.5-.4l.6-.1l.5 .2l.6 .1l.5-.2l.6-.3l.5 .6l.6 0l.5-.3l.6 .2l.5 0l.6-.2l.5 0l.6 .6l.5-1l.6 .9l.5-.5l.6 .1l.5 .1l.6-.4l.5 .3l.6-.1l.5-.2l.6 .1l.5-.2l.6 .4l.5 .6l.6-1.1l.5 .3l.6-.1l.5-1.4l.6 1.7l.5 .2l.6-.2l.5-.5l.6 .6l.5 .3l.6-.2l.5-.8l.6 .2l.5 .1l.6 .2l.5-.1l.6-.2l.5 .2l.6-.5l.5 .1l.6 .4l.5 0l.6-.2l.5 .1l.6 .1l.5-.2l.6-.3l.5 .5l.6 .1l.5-.4l.6 .6l.5-.3l.6-.4l.5 .2l.6 .2l.5-.2l.6-.2l.5 .5l.6-.6l.5 .3l.6 .2l.5-.4l.6-.1l.5 .4l.6-.4l.5 .4l.6 .2l.5-.6l.6 .1l.5 0l.6 .3l.5 .4l.6-.3l.5-.5l.6 .6l.5 0l.6-.1l.5-.2l.6-.1l.5-.2l.6 0l.5 .5l.6-.5l.5 .1l.6-.2l.5 0l.6 1.1l.5-.7l.6-.4l.5-.1l.6 .6l.5-.4l.6 .2l.5 .1l.6-.3l.5 .6l.6-.1l.5 0l.6-.4l.5-.1l.6 .5l.5-.4l.6 .5l.5-.3l.6 .2l.5-.3l.6-.3l.5 .2l.6-.3l.5 .3l.6 .3l.5-.2l.6 0l.5 0l.6-.5l.5 .3l.6 .1l.5-.1l.6 .2l.5 .2l.6-.3l.5-.1l.6 .1l.5 .3l.6-.5l.5 .6l.6-.5l.5 .3l.6 0l.5-.3l.6 .2l.5 0l.6-.3l.5 .2l.6 .5l.5-.1l.6-.1l.5 .1l.6-.3l.5 0l.6-.3l.5-.1l.6 .4l.5-.2l.6 .4l.5-.2l.6 0l.5 .4l.6-.4l.5-.2l.6 .2l.5-.5l.6 1.2l.5-.9l.6 .7l.5-.6l.6 0l.5-.1l.6-.2l.5 .6l.6-.2l.5-.3l.6-.2l.5 .1l.6 0l.5-.1l.6 .7l.5-.4l.6 .3l.5-.2l.6-.4l.5 .4l.6-.2l.5 .8l.6-1l.5 .6l.6-.5l.5 0l.6 .1l.5 0l.6 0l.5-.3l.6 .8l.5-.8l.6 .2l.5 0l.6 .3l.5-.6l.6 .4l.5 0l.6 0l.5 .4l.6-.7l.5-.1l.6 0l.5-1.1l.6 1.4l.5-.2l.6 .1l.5 .2l.6-.4l.5 .7l.6-.5l.5 .1l.6 .1l.5 .2l.6-.3l.5-.4l.6 .1l.5-.1l.6 .7l.5 .1l.6-1.6l.5 1.1l.6 .3l.5-.6l.6 .1l.5 .1l.6 .4l.5-.5l.6 0l.5 .3l.6 0l.5-.5l.6 .4l.5 .3l.6-.6l.5 .3l.6-.2l.5 .3l.6-.4l.5 .8l.6-.1l.5-.2l.6-.4l.5 .4l.6-.2l.5 .3l.6-.7l.5-.3l.6 .6l.5 .4l.6-.5l.5 .2l.6-.2l.5 .3l.6-.3l.5-.2l.6 .4l.5 .2l.6-.4l.5-.3l.6 .5l.5 .1l.6 .1l.5-.7l.6 0l.5 .8l.6-.3l.5-.5l.6 .2l.5 .1l.6-.3l.5 .2l.6 .2l.5-.4l.6 .3l.5-.1l.6 .1l.5 0l.6 0l.5-.2l.6 .6l.5-.3l.6-.1l.5 .4l.6-.9l.5 .6l.6-.2l.5 .7l.6-1.3l.5 1.1l.6-.3l.5-.3l.6 0l.5 0l.6-.5l.5 1.1l.6-.6l.5 .6l.6-.7l.5 .2l.6 .1l.5-.1l.6-.3l.5-.2l.6 .8l.5 0l.6-.1l.5-.3l.6 .1l.5 0l.6 .2l.5-.5l.6 0l.5 .2l.6 .4l.5-.7l.6 .8l.5-.5l.6 0l.5 .4l.6-.6l.5 .1l.6 0l.5 .3l.6-.4l.5 .6l.6-.6l.5 .6l.6-.6l.5 .2l.6 .2l.5 0l.6-.5l.5 .6l.6-.1l.5 0l.6-.5l.5 .2l.6 .3l.5-.4l.6 0l.5 .4l.6-.5l.5-.1l.6 0l.5-.3l.6 .2l.5 .8l.6-.2l.5-.4l.6 .2l.5-.1l.6-.2l.5 .8l.6-.3l.5 0l.6-.3l.5-.3l.6 .4l.5 .2l.6 .1l.5-.2l.6-.1l.5-.2l.6 .3l.5-.1l.6 0l.5-.2l.6 .2l.5-.1l.6 0l.5-.2l.6 .2l.5-.2l.6 .4l.5-.4l.6 .3l.5 .1l.6 .2l.5-.1l.6-.3l.5 .3l.6-.3l.5-.1l.6-.1l.5 .4l.6-.3l.5 .5l.6-.1l.5 .2l.6-.7l.5 .5l.6-.1l.5-.1l.6 .1l.5 .2l.6-.4l.5-.3l.6-.3l.5 .5l.6 .5l.5-.7l.6 .3l.5-.1l.6-.3l.5-.3l.6 .9l.5-.7l.6 .2l.5 .1l.6 .2l.5-.1l.6-.1l.5 .2l.6-.1l.5 .3l.6-.2l.5 .3l.6-.2l.5-.1l.6 .3l.5-.5l.6 .4l.5-.7l.6 .3l.5 .6l.6-.3l.5 0l.6 0l.5 .1l.6-1l.5 .9l.6 .5l.5-.6l.6-.5l.5 .5l.6 .1l.5-.1l.6-.2l.5 .1l.6 .2l.5-.7l.6 .3l.5 .1l.6 0l.5 .1l.6-.4l.5 .5l.6 0l.5 .1l.6 .4l.5-.6l.6-.4l.5 0l.6-.3l.5 .4l.6 .2l.5 .3l.6-.3l.5-.2l.6-.1l.5 .1l.6 .8l.5-.6l.6 .1l.5-.2l.6 .3l.5-.2l.6 0l.5 .4l.6-.6l.5 .6l.6-1.8l.5 1.2l.6 .3l.5-.1l.6 .2l.5-.1l.6 0l.5-.3l.6 .3l.5 .1l.6-.2l.5-.1l.6-.5l.5-.1l.6 .5l.5 0l.6 .2l.5-.3l.6 .3l.5-.2l.6 .3l.5-.2l.6 .6l.5-.4l.6 0l.5-.2l.6 .2l.5-.2l.6-.5l.5 .2l.6-.1l.5 .1l.6 .3l.5 0l.6-.5l.5 .5l.6-.2l.5-.1l.6 .5l.5-.3l.6 .1l.5-.2l.6 0l.5 .4l.6-.7l.5 .2l.6 .3l.5-.3l.6 .1l.5 .1l.6 .1l.5-.1l.6-.1l.5-.1l.6 .9l.5-1.2l.6 .3l.5 0l.6-.2l.5-.1l.6 .4l.5 .2l.6-.5l.5 .6l.6-.8l.5 .9l.6-.4l.5-.3l.6 0l.5-.1l.6 .5l.5 .1l.6-.2l.5-.3l.6 .1l.5-.4l.6 .2l.5 .1l.6 .1l.5-.1l.6 .1l.5-.1l.6-.2l.5 .5l.6 .1l.5-.2l.6-.4l.5 .3l.6-.3l.5 0l.6-.1l.5 .2l.6-.1l.5-.1l.6 .2l.5 .3l.6-.4l.5-.3l.6 .7l.5-.3l.6 0l.5 0l.6-.1l.5-.3l.6-.1l.5-.1l.6 .7l.5-.3l.6-.2l.5-.3l.6-.9l.5 1l.6-.1l.5 0l.6-.3l.5 .7l.6-.8l.5 .1l.6 0l.5 .4l.6-.1l.5-.8l.6-.1l.5 .4l.6 .1l.5 .1l.6-.7l.5-.4l.6 .3l.5 .1l.6-.4l.5 .1l.6 .3l.5-.6l.6 .1l.5-1.1l.6 .4l.5 .3l.6-.4l.5-.5l.6-.3l.5 .2l.6-.4l.5-.4l.6 .6l.5 .2l.6-.8l.5 .6l.6-.5l.5-.6l.6 .4l.5-.5l.6-.1l.5 .4l.6-.5l.5-.3l.6-.1l.5 .3l.6 .6l.5-.7l.6 .7l.5-.4l.6 0l.5-.1l.6-.6l.5 .4l.6 .3l.5 .6l.6 .1l.5 .3l.6-.4l.5 .1l.6 .8l.5 .3l.6-.1l.5-.3l.6 .1l.5 .6l.6-.1l.5 1.1l.6 0l.5-.3l.6 .1l.5 0l.6 .4l.5 .1l.6-.2l.5-.1l.6 .6l.5-.7l.6 .6l.5 0l.6 .2l.5 .5l.6-.5l.5 1l.6 0l.5-1.3l.6 1.2l.5-.3l.6 0l.5 .2l.6-.3l.5 .3l.6 .2l.5-.2l.6 .2l.5-.1l.6 .5l.5-.6l.6-.3l.5 .3l.6-.7l.5 1.1l.6-.3l.5 0l.6 .2l.5-.1l.6-.7l.5 .8l.6-.2l.5 .3l.6-.4l.5 .3l.6-.3l.5 .3l.6-.1l.5 0l.6-.2l.5 .1l.6 .6l.5-.6l.6-.3l.5 .6l.6-.4l.5 .1l.6 .2l.5-.2l.6 .2l.5 0l.6 .4l.5-.2l.6 .1l.5 0l.6 .2l.5 .1l.6-.4l.5-.3l.6-.1l.5 .1l.6 0l.5 .1l.6 0l.5-.4l.6 .5l.5-.3l.6 .3l.5 .2l.6-.6l.5 .1l.6 0l.5 .2l.6 .1l.5 .2l.6-.4l.5-.1l.6-.2l.5 0l.6 .3l.5 .2l.6-.1l.5-.4l.6 .2l.5-.1l.6 .2l.5 0l.6 .2l.5-.1l.6-.4l.5 .7l.6-.5l.5 .1l.6 .1l.5-.3l.6 1l.5-.4l.6-.7l.5 .5l.6-.5l.5 .1l.6-.2l.5 .2l.6-.2l.5 .3l.6 .5l.5-.6l.6 .5l.5-.7l.6-.1l.5 .3l.6 .2l.5 .1l.6-.3l.5 .1l.6-.2l.5 .2l.6-.3l.5 .6l.6-.8l.5 .5l.6-.3l.5 .1l.6 .3l.5-.6l.6 .4l.5 .1l.6-.1l.5-.2l.6 .3l.5-.1l.6 .1l.5 0l.6 0l.5 0l.6-.3l.5 0l.6-.4l.5 .8l.6-.6l.5 .4l.6-.3l.5 .3l.6 0l.5 0l.6-.2l.5 .4l.6 0l.5-.5l.6 .9l.5-.5l.6-.6l.5 .7l.6-.3l.5-.1l.6-.1l.5 .2l.6-.4l.5 .2l.6 .8l.5-.7l.6-.2l.5 .2l.6 .1l.5-.6l.6 .6l.5-.2l.6-.2l.5-1l.6 .6l.5 .7l.6-.4l.5 .2l.6 0l.5 .3l.6-.5l.5 .3l.6-.8l.5 .7l.6-.2l.5-.3l.6 .4l.5-.3l.6-.1l.5 .4l.6-.2l.5 .5l.6-.6l.5 .4l.6 .3l.5-.4l.6-.5l.5 .2l.6 .4l.5-.1l.6-.8l.5 .3l.6 0l.5-.4l.6 .5l.5-.1l.6 .1l.5-.1l.6-.3l.5 .3l.6 .5l.5-.8l.6 .3l.5-.1l.6 .1l.5-.3l.6-.1l.5-.1l.6 .2l.5-.1l.6-.1l.5-.3l.6 .7l.5-.6l.6-.2l.5 .1l.6 .2l.5-.2l.6 .1l.5-.2l.6-.1l.5-.1l.6 .2l.5-.5l.6 .5l.5-.1l.6-.6l.5 .2l.6-.2l.5-.2l.6 0l.5 .4l.6-.7l.5 .8l.6-.9l.5-.1l.6-.3l.5 .6l.6-.2l.5-.2l.6-.1l.5-.5l.6 .5l.5-.9l.6-.2l.5-.3l.6-1.2l.5 .2l.6-.9l.5-.4l.6-1.5l.5-2.3l.6-3.2l.5-5.4l.6-14l.5-31.4l.6-51.2l.5-34.4l.6 25.8l.5 48.1l.6 24.7l.5-.6l.6-17.7l.5-12.6l.6 17.1l.5 24.5l.6 15.3l.5 6.6l.6 3.3l.5 1.4l.6 1.3l.5 .7l.6 .8l.5 .5l.6 .7l.5-.2l.6 .3l.5 .1l.6 .7l.5-.1l.6 .4l.5 .2l.6 .3l.5-.2l.6 1l.5 .1l.6 .4l.5 .2l.6 .3l.5-.3l.6-.1l.5 .5l.6 .2l.5-.1l.6 .5l.5 .2l.6 .6l.5-.3l.6 .3l.5 .1l.6 .3l.5 .5l.6 .1l.5 .1l.6 .1l.5-.1l.6 .4l.5 0l.6 .5l.5-.4l.6 .5l.5 .1l.6 .1l.5 .6l.6-.6l.5-.3l.6 .6l.5 .5l.6-.1l.5 .2l.6 .1l.5 .4l.6-.1l.5 .1l.6-.3l.5 .5l.6-.1l.5 .7l.6-.2l.5 0l.6 0l.5 0l.6-.1l.5 .2l.6 .2l.5-.5l.6 1l.5-.8l.6 .1l.5 .4l.6-.2l.5 .2l.6 .5l.5-.1l.6 .1l.5 0l.6 .1l.5-.1l.6 .9l.5-1.9l.6 1.4l.5-.3l.6-.3l.5 .5l.6-.2l.5 .2l.6 0l.5-.3l.6 .8l.5-.7l.6 .1l.5 .2l.6-.3l.5 .3l.6-.4l.5 .4l.6-.1l.5-.4l.6 .8l.5 0l.6-.6l.5 .3l.6 .4l.5-.6l.6 .3l.5-.7l.6 .1l.5 .5l.6 .4l.5-.8l.6 .6l.5-.4l.6 .6l.5-.6l.6-.2l.5 .6l.6-.2l.5-.7l.6 .6l.5 .7l.6-.9l.5 .5l.6-.4l.5 0l.6 0l.5 .2l.6 0l.5 0l.6 .2l.5-.4l.6 .1l.5 0l.6 .1l.5 .4l.6-.6l.5 .3l.6 .1l.5-.3l.6 .3l.5 .2l.6-.3l.5-.1l.6-.2l.5 .4l.6-.3l.5 .1l.6-.2l.5-.1l.6 .2l.5-.4l.6 .2l.5 .1l.6 .4l.5-.5l.6 .4l.5-.1l.6-.1l.5-.3l.6 .8l.5 0l.6-.3l.5 .1l.6-.4l.5 0l.6 .4l.5 .3l.6-.3l.5 0l.6 .2l.5-.1l.6-.1l.5 0l.6-.3l.5 .2l.6 0l.5-.2l.6 .1l.5 .2l.6-.4l.5-.1l.6 .1l.5 .2l.6 .7l.5-1l.6 .1l.5 .1l.6 .3l.5-.3l.6 .2l.5 .2l.6-.7l.5 0l.6 .4l.5-.3l.6 .2l.5 .2l.6 .4l.5-.5l.6 .6l.5-.2l.6-.1l.5-.7l.6 .2l.5 .3l.6 .1l.5 0l.6 0l.5 .2l.6-.5l.5-.1l.6-.3l.5 .8l.6-.4l.5 .1l.6-.1l.5 .1l.6 .4l.5-.1l.6-.3l.5-.4l.6 .8l.5-.3l.6-.2l.5-.3l.6 .5l.5 .2l.6-.1l.5-.1l.6 .1l.5-.1l.6-.3l.5-.1l.6 .1l.5 .2l.6 0l.5 .2l.6-.1l.5 .1l.6 .2l.5-.1l.6 0l.5 .2l.6-.2l.5-.5l.6-.1l.5 .4l.6-.3l.5 .3l.6 .2l.5-.2l.6 0l.5-.1l.6-.1l.5 0l.6-.1l.5 .3l.6-.1l.5 .1l.6-.1l.5 .2l.6-.8l.5 .3l.6 .5l.5-.3l.6 .4l.5-.5l.6 .5l.5-.3l.6-.1l.5 .2l.6-.4l.5 .7l.6-.3l.5-.4l.6 1l.5-1l.6 0l.5 .6l.6-.7l.5 .7l.6-.6l.5 .3l.6-.1l.5 .1l.6 .2l.5 .1l.6 0l.5 0l.6-.6l.5 .4l.6-.1l.5 .2l.6 0l.5-.1l.6 .5l.5-.8l.6 .3l.5-1.1l.6 1l.5-.3l.6 .3l.5 .2l.6-.2l.5-.1l.6-.1l.5 .2l.6 0l.5 .2l.6-.2l.5 0l.6 0l.5 .3l.6 .1l.5-.2l.6-.1l.5 0l.6 .6l.5-.7l.6-.2l.5 .6l.6-.3l.5 .2l.6-.6l.5 .4l.6-.1l.5 .4l.6-.3l.5 .3l.6-.6l.5 .1l.6-.1l.5 .1l.6 0l.5-.4l.6 .5l.5-.4l.6-.5l.5 .3l.6 .1l.5-.5l.6 .2l.5 .2l.6-.4l.5-.1l.6-.4l.5-.6l.6 .1l.5-.6l.6-.6l.5-1.1l.6-1.7l.5-2.6l.6-3.9l.5-5.6l.6-7l.5-7.9l.6-6.9l.5-3.4l.6 1.4l.5 4.7l.6 4.9l.5 3.5l.6 1.6l.5 .5l.6 1l.5 2.7l.6 4.1l.5 4.4l.6 3.9l.5 3.1l.6 2.3l.5 1.5l.6 1l.5 .8l.6 .4l.5 .5l.6 .2l.5 .2l.6-.5l.5 .7l.6 0l.5 .7l.6-1.7l.5 1.4l.6 .1l.5 .1l.6-.2l.5 .3l.6-.4l.5 .3l.6-.1l.5 .3l.6-.1l.5 .1l.6 .3l.5-.5l.6 .2l.5 .3l.6 .1l.5-.5l.6 .2l.5 0l.6 .4l.5-.6l.6-.1l.5 .9l.6-.1l.5-.7l.6 .8l.5-.5l.6 .2l.5 0l.6-.2l.5 .4l.6-.3l.5-.1l.6-.4l.5 .8l.6-.6l.5 .4l.6-.1l.5 .4l.6-.4l.5 .4l.6 .1l.5 0l.6 .3l.5-.6l.6-.3l.5 .8l.6-.1l.5-.4l.6 .2l.5 .4l.6-.8l.5 .3l.6 .4l.5-.5l.6 .2l.5 .3l.6-.4l.5 0l.6 .1l.5-.7l.6 1.4l.5-.6l.6-.2l.5 .2l.6-.2l.5 .1l.6-.4l.5 .8l.6-.4l.5-.1l.6 .1l.5 .2l.6-.3l.5 .2l.6-.1l.5 .3l.6 .2l.5 .1l.6-.7l.5-.2l.6 .8l.5-.6l.6 .4l.5-.4l.6-.1l.5 .5l.6 .2l.5-.5l.6 .1l.5 0l.6 .1l.5 .6l.6-.6l.5-.5l.6 .4l.5 .4l.6 0l.5-.2l.6 .6l.5-.4l.6-.5l.5-.2l.6 .4l.5 .3l.6 0l.5-.4l.6 .5l.5-.7l.6 .2l.5-.3l.6 .5l.5 0l.6-.3l.5 .2l.6-.4l.5 .7l.6 .2l.5-.5l.6 .1l.5-.2l.6 .1l.5 0l.6 .2l.5-.2l.6 0l.5-.3l.6 .2l.5-.3l.6 .4l.5-.2l.6 1l.5-1.2l.6 .2l.5 .1l.6-.2l.5 0l.6 .2l.5 .1l.6 .3l.5-.7l.6 .4l.5 .3l.6-.4l.5-.3l.6 0l.5 .5l.6-.1l.5-.2l.6-.2l.5 .6l.6-.1l.5-.2l.6 .2l.5 0l.6 0l.5 .5l.6-.8l.5 .4l.6-.9l.5 1.1l.6 .1l.5-.8l.6 .7l.5-.4l.6 .4l.5-.1l.6-.1l.5-.1l.6 .2l.5 0l.6-.2l.5 .5l.6-1.1l.5 .6l.6-.6l.5 .5l.6 .2l.5-.5l.6 .6l.5-.1l.6-.3l.5 .5l.6-.3l.5-.3l.6 1l.5-.8l.6-.1l.5 .1l.6-.7l.5 1.1l.6-.1l.5 0l.6 .1l.5-.7l.6 .1l.5-.1l.6 .2l.5 .7l.6-.7l.5 0l.6 0l.5 0l.6 .7l.5-.6l.6 .1l.5-.4l.6 .7l.5-.6l.6 .2l.5-.2l.6-.4l.5 .6l.6-.1l.5 .1l.6 .8l.5-1l.6 .4l.5-.1l.6-.3l.5 .3l.6 .1l.5 .3l.6-.8l.5 .2l.6 0l.5-.1l.6 .2l.5 .4l.6-.4l.5 0l.6 .2l.5 .4l.6-.8l.5 .7l.6-.3l.5 0l.6 .1l.5-.3l.6 .1l.5 .2l.6 .1l.5 .1l.6-.3l.5-.1l.6-.5l.5 .4l.6 0l.5 .1l.6 .1l.5 0l.6-.1l.5-.1l.6-.2l.5 .1l.6 .2l.5-.1l.6-.1l.5 .3l.6-.3l.5-.7l.6 1.4l.5-.4l.6-.2l.5-.3l.6 .6l.5-.5l.6 .3l.5-.1l.6-.3l.5 .8l.6-.5l.5 .2l.6 0l.5-.3l.6 .1l.5 .3l.6-.1l.5 0l.6 .1l.5-.1l.6-.1l.5 .3l.6-.1l.5-.6l.6 .5l.5 .1l.6-.3l.5 .1l.6 .2l.5-.8l.6 .5l.5 .2l.6-.1l.5 .5l.6-.3l.5-.6l.6 .2l.5 .3l.6-.4l.5 .2l.6-.1l.5-.2l.6 .2l.5 .2l.6 .3l.5-.1l.6-.5l.5 .2l.6-.2l.5 .3l.6 .1l.5 .2l.6-.5l.5 .1l.6 0l.5 .4l.6-.5l.5 .4l.6-.2l.5 .5l.6-.2l.5 0l.6 0l.5 .1l.6-.4l.5 .5l.6-.1l.5-.4l.6-.1l.5 0l.6-.5l.5 .2l.6 .2l.5 .2l.6-.1l.5 .2l.6 .3l.5-.3l.6-.3l.5 .4l.6 .2l.5-.6l.6 .6l.5-.7l.6 .5l.5-.3l.6 .3l.5 .4l.6-.8l.5 .5l.6 0l.5-.3l.6-.1l.5 .3l.6-.3l.5 .2l.6 .1l.5-.3l.6-.1l.5 .5l.6-.7l.5 .2l.6 .2l.5 .1l.6-.1l.5 0l.6-.9l.5 .9l.6-.2l.5 .4l.6 .2l.5-.4l.6 .3l.5 .1l.6-.9l.5 .6l.6-.5l.5 1.4l.6-.8l.5-.2l.6-.2l.5-.1l.6 .1l.5 .3l.6-.1l.5 .3l.6 0l.5-.1l.6 .2l.5-.1l.6 .2l.5-.3l.6 .5l.5-.4l.6-.2l.5 .2l.6-.2l.5 .1l.6-.6l.5 .4l.6-.3l.5 .5l.6 0l.5 .6l.6-.7l.5 .3l.6 .7l.5-.7l.6-.6l.5 .3l.6 .1l.5 0l.6-.2l.5-.2l.6 .1l.5 .1l.6 .3l.5-.2l.6-.3l.5 .2l.6 0l.5 .6l.6-.2l.5 0l.6 0l.5-1l.6 1l.5-.9l.6 .5l.5-.2l.6-.2l.5 .5l.6 .4l.5 .5l.6-1l.5 .1l.6-.2l.5 .1l.6 0l.5-.2l.6 .2l.5 .4l.6-.9l.5 .7l.6 .2l.5-.5l.6 .5l.5-.4l.6 .2l.5-.1l.6 .1l.5 .4l.6-.4l.5-.6l.6 .7l.5 .4l.6-.9l.5 .2l.6 .3l.5-.2l.6 0l.5-.2l.6 .5l.5-.1l.6 .1l.5-.4l.6 .3l.5 0l.6-.3l.5-.3l.6 .3l.5 .5l.6-.5l.5 .5l.6-.6l.5-.1l.6 .7l.5-.4l.6 .1l.5-.2l.6 .6l.5-.8l.6 .4l.5 0l.6-.4l.5 0l.6-.2l.5 .7l.6-.4l.5 .1l.6 .7l.5-1l.6 .3l.5 .4l.6-.2l.5-.2l.6 0l.5 0l.6 0l.5 .1l.6 .1l.5 .4l.6-.6l.5-.1l.6 .2l.5-.2l.6 .3l.5-.2l.6 .5l.5-.4l.6 0l.5 .2l.6 .2l.5-.4l.6-.2l.5 .1l.6-.3l.5 .3l.6 0l.5-.1l.6 .5l.5-.2l.6-.2l.5 0l.6 .3l.5 .9l.6-1.1l.5 0l.6-.2l.5 .4l.6-.4l.5-.4l.6 .8l.5-.3l.6 .1l.5 .2l.6 .2l.5-.8l.6 .5l.5-.8l.6 .3l.5 .4l.6 0l.5-.2l.6-.1l.5 .1l.6 .2l.5 .2l.6 .1l.5-.3l.6 .4l.5-.8l.6 .5l.5 .2l.6-.1l.5-.1l.6 0l.5 0l.6 .1l.5-.3l.6 .1l.5-.1l.6 .6l.5-.3l.6 .4l.5-.8l.6 .2l.5 .5l.6-.3l.5-.3l.6-.2l.5 .5l.6 .1l.5-.5l.6 .1l.5 0l.6 .3l.5-.3l.6 0l.5 .1l.6 .1l.5-.1l.6-.3l.5 .3l.6-.1l.5 .2l.6 0l.5-.1l.6 0l.5-.4l.6 .6l.5-.2l.6-.4l.5-.1l.6 .5l.5 0l.6 .2l.5-.6l.6 .6l.5 .1l.6-.6l.5 .4l.6-.1l.5 .5l.6-.2l.5-.1l.6 .1l.5-.5l.6 .2l.5 .1l.6-.4l.5 .3l.6-.1l.5 .1l.6 .1l.5 0l.6 .3l.5-.2l.6-.1l.5 .2l.6-.4l.5-.1l.6 .1l.5-.1l.6 .6l.5-.7l.6 .7l.5-.2l.6-.4l.5 0l.6 .1l.5 .2l.6 .3l.5-.2l.6 0l.5 0l.6-.1l.5 .3l.6-.1l.5-.3l.6-.1l.5 0l.6-.3l.5 .8l.6-.6l.5 .3l.6 .1l.5 .1l.6-.2l.5 0l.6 0l.5-.1l.6 0l.5 .1l.6 .2l.5-.5l.6 .6l.5-.3l.6-.1l.5 .4l.6 .1l.5 .3l.6-.4l.5 0l.6-.4l.5-.1l.6 .5l.5 .3l.6-.6l.5 0l.6 0l.5-.4l.6 .9l.5-.5l.6 .4l.5-.1l.6-.4l.5 .5l.6 .2l.5-.3l.6-.1l.5 .1l.6-.4l.5 .3l.6 0l.5-.2l.6 .2l.5 .2l.6-.3l.5 .4l.6-.5l.5 1l.6-.7l.5-.5l.6 .8l.5-.2l.6 0l.5-.4l.6 .4l.5 0l.6 0l.5-.2l.6 .2l.5 .1l.6 .1l.5-.4l.6 .4l.5-.3l.6 .1l.5 .5l.6-.5l.5 .2l.6-.4l.5 .3l.6-.9l.5 1.4l.6-.8l.5 .4l.6-.7l.5 .5l.6 .1l.5 0l.6 0l.5-.4l.6 .3l.5-.2l.6 0l.5 0l.6 .6l.5-.4l.6 0l.5 .3l.6-.5l.5 .3l.6-.9l.5 .9l.6-.1l.5 .1l.6 .2l.5-.5l.6 0l.5 .3l.6 0l.5-.3l.6 .4l.5 .1l.6-.4l.5 .3l.6-.2l.5 .1l.6-.2l.5 .1l.6 .1l.5 .5l.6 .1l.5-.6l.6 .1l.5 .5l.6-.3l.5 .1l.6-.3l.5-.1l.6 .1l.5 .1l.6-.1l.5 .4l.6 .1l.5-.9l.6 .4l.5 .5l.6-.7l.5 .4l.6 .2l.5-.3l.6-.2l.5 .6l.6-.6l.5 0l.6-.2l.5 .5l.6 .4l.5-.3l.6-.4l.5 .4l.6 0l.5-.2l.6 .4l.5-.1l.6 .4l.5-.9l.6-.5l.5 .7l.6-.3l.5 .2l.6 .1l.5 .4l.6-.1l.5 .3l.6-.4l.5 .1l.6-.2l.5 .5l.6-.7l.5 .4l.6-.1l.5 .2l.6-.3l.5-.2l.6 .3l.5-.3l.6 .4l.5-.3l.6 .2l.5 .1l.6 .1l.5-.3l.6-.5l.5 1.2l.6-.9l.5 .2l.6 .1l.5-.4l.6 .2l.5 .4l.6-.6l.5 .6l.6 0l.5-.3l.6 0l.5-.4l.6 .8l.5 0l.6-.1l.5 .4l.6-.5l.5-.1l.6 .1l.5-.9l.6 1.5l.5-.4l.6 0l.5-.4l.6 .7l.5-.7l.6-.4l.5 .7l.6 .2l.5 .1l.6 0l.5-.2l.6 0l.5-.1l.6-.1l.5 .2l.6 .1l.5-.1l.6 0l.5 .8l.6-.9l.5-.1l.6 .3l.5-.1l.6 0l.5 .1l.6 .2l.5-.6l.6 .3l.5-.2l.6 .6l.5-.6l.6 .1l.5 0l.6 .5l.5-.6l.6-.4l.5 1l.6-.4l.5 .2l.6 .2l.5-.4l.6 .4l.5-.2l.6 0l.5-.4l.6-.1l.5 .7l.6-.4l.5-.2l.6 .3l.5-.3l.6 0l.5 .2l.6 .3l.5-.1l.6-.3l.5 .4l.6-.1l.5-.1l.6 0l.5 .9l.6-.5l.5-.5l.6 .3l.5-.4l.6 .9l.5-.4l.6-.4l.5 .5l.6-.2l.5-.1l.6 .3l.5 .3l.6-.7l.5-.2l.6-.1l.5 .6l.6 0l.5-.4l.6 .4l.5 .4l.6-.7l.5 .4l.6 0l.5 .1l.6-.3l.5 0l.6-.3l.5 .2l.6 .6l.5-.3l.6 0l.5 0l.6 .2l.5-.5l.6 .2l.5 .2l.6 .1l.5-.3l.6 0l.5-.1l.6 .1l.5-.3l.6 .7l.5-.1l.6-.9l.5 0l.6 .7l.5 0l.6-.5l.5 .9l.6-.7l.5 .4l.6 0l.5-.2l.6 .2l.5-.4l.6 .3l.5 .4l.6-.3l.5-.5l.6 .3l.5 .5l.6-.4l.5 .6l.6-.5l.5-.3l.6 .3l.5 .3l.6-.2l.5-.3l.6 .2l.5 .1l.6 0l.5-.4l.6 .4l.5 0l.6 .3l.5-.4l.6-.3l.5 .9l.6-.4l.5-.6l.6 .5l.5 .1l.6-.4l.5 .1l.6-.2l.5-.2l.6 .9l.5-.4l.6 .2l.5-.4l.6 .6l.5-.4l.6-.2l.5 .5l.6 0l.5-.2l.6-.4l.5 .7l.6-.3l.5-.9l.6 .7l.5-.2l.6 1l.5-.2l.6-.8l.5 .6l.6-.6l.5 .9l.6-.4l.5 0l.6-.4l.5 .3l.6 .2l.5-.4l.6 .3l.5 .4l.6-.3l.5 1.2l.6-1.1l.5 .2l.6-.5l.5 .5l.6-.8l.5 .6l.6 .1l.5 0l.6 0l.5-.2l.6-.5l.5 .5l.6-.1l.5 0l.6-.3l.5 .6l.6-.2l.5-.1l.6-.5l.5 .9l.6-.3l.5 .3l.6-.5l.5-.1l.6 .2l.5 .2l.6 .3l.5-.9l.6 .8l.5-.1l.6 .1l.5-.2l.6-.1l.5 .1l.6 0l.5 .1l.6 0l.5-.1l.6-.2l.5 .5l.6-.4l.5 .6l.6-.9l.5 .3l.6 0l.5 .2l.6-.4l.5 .1l.6-.2l.5 .1l.6 .2l.5 .6l.6 .2l.5-.6l.6 0l.5-.2l.6 .2l.5-.1l.6 .2l.5-.2l.6 .1l.5-.4l.6 .4l.5 .9l.6-.6l.5-.5l.6 .2l.5-.1l.6 .2l.5 0l.6 .2l.5 0l.6-.6l.5 .1l.6 .4l.5 0l.6 .2l.5-.2l.6 0l.5-.2l.6 .3l.5-.1l.6-.2l.5 .1l.6-.5l.5 .6l.6-.1l.5-.3l.6 .3l.5 0l.6-.2l.5 0l.6 .2l.5 .1l.6 0l.5 .2l.6-.8l.5 .7l.6 .3l.5-.3l.6-.1l.5 .6l.6-.6l.5 .3l.6 .1l.5 0l.6-.6l.5 .6l.6 0l.5 0l.6-.3l.5 .4l.6-.4l.5-.4l.6 .5l.5-.3l.6 .2l.5-.3l.6 .5l.5-.2l.6 .3l.5-.6l.6 .2l.5 0l.6 .2l.5-.1l.6 .2l.5-.1l.6 .1l.5-.2l.6 .4l.5-.6l.6-.1l.5 .5l.6-.1l.5 .3l.6 .9l.5-.6l.6-.4l.5-.4l.6 0l.5 .1l.6 .4l.5-.4l.6-.3l.5 .5l.6 0l.5-.3l.6 .4l.5 .2l.6 .1l.5 0l.6-.3l.5 0l.6-.1l.5 .1l.6-.1l.5-.1l.6 .3l.5-.4l.6-.3l.5 .5l.6 .2l.5-.5l.6 .3l.5 .2l.6-.5l.5 0l.6 .3l.5-.1l.6 .1l.5 0l.6-.8l.5 .8l.6 .3l.5-.7l.6 .1l.5 .2l.6-.7l.5 .1l.6-.2l.5 0l.6-.3l.5-.2l.6-.6l.5-.6l.6-1.7l.5-2.4l.6-3.5l.5-4.8l.6-5.5l.5-4.8l.6-2.1l.5 1.9l.6 4.7l.5 5.2l.6 4.4l.5 3l.6 1.4l.5 0l.6-1.3l.5-2.1l.6-2.3l.5-1.6l.6 .3l.5 2.1l.6 2.8l.5 2.6l.6 2.1l.5 1.5l.6 .8l.5 .7l.6 .6l.5 .3l.6-.3l.5 .3l.6-.2l.5 .3l.6 .3l.5 0l.6 .5l.5-.3l.6-.2l.5 .1l.6-.5l.5 .9l.6-.3l.5-.1l.6 .7l.5-.5l.6 0l.5-.4l.6 .2l.5 0l.6 .3l.5 0l.6 .2l.5-.1l.6 .2l.5 0l.6-.1l.5 .5l.6-.2l.5-.2l.6-.3l.5 .4l.6-.6l.5 .3l.6-.1l.5 0l.6 .4l.5-.1l.6 .1l.5 .4l.6 0l.5-.2l.6-.1l.5 .3l.6-.4l.5-.2l.6 .3l.5-.3l.6 0l.5 .4l.6-.4l.5-1.2l.6 1.5l.5-.3l.6 .7l.5-.9l.6 .8l.5-.6l.6-.4l.5 .8l.6 .1l.5-.1l.6-.4l.5 .2l.6 0l.5 .6l.6-.1l.5-1.5l.6 1.1l.5 .2l.6 .1l.5 .3l.6-1.2l.5 .8l.6 0l.5-.3l.6 .2l.5 0l.6 .4l.5-.5l.6-.3l.5 .2l.6 .2l.5 .1l.6-.1l.5-.2l.6 .4l.5 .1l.6-.4l.5 .3l.6-.2l.5-.1l.6 .1l.5 .4l.6-.5l.5-.3l.6 .4l.5 0l.6 .1l.5 .6l.6-.2l.5-.7l.6 .7l.5-.7l.6 .2l.5 .1l.6 .1l.5 .4l.6-.3l.5 0l.6-.4l.5 .3l.6 .3l.5-.4l.6-.1l.5 .1l.6 .5l.5-.4l.6 .3l.5-.2l.6 .2l.5-.1l.6-.9l.5 .7l.6 .2l.5 0l.6-.1l.5 .2l.6-.4l.5 .7l.6-.6l.5 .1l.6 .1l.5 0l.6 .2l.5-.3l.6 0l.5 .5l.6-.2l.5 0l.6-.2l.5 .1l.6 .2l.5-1.2l.6 1.2l.5 0l.6-.2l.5 0l.6 0l.5-.2l.6 .5l.5-.1l.6 .2l.5-.6l.6 .6l.5-.3l.6 .1l.5-.2l.6-.1l.5 .3l.6-.3l.5 .4l.6-.6l.5 .2l.6 0l.5 .4l.6 .1l.5-.8l.6 .4l.5 .1l.6 .4l.5-.2l.6-.3l.5-.3l.6 1.1l.5-.8l.6 .1l.5 .1l.6-.3l.5 .3l.6-.2l.5 .1l.6-.3l.5 .3l.6 .4l.5-.6l.6 0l.5 .1l.6 .5l.5-.3l.6 .5l.5-1.4l.6 .7l.5 .4l.6-.3l.5-.1l.6 .6l.5-.8l.6 .5l.5-.1l.6 .6l.5-.1l.6-.6l.5 .3l.6 .1l.5-.2l.6 .1l.5-.1l.6 .2l.5-.4l.6 .3l.5-.2l.6 .2l.5 .1l.6 0l.5-.1l.6 .4l.5-.4l.6-.2l.5 .1l.6 .1l.5-.1l.6 0l.5 .2l.6-.1l.5 .1l.6 0l.5 .1l.6 .4l.5-.5l.6 .4l.5-.6l.6 .4l.5-.4l.6-.1l.5 .3l.6-.2l.5 .3l.6-.1l.5-.2l.6 .7l.5-.4l.6 .1l.5-.2l.6-.2l.5-.1l.6 .4l.5-.2l.6 .1l.5-.3l.6 .4l.5-.4l.6 .2l.5 .3l.6-.4l.5 .1l.6 .5l.5-.5l.6-.1l.5 .3l.6 .1l.5-.2l.6-.1l.5 .3l.6-.4l.5 .6l.6-.5l.5 .3l.6 .3l.5-.9l.6 .3l.5 .5l.6-.3l.5-.4l.6 .5" stroke="#000"/>
<path d="M731.2 1500.0l0 0l.6 .2l.5 0l.6 .2l.5-.1l.6-.4l.5 .7l.6-.5l.5 .1l.6 .1l.5-.3l.6 1l.5-.4l.6-.7l.5 .5l.6-.5l.5 .1l.6-.2l.5 .2l.6-.2l.5 .3l.6 .5l.5-.6l.6 .5l.5-.7l.6-.1l.5 .3l.6 .2l.5 .1l.6-.3l.5 .1l.6-.2l.5 .2l.6-.3l.5 .6l.6-.8l.5 .5l.6-.3l.5 .1l.6 .3l.5-.6l.6 .4l.5 .1l.6-.1l.5-.2l.6 .3l.5-.1l.6 .1l.5 0l.6 0l.5 0l.6-.3l.5 0l.6-.4l.5 .8l.6-.6l.5 .4l.6-.3l.5 .3l.6 0l.5 0l.6-.2l.5 .4l.6 0l.5-.5l.6 .9l.5-.5l.6-.6l.5 .7l.6-.3l.5-.1l.6-.1l.5 .2l.6-.4l.5 .2l.6 .8l.5-.7l.6-.2l.5 .2l.6 .1l.5-.6l.6 .6l.5-.2l.6-.2l.5-1l.6 .6l.5 .7l.6-.4l.5 .2l.6 0l.5 .3l.6-.5l.5 .3l.6-.8l.5 .7l.6-.2l.5-.3l.6 .4l.5-.3l.6-.1l.5 .4l.6-.2l.5 .5l.6-.6l.5 .4l.6 .3l.5-.4l.6-.5l.5 .2l.6 .4l.5-.1l.6-.8l.5 .3l.6 0l.5-.4l.6 .5l.5-.1l.6 .1l.5-.1l.6-.3l.5 .3l.6 .5l.5-.8l.6 .3l.5-.1l.6 .1l.5-.3l.6-.1l.5-.1l.6 .2l.5-.1l.6-.1l.5-.3l.6 .7l.5-.6l.6-.2l.5 .1l.6 .2l.5-.2l.6 .1l.5-.2l.6-.1l.5-.1l.6 .2l.5-.5l.6 .5l.5-.1l.6-.6l.5 .2l.6-.2l.5-.2l.6 0l.5 .4l.6-.7l.5 .8l.6-.9l.5-.1l.6-.3l.5 .6l.6-.2l.5-.2l.6-.1l.5-.5l.6 .5l.5-.9l.6-.2l.5-.3l.6-1.2l.5 .2l.6-.9l.5-.4l.6-1.5l.5-2.3l.6-3.2l.5-5.4l.6-14l.5-31.4l.6-51.2l.5-34.4l.6 25.8l.5 48.1l.6 24.7l.5-.6l.6-17.7l.5-12.6l.6 17.1l.5 24.5l.6 15.3l.5 6.6l.6 3.3l.5 1.4l.6 1.3l.5 .7l.6 .8l.5 .5l.6 .7l.5-.2l.6 .3l.5 .1l.6 .7l.5-.1l.6 .4l.5 .2l.6 .3l.5-.2l.6 1l.5 .1l.6 .4l.5 .2l.6 .3l.5-.3l.6-.1l.5 .5l.6 .2l.5-.1l.6 .5l.5 .2l.6 .6l.5-.3l.6 .3l.5 .1l.6 .3l.5 .5l.6 .1l.5 .1l.6 .1l.5-.1l.6 .4l.5 0l.6 .5l.5-.4l.6 .5l.5 .1l.6 .1l.5 .6l.6-.6l.5-.3l.6 .6l.5 .5l.6-.1l.5 .2l.6 .1l.5 .4l.6-.1l.5 .1l.6-.3l.5 .5l.6-.1l.5 .7l.6-.2l.5 0l.6 0l.5 0l.6-.1l.5 .2l.6 .2l.5-.5l.6 1l.5-.8l.6 .1l.5 .4l.6-.2l.5 .2l.6 .5l.5-.1l.5 .1" stroke="#0000ff"/>
<path d="M944.5 1500.1l.1-.1l.6 .6l.5-.2l.6-.1l.5-.7l.6 .2l.5 .3l.6 .1l.5 0l.6 0l.5 .2l.6-.5l.5-.1l.6-.3l.5 .8l.6-.4l.5 .1l.6-.1l.5 .1l.6 .4l.5-.1l.6-.3l.5-.4l.6 .8l.5-.3l.6-.2l.5-.3l.6 .5l.5 .2l.6-.1l.5-.1l.6 .1l.5-.1l.6-.3l.5-.1l.6 .1l.5 .2l.6 0l.5 .2l.6-.1l.5 .1l.6 .2l.5-.1l.6 0l.5 .2l.6-.2l.5-.5l.6-.1l.5 .4l.6-.3l.5 .3l.6 .2l.5-.2l.6 0l.5-.1l.6-.1l.5 0l.6-.1l.5 .3l.6-.1l.5 .1l.6-.1l.5 .2l.6-.8l.5 .3l.6 .5l.5-.3l.6 .4l.5-.5l.6 .5l.5-.3l.6-.1l.5 .2l.6-.4l.5 .7l.6-.3l.5-.4l.6 1l.5-1l.6 0l.5 .6l.6-.7l.5 .7l.6-.6l.5 .3l.6-.1l.5 .1l.6 .2l.5 .1l.6 0l.5 0l.6-.6l.5 .4l.6-.1l.5 .2l.6 0l.5-.1l.6 .5l.5-.8l.6 .3l.5-1.1l.6 1l.5-.3l.6 .3l.5 .2l.6-.2l.5-.1l.6-.1l.5 .2l.6 0l.5 .2l.6-.2l.5 0l.6 0l.5 .3l.6 .1l.5-.2l.6-.1l.5 0l.6 .6l.5-.7l.6-.2l.5 .6l.6-.3l.5 .2l.6-.6l.5 .4l.6-.1l.5 .4l.6-.3l.5 .3l.6-.6l.5 .1l.6-.1l.5 .1l.6 0l.5-.4l.6 .5l.5-.4l.6-.5l.5 .3l.6 .1l.5-.5l.6 .2l.5 .2l.6-.4l.5-.1l.6-.4l.5-.6l.6 .1l.5-.6l.6-.6l.5-1.1l.6-1.7l.5-2.6l.6-3.9l.5-5.6l.6-7l.5-7.9l.6-6.9l.5-3.4l.6 1.4l.5 4.7l.6 4.9l.5 3.5l.6 1.6l.5 .5l.6 1l.5 2.7l.6 4.1l.5 4.4l.6 3.9l.5 3.1l.6 2.3l.5 1.5l.6 1l.5 .8l.6 .4l.5 .5l.6 .2l.5 .2l.6-.5l.5 .7l.6 0l.5 .7l.6-1.7l.5 1.4l.6 .1l.5 .1l.6-.2l.5 .3l.6-.4l.5 .3l.6-.1l.5 .3l.6-.1l.5 .1l.6 .3l.5-.5l.6 .2l.5 .3l.6 .1l.5-.5l.6 .2l.5 0l.6 .4l.5-.6l.6-.1l.5 .9l.6-.1l.5-.7l.6 .8l.5-.5l.6 .2l.5 0l.6-.2l.5 .4l.6-.3l.5-.1l.6-.4l.5 .8l.6-.6l.5 .4l.6-.1l.5 .4l.6-.4l.5 .4l.6 .1l.5 0l.6 .3l.5-.6l.6-.3l.5 .8l.6-.1l.5-.4l.6 .2l.5 .4l.6-.8l.5 .3l.6 .4l.5-.5l.6 .2l.5 .3l.6-.4l.5 0l.6 .1l.5-.7l.6 1.4l.5-.6l.6-.2l.5 .2l.6-.2l.5 .1l.6-.4l.5 .8l.6-.4l.5-.1l.6 .1l.5 .2l.6-.3l.5 .2l.6-.1l.5 .3l.6 .2l.5 .1l.6-.7l.5-.2l.6 .8l.5-.6l.6 .4l.3-.2" stroke="#ff0000"/>
<path d="M1661.4 1503.7l.4 .5l.6 .3l.5-.3l.6-.1l.5 .6l.6-.6l.5 .3l.6 .1l.5 0l.6-.6l.5 .6l.6 0l.5 0l.6-.3l.5 .4l.6-.4l.5-.4l.6 .5l.5-.3l.6 .2l.5-.3l.6 .5l.5-.2l.6 .3l.5-.6l.6 .2l.5 0l.6 .2l.5-.1l.6 .2l.5-.1l.6 .1l.5-.2l.6 .4l.5-.6l.6-.1l.5 .5l.6-.1l.5 .3l.6 .9l.5-.6l.6-.4l.5-.4l.6 0l.5 .1l.6 .4l.5-.4l.6-.3l.5 .5l.6 0l.5-.3l.6 .4l.5 .2l.6 .1l.5 0l.6-.3l.5 0l.6-.1l.5 .1l.6-.1l.5-.1l.6 .3l.5-.4l.6-.3l.5 .5l.6 .2l.5-.5l.6 .3l.5 .2l.6-.5l.5 0l.6 .3l.5-.1l.6 .1l.5 0l.6-.8l.5 .8l.6 .3l.5-.7l.6 .1l.5 .2l.6-.7l.5 .1l.6-.2l.5 0l.6-.3l.5-.2l.6-.6l.5-.6l.6-1.7l.5-2.4l.6-3.5l.5-4.8l.6-5.5l.5-4.8l.6-2.1l.5 1.9l.6 4.7l.5 5.2l.6 4.4l.5 3l.6 1.4l.5 0l.6-1.3l.5-2.1l.6-2.3l.5-1.6l.6 .3l.5 2.1l.6 2.8l.5 2.6l.6 2.1l.5 1.5l.6 .8l.5 .7l.6 .6l.5 .3l.6-.3l.5 .3l.6-.2l.5 .3l.6 .3l.5 0l.6 .5l.5-.3l.6-.2l.5 .1l.6-.5l.5 .9l.6-.3l.5-.1l.6 .7l.5-.5l.6 0l.5-.4l.6 .2l.5 0l.6 .3l.5 0l.6 .2l.5-.1l.6 .2l.5 0l.6-.1l.5 .5l.6-.2l.5-.2l.6-.3l.5 .4l.6-.6l.5 .3l.6-.1l.5 0l.6 .4l.5-.1l.6 .1l.5 .4l.6 0l.5-.2l.6-.1l.5 .3l.6-.4l.5-.2l.6 .3l.5-.3l.6 0l.5 .4l.6-.4l.5-1.2l.6 1.5l.5-.3l.6 .7l.5-.9l.6 .8l.5-.6l.6-.4l.5 .8l.6 .1l.5-.1l.6-.4l.5 .2l.6 0l.5 .6l.6-.1l.5-1.5l.6 1.1l.5 .2l.6 .1l.5 .3l.6-1.2l.5 .8l.6 0l.5-.3l.6 .2l.5 0l.6 .4l.5-.5l.6-.3l.5 .2l.6 .2l.5 .1l.6-.1l.5-.2l.6 .4l.5 .1l.6-.4l.5 .3l.6-.2l.5-.1l.6 .1l.5 .4l.6-.5l.5-.3l.6 .4l.5 0l.6 .1l.5 .6l.6-.2l.5-.7l.6 .7l.5-.7l.6 .2l.5 .1l.6 .1l.5 .4l.6-.3l.5 0l.6-.4l.5 .3l.6 .3l.5-.4l.6-.1l.5 .1l.6 .5l.5-.4l.6 .3l.5-.2l.6 .2l.5-.1l.6-.9l.5 .7l.6 .2l.5 0l.6-.1l.5 .2l.6-.4l.5 .7l.6-.6l.5 .1l.6 .1l.5 0l.6 .2l.5-.3l.6 0l.5 .5l.6-.2l.5 0l.6-.2l.5 .1l.6 .2l.5-1.2l.6 1.2l.5 0l.6-.2l.1 0" stroke="#ff0000"/>
</g>
<g class="d">
<rect x="661.1" y="364" width="3.1" height="1182"/>
<rect x="829.0" y="232" width="4.1" height="1314"/>
<rect x="157.8" y="38.1" width="6.1" height="1511.7"/>
<rect x="1874.1" y="38.1" width="6.1" height="1511.7"/>
<rect x="157.8" y="38.1" width="1722.4" height="6.8"/>
<rect x="157.8" y="1543.0" width="1722.4" height="6.8"/>
<rect x="730.00" y="1522.2" width="6.1" height="22"/>
<rect x="1302.10" y="1522.2" width="6.1" height="22"/>
<rect x="443.95" y="1534.1" width="6.1" height="10"/>
<rect x="1016.05" y="1534.1" width="6.1" height="10"/>
<rect x="1588.15" y="1534.1" width="6.1" height="10"/>
<circle cx="662.5" cy="364.3" r="17.7"/>
<circle cx="830.6" cy="232.0" r="18.1"/>
</g>
<g>
<text class="s" transform="matrix(0.6063 0 0 0.6367 723.95 115.42)" font-size="100">♦</text>
<text class="s" transform="matrix(0.6277 0 0 0.6277 759.54 116.90)" font-size="100">●</text>
<text class="s" transform="matrix(0.5538 0 0 0.5456 798.17 119.92)" font-size="100">■</text>
<text class="t" transform="matrix(1 0 0 1.02 0 -2.336)" x="846.07" y="116.80" font-size="57.6">(200)</text>
<text class="s" transform="matrix(0.6633 0 0 0.6599 715.49 203.90)" font-size="100">▲</text>
<text class="w" transform="matrix(0.4871 0 0 0.4501 772.57 199.42)" font-size="100">♠</text>
<text class="t" transform="matrix(1 0 0 1.02 0 -4.078)" x="844.97" y="203.90" font-size="57.6">(111)</text>
<text class="s" transform="matrix(0.6063 0 0 0.6367 551.85 307.42)" font-size="100">♦</text>
<text class="s" transform="matrix(0.6277 0 0 0.6277 586.94 308.90)" font-size="100">●</text>
<text class="s" transform="matrix(0.5538 0 0 0.5456 625.57 311.92)" font-size="100">■</text>
<text class="t" transform="matrix(1 0 0 1.02 0 -6.176)" x="673.27" y="308.80" font-size="57.6">(111)</text>
<text class="t" transform="matrix(1 0 0 1.02 0 -6.744)" x="937.05" y="337.20" font-size="57.6">Substrate</text>
<text class="s" transform="matrix(0.6633 0 0 0.6599 1581.19 348.10)" font-size="100">▲</text>
<text class="w" transform="matrix(0.4871 0 0 0.4501 1638.07 343.62)" font-size="100">♠</text>
<text class="t" transform="matrix(1 0 0 1.02 0 -6.962)" x="1710.37" y="348.10" font-size="57.6">(220)</text>
<text class="s" transform="matrix(0.6063 0 0 0.6367 1353.55 105.22)" font-size="100">♦</text>
<text class="s" transform="matrix(0.6277 0 0 0.6277 1523.14 106.70)" font-size="100">●</text>
<text class="s" transform="matrix(0.5538 0 0 0.5456 1703.77 109.72)" font-size="100">■</text>
<text class="t" transform="matrix(1 0 0 1.02 0 -2.132)" x="1389.56" y="106.60" font-size="57.6">TiN</text>
<text class="t" transform="matrix(1 0 0 1.02 0 -2.132)" x="1561.24" y="106.60" font-size="57.6">AlN</text>
<text class="t" transform="matrix(1 0 0 1.02 0 -2.132)" x="1737.94" y="106.60" font-size="57.6">CrN</text>
<text class="s" transform="matrix(0.6633 0 0 0.6599 1344.79 176.80)" font-size="100">▲</text>
<text class="w" transform="matrix(0.4871 0 0 0.4501 1604.67 172.32)" font-size="100">♠</text>
<text class="t" transform="matrix(1 0 0 1.02 0 -3.536)" x="1406.44" y="176.80" font-size="57.6">Co<tspan font-size="37.6" dx="0" dy="12.3529">3</tspan><tspan dx="0" dy="-12.3529">Ni</tspan></text>
<text class="t" transform="matrix(1 0 0 1.02 0 -3.536)" x="1648.24" y="176.80" font-size="57.6">Co<tspan font-size="37.6" dx="0" dy="12.3529">5.47</tspan><tspan dx="0" dy="-12.3529">N</tspan></text>
<text class="t" transform="matrix(1 0 0 1.02 0 -7.972)" x="203.44" y="398.60" font-size="57.6">NiTiAlCrCo<tspan font-size="37.6" dx="0.6" dy="12.3529">1.4</tspan><tspan dx="0.6" dy="-12.3529">N</tspan></text>
<text class="t" transform="matrix(1 0 0 1.02 0 -12.976)" x="203.44" y="648.80" font-size="57.6">NiTiAlCrCo<tspan font-size="37.6" dx="0.6" dy="12.3529">1.2</tspan><tspan dx="0.6" dy="-12.3529">N</tspan></text>
<text class="t" transform="matrix(1 0 0 1.02 0 -18.398)" x="203.44" y="919.90" font-size="57.6">NiTiAlCrCoN</text>
<text class="t" transform="matrix(1 0 0 1.02 0 -23.620)" x="203.44" y="1181.00" font-size="57.6">NiTiAlCrCo<tspan font-size="37.6" dx="0.6" dy="12.3529">0.8</tspan><tspan dx="0.6" dy="-12.3529">N</tspan></text>
<text class="t" transform="matrix(1 0 0 1.02 0 -28.986)" x="203.44" y="1449.30" font-size="57.6">NiTiAlCrCo<tspan font-size="37.6" dx="0.6" dy="12.3529">0.6</tspan><tspan dx="0.6" dy="-12.3529">N</tspan></text>
<text class="t" transform="matrix(1 0 0 1.02 0 -32.460)" x="160.45" y="1623" font-size="66" text-anchor="middle">20</text>
<text class="t" transform="matrix(1 0 0 1.02 0 -32.460)" x="732.55" y="1623" font-size="66" text-anchor="middle">40</text>
<text class="t" transform="matrix(1 0 0 1.02 0 -32.460)" x="1304.65" y="1623" font-size="66" text-anchor="middle">60</text>
<text class="t" transform="matrix(1 0 0 1.02 0 -32.460)" x="1876.75" y="1623" font-size="66" text-anchor="middle">80</text>
<text class="t" transform="matrix(1 0 0 1.02 0 -34.260)" x="962.01" y="1713.00" font-size="72.6">2θ/(º)</text>
<text class="t" transform="translate(86.1 1036.8) rotate(-90) scale(1 0.99)" x="-2.60" y="0" font-size="72">Intensity/(a.u.)</text>
</g>
</svg>
</body>
</html>
